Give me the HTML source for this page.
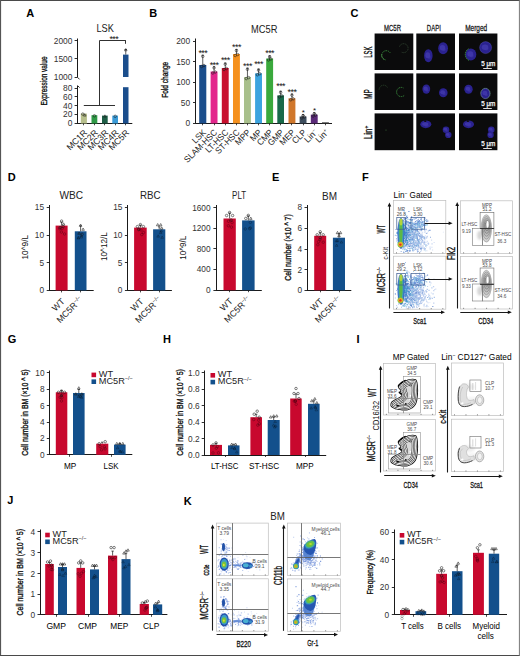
<!DOCTYPE html>
<html><head><meta charset="utf-8"><title>Figure</title>
<style>
html,body{margin:0;padding:0;background:#fff;}
body{width:520px;height:656px;overflow:hidden;}
svg{display:block;font-family:"Liberation Sans", sans-serif;}
</style></head><body>
<svg width="520" height="656" viewBox="0 0 520 656">
<rect x="0" y="0" width="520" height="656" fill="#fff"/>
<text x="26.20" y="17.30" font-size="11" text-anchor="start" font-weight="bold" fill="#000" >A</text>
<text x="96.50" y="32.20" font-size="10.4" text-anchor="start" fill="#222" textLength="17.40" lengthAdjust="spacingAndGlyphs" >LSK</text>
<line x1="77.50" y1="38.50" x2="77.50" y2="77.20" stroke="#1a1a1a" stroke-width="1.0" />
<line x1="77.40" y1="77.20" x2="79.60" y2="79.40" stroke="#1a1a1a" stroke-width="0.9" />
<line x1="77.40" y1="85.40" x2="79.60" y2="87.60" stroke="#1a1a1a" stroke-width="0.9" />
<line x1="77.50" y1="86.00" x2="77.50" y2="123.50" stroke="#1a1a1a" stroke-width="1.0" />
<line x1="74.60" y1="40.50" x2="77.40" y2="40.50" stroke="#1a1a1a" stroke-width="0.9" />
<text x="72.40" y="43.50" font-size="8.4" text-anchor="end" fill="#333" >2000</text>
<line x1="74.60" y1="58.50" x2="77.40" y2="58.50" stroke="#1a1a1a" stroke-width="0.9" />
<text x="72.40" y="61.90" font-size="8.4" text-anchor="end" fill="#333" >1500</text>
<line x1="74.60" y1="77.50" x2="77.40" y2="77.50" stroke="#1a1a1a" stroke-width="0.9" />
<text x="72.40" y="80.30" font-size="8.4" text-anchor="end" fill="#333" >1000</text>
<line x1="74.60" y1="88.50" x2="77.40" y2="88.50" stroke="#1a1a1a" stroke-width="0.9" />
<text x="72.40" y="91.00" font-size="8.4" text-anchor="end" fill="#333" >80</text>
<line x1="74.60" y1="96.50" x2="77.40" y2="96.50" stroke="#1a1a1a" stroke-width="0.9" />
<text x="72.40" y="99.80" font-size="8.4" text-anchor="end" fill="#333" >60</text>
<line x1="74.60" y1="105.50" x2="77.40" y2="105.50" stroke="#1a1a1a" stroke-width="0.9" />
<text x="72.40" y="108.50" font-size="8.4" text-anchor="end" fill="#333" >40</text>
<line x1="74.60" y1="114.50" x2="77.40" y2="114.50" stroke="#1a1a1a" stroke-width="0.9" />
<text x="72.40" y="117.30" font-size="8.4" text-anchor="end" fill="#333" >20</text>
<line x1="74.60" y1="123.50" x2="77.40" y2="123.50" stroke="#1a1a1a" stroke-width="0.9" />
<text x="72.40" y="126.00" font-size="8.4" text-anchor="end" fill="#333" >0</text>
<line x1="76.80" y1="123.50" x2="132.30" y2="123.50" stroke="#1a1a1a" stroke-width="1.0" />
<rect x="80.80" y="113.60" width="6.10" height="9.90" fill="#b7bf8c" />
<line x1="83.50" y1="123.50" x2="83.50" y2="125.30" stroke="#1a1a1a" stroke-width="0.8" />
<rect x="91.50" y="115.20" width="5.80" height="8.30" fill="#2f9946" />
<line x1="94.50" y1="123.50" x2="94.50" y2="125.30" stroke="#1a1a1a" stroke-width="0.8" />
<rect x="102.00" y="115.60" width="5.70" height="7.90" fill="#1e5e46" />
<line x1="104.50" y1="123.50" x2="104.50" y2="125.30" stroke="#1a1a1a" stroke-width="0.8" />
<rect x="112.30" y="115.60" width="5.70" height="7.90" fill="#3b9bd7" />
<line x1="115.50" y1="123.50" x2="115.50" y2="125.30" stroke="#1a1a1a" stroke-width="0.8" />
<circle cx="82.80" cy="114.10" r="1.25" fill="none" stroke="#1a1a1a" stroke-width="0.55"/>
<path d="M83.50 116.10 L84.80 113.80 L86.10 116.10 Z" fill="none" stroke="#1a1a1a" stroke-width="0.55"/>
<circle cx="94.40" cy="115.80" r="1.25" fill="none" stroke="#1a1a1a" stroke-width="0.55"/>
<path d="M103.60 117.10 L104.90 114.80 L106.20 117.10 Z" fill="none" stroke="#1a1a1a" stroke-width="0.55"/>
<circle cx="115.20" cy="116.30" r="1.25" fill="none" stroke="#1a1a1a" stroke-width="0.55"/>
<rect x="123.00" y="54.60" width="5.50" height="22.40" fill="#1b4e8c" />
<rect x="123.00" y="87.20" width="5.50" height="36.30" fill="#1b4e8c" />
<line x1="125.50" y1="123.50" x2="125.50" y2="125.30" stroke="#1a1a1a" stroke-width="0.8" />
<line x1="125.75" y1="54.60" x2="125.75" y2="49.50" stroke="#1a1a1a" stroke-width="0.7" />
<line x1="124.55" y1="49.50" x2="126.95" y2="49.50" stroke="#1a1a1a" stroke-width="0.7" />
<path d="M124.45 50.80 L125.75 48.50 L127.05 50.80 Z" fill="none" stroke="#1a1a1a" stroke-width="0.55"/>
<line x1="83.80" y1="105.50" x2="115.00" y2="105.50" stroke="#1a1a1a" stroke-width="0.9" />
<line x1="99.50" y1="105.00" x2="99.50" y2="40.50" stroke="#1a1a1a" stroke-width="0.9" />
<line x1="99.60" y1="40.50" x2="125.80" y2="40.50" stroke="#1a1a1a" stroke-width="0.9" />
<line x1="125.50" y1="40.50" x2="125.50" y2="43.80" stroke="#1a1a1a" stroke-width="0.9" />
<text x="113.80" y="41.80" font-size="9" text-anchor="middle" fill="#111" letter-spacing="-0.6">***</text>
<text x="0" y="0" font-size="8.8" text-anchor="end" fill="#222" transform="translate(87.80 133.20) rotate(-45)">MC1R</text>
<text x="0" y="0" font-size="8.8" text-anchor="end" fill="#222" transform="translate(98.40 133.20) rotate(-45)">MC2R</text>
<text x="0" y="0" font-size="8.8" text-anchor="end" fill="#222" transform="translate(108.90 133.20) rotate(-45)">MC3R</text>
<text x="0" y="0" font-size="8.8" text-anchor="end" fill="#222" transform="translate(119.20 133.20) rotate(-45)">MC4R</text>
<text x="0" y="0" font-size="8.8" text-anchor="end" fill="#222" transform="translate(129.80 133.20) rotate(-45)">MC5R</text>
<text x="0" y="0" font-size="9.6" text-anchor="middle" fill="#111" stroke="#111" stroke-width="0.35" textLength="49.00" lengthAdjust="spacingAndGlyphs" transform="translate(43.20 81.00) rotate(-90)" dy="0.35em">Expression value</text>
<text x="149.20" y="17.30" font-size="11" text-anchor="start" font-weight="bold" fill="#000" >B</text>
<text x="251.00" y="32.60" font-size="10.4" text-anchor="start" fill="#222" textLength="26.40" lengthAdjust="spacingAndGlyphs" >MC5R</text>
<line x1="195.50" y1="38.50" x2="195.50" y2="123.50" stroke="#1a1a1a" stroke-width="1.0" />
<line x1="193.00" y1="41.50" x2="195.80" y2="41.50" stroke="#1a1a1a" stroke-width="0.9" />
<text x="190.20" y="44.00" font-size="8.4" text-anchor="end" fill="#333" >200</text>
<line x1="193.00" y1="61.50" x2="195.80" y2="61.50" stroke="#1a1a1a" stroke-width="0.9" />
<text x="190.20" y="64.50" font-size="8.4" text-anchor="end" fill="#333" >150</text>
<line x1="193.00" y1="82.50" x2="195.80" y2="82.50" stroke="#1a1a1a" stroke-width="0.9" />
<text x="190.20" y="85.00" font-size="8.4" text-anchor="end" fill="#333" >100</text>
<line x1="193.00" y1="102.50" x2="195.80" y2="102.50" stroke="#1a1a1a" stroke-width="0.9" />
<text x="190.20" y="105.50" font-size="8.4" text-anchor="end" fill="#333" >50</text>
<line x1="193.00" y1="123.50" x2="195.80" y2="123.50" stroke="#1a1a1a" stroke-width="0.9" />
<text x="190.20" y="126.00" font-size="8.4" text-anchor="end" fill="#333" >0</text>
<line x1="195.30" y1="123.50" x2="332.00" y2="123.50" stroke="#1a1a1a" stroke-width="1.0" />
<rect x="199.20" y="65.00" width="7.10" height="58.40" fill="#1b4e8c" />
<line x1="202.50" y1="123.40" x2="202.50" y2="125.30" stroke="#1a1a1a" stroke-width="0.8" />
<line x1="202.75" y1="65.00" x2="202.75" y2="55.20" stroke="#1a1a1a" stroke-width="0.7" />
<line x1="201.65" y1="55.20" x2="203.85" y2="55.20" stroke="#1a1a1a" stroke-width="0.7" />
<circle cx="201.55" cy="66.50" r="1.25" fill="none" stroke="#1a1a1a" stroke-width="0.55"/>
<circle cx="203.95" cy="65.50" r="1.25" fill="none" stroke="#1a1a1a" stroke-width="0.55"/>
<circle cx="202.75" cy="56.40" r="1.25" fill="none" stroke="#1a1a1a" stroke-width="0.55"/>
<text x="202.75" y="56.20" font-size="9" text-anchor="middle" fill="#111" letter-spacing="-0.6">***</text>
<rect x="210.60" y="71.50" width="6.90" height="51.90" fill="#e3268c" />
<line x1="214.50" y1="123.40" x2="214.50" y2="125.30" stroke="#1a1a1a" stroke-width="0.8" />
<line x1="214.05" y1="71.50" x2="214.05" y2="66.70" stroke="#1a1a1a" stroke-width="0.7" />
<line x1="212.95" y1="66.70" x2="215.15" y2="66.70" stroke="#1a1a1a" stroke-width="0.7" />
<circle cx="212.85" cy="73.00" r="1.25" fill="none" stroke="#1a1a1a" stroke-width="0.55"/>
<circle cx="215.25" cy="72.00" r="1.25" fill="none" stroke="#1a1a1a" stroke-width="0.55"/>
<circle cx="214.05" cy="67.90" r="1.25" fill="none" stroke="#1a1a1a" stroke-width="0.55"/>
<text x="214.05" y="67.80" font-size="9" text-anchor="middle" fill="#111" letter-spacing="-0.6">***</text>
<rect x="221.80" y="68.00" width="6.90" height="55.40" fill="#c8102e" />
<line x1="225.50" y1="123.40" x2="225.50" y2="125.30" stroke="#1a1a1a" stroke-width="0.8" />
<line x1="225.25" y1="68.00" x2="225.25" y2="63.00" stroke="#1a1a1a" stroke-width="0.7" />
<line x1="224.15" y1="63.00" x2="226.35" y2="63.00" stroke="#1a1a1a" stroke-width="0.7" />
<circle cx="224.05" cy="69.50" r="1.25" fill="none" stroke="#1a1a1a" stroke-width="0.55"/>
<circle cx="226.45" cy="68.50" r="1.25" fill="none" stroke="#1a1a1a" stroke-width="0.55"/>
<circle cx="225.25" cy="64.20" r="1.25" fill="none" stroke="#1a1a1a" stroke-width="0.55"/>
<text x="225.25" y="62.80" font-size="9" text-anchor="middle" fill="#111" letter-spacing="-0.6">***</text>
<rect x="233.00" y="54.00" width="6.90" height="69.40" fill="#f5911e" />
<line x1="236.50" y1="123.40" x2="236.50" y2="125.30" stroke="#1a1a1a" stroke-width="0.8" />
<line x1="236.45" y1="54.00" x2="236.45" y2="49.40" stroke="#1a1a1a" stroke-width="0.7" />
<line x1="235.35" y1="49.40" x2="237.55" y2="49.40" stroke="#1a1a1a" stroke-width="0.7" />
<circle cx="235.25" cy="55.50" r="1.25" fill="none" stroke="#1a1a1a" stroke-width="0.55"/>
<circle cx="237.65" cy="54.50" r="1.25" fill="none" stroke="#1a1a1a" stroke-width="0.55"/>
<circle cx="236.45" cy="50.60" r="1.25" fill="none" stroke="#1a1a1a" stroke-width="0.55"/>
<text x="236.45" y="49.80" font-size="9" text-anchor="middle" fill="#111" letter-spacing="-0.6">***</text>
<rect x="244.00" y="77.10" width="6.90" height="46.30" fill="#a8bf8b" />
<line x1="247.50" y1="123.40" x2="247.50" y2="125.30" stroke="#1a1a1a" stroke-width="0.8" />
<line x1="247.45" y1="77.10" x2="247.45" y2="68.10" stroke="#1a1a1a" stroke-width="0.7" />
<line x1="246.35" y1="68.10" x2="248.55" y2="68.10" stroke="#1a1a1a" stroke-width="0.7" />
<circle cx="246.25" cy="78.60" r="1.25" fill="none" stroke="#1a1a1a" stroke-width="0.55"/>
<circle cx="248.65" cy="77.60" r="1.25" fill="none" stroke="#1a1a1a" stroke-width="0.55"/>
<circle cx="247.45" cy="69.30" r="1.25" fill="none" stroke="#1a1a1a" stroke-width="0.55"/>
<text x="247.45" y="68.60" font-size="9" text-anchor="middle" fill="#111" letter-spacing="-0.6">***</text>
<rect x="255.10" y="73.30" width="6.90" height="50.10" fill="#3ca4df" />
<line x1="258.50" y1="123.40" x2="258.50" y2="125.30" stroke="#1a1a1a" stroke-width="0.8" />
<line x1="258.55" y1="73.30" x2="258.55" y2="69.00" stroke="#1a1a1a" stroke-width="0.7" />
<line x1="257.45" y1="69.00" x2="259.65" y2="69.00" stroke="#1a1a1a" stroke-width="0.7" />
<circle cx="257.35" cy="74.80" r="1.25" fill="none" stroke="#1a1a1a" stroke-width="0.55"/>
<circle cx="259.75" cy="73.80" r="1.25" fill="none" stroke="#1a1a1a" stroke-width="0.55"/>
<circle cx="258.55" cy="70.20" r="1.25" fill="none" stroke="#1a1a1a" stroke-width="0.55"/>
<text x="258.55" y="66.60" font-size="9" text-anchor="middle" fill="#111" letter-spacing="-0.6">***</text>
<rect x="266.20" y="58.50" width="6.90" height="64.90" fill="#3aa93c" />
<line x1="269.50" y1="123.40" x2="269.50" y2="125.30" stroke="#1a1a1a" stroke-width="0.8" />
<line x1="269.65" y1="58.50" x2="269.65" y2="55.70" stroke="#1a1a1a" stroke-width="0.7" />
<line x1="268.55" y1="55.70" x2="270.75" y2="55.70" stroke="#1a1a1a" stroke-width="0.7" />
<circle cx="268.45" cy="60.00" r="1.25" fill="none" stroke="#1a1a1a" stroke-width="0.55"/>
<circle cx="270.85" cy="59.00" r="1.25" fill="none" stroke="#1a1a1a" stroke-width="0.55"/>
<circle cx="269.65" cy="56.90" r="1.25" fill="none" stroke="#1a1a1a" stroke-width="0.55"/>
<text x="269.65" y="56.20" font-size="9" text-anchor="middle" fill="#111" letter-spacing="-0.6">***</text>
<rect x="277.30" y="95.40" width="6.70" height="28.00" fill="#186a4a" />
<line x1="280.50" y1="123.40" x2="280.50" y2="125.30" stroke="#1a1a1a" stroke-width="0.8" />
<line x1="280.65" y1="95.40" x2="280.65" y2="91.20" stroke="#1a1a1a" stroke-width="0.7" />
<line x1="279.55" y1="91.20" x2="281.75" y2="91.20" stroke="#1a1a1a" stroke-width="0.7" />
<circle cx="279.45" cy="96.90" r="1.25" fill="none" stroke="#1a1a1a" stroke-width="0.55"/>
<circle cx="281.85" cy="95.90" r="1.25" fill="none" stroke="#1a1a1a" stroke-width="0.55"/>
<circle cx="280.65" cy="92.40" r="1.25" fill="none" stroke="#1a1a1a" stroke-width="0.55"/>
<text x="280.65" y="89.40" font-size="9" text-anchor="middle" fill="#111" letter-spacing="-0.6">***</text>
<rect x="288.50" y="98.30" width="6.90" height="25.10" fill="#d0772b" />
<line x1="291.50" y1="123.40" x2="291.50" y2="125.30" stroke="#1a1a1a" stroke-width="0.8" />
<line x1="291.95" y1="98.30" x2="291.95" y2="94.00" stroke="#1a1a1a" stroke-width="0.7" />
<line x1="290.85" y1="94.00" x2="293.05" y2="94.00" stroke="#1a1a1a" stroke-width="0.7" />
<circle cx="290.75" cy="99.80" r="1.25" fill="none" stroke="#1a1a1a" stroke-width="0.55"/>
<circle cx="293.15" cy="98.80" r="1.25" fill="none" stroke="#1a1a1a" stroke-width="0.55"/>
<circle cx="291.95" cy="95.20" r="1.25" fill="none" stroke="#1a1a1a" stroke-width="0.55"/>
<text x="291.95" y="94.60" font-size="9" text-anchor="middle" fill="#111" letter-spacing="-0.6">***</text>
<rect x="299.60" y="116.50" width="6.90" height="6.90" fill="#3e4e5e" />
<line x1="303.50" y1="123.40" x2="303.50" y2="125.30" stroke="#1a1a1a" stroke-width="0.8" />
<line x1="303.05" y1="116.50" x2="303.05" y2="114.50" stroke="#1a1a1a" stroke-width="0.7" />
<line x1="301.95" y1="114.50" x2="304.15" y2="114.50" stroke="#1a1a1a" stroke-width="0.7" />
<circle cx="301.85" cy="118.00" r="1.25" fill="none" stroke="#1a1a1a" stroke-width="0.55"/>
<circle cx="304.25" cy="117.00" r="1.25" fill="none" stroke="#1a1a1a" stroke-width="0.55"/>
<circle cx="303.05" cy="115.70" r="1.25" fill="none" stroke="#1a1a1a" stroke-width="0.55"/>
<text x="303.05" y="115.30" font-size="8" text-anchor="middle" fill="#111" letter-spacing="-0.6">*</text>
<rect x="310.80" y="114.60" width="6.90" height="8.80" fill="#5a2a78" />
<line x1="314.50" y1="123.40" x2="314.50" y2="125.30" stroke="#1a1a1a" stroke-width="0.8" />
<line x1="314.25" y1="114.60" x2="314.25" y2="112.60" stroke="#1a1a1a" stroke-width="0.7" />
<line x1="313.15" y1="112.60" x2="315.35" y2="112.60" stroke="#1a1a1a" stroke-width="0.7" />
<circle cx="313.05" cy="116.10" r="1.25" fill="none" stroke="#1a1a1a" stroke-width="0.55"/>
<circle cx="315.45" cy="115.10" r="1.25" fill="none" stroke="#1a1a1a" stroke-width="0.55"/>
<circle cx="314.25" cy="113.80" r="1.25" fill="none" stroke="#1a1a1a" stroke-width="0.55"/>
<text x="314.25" y="112.70" font-size="8" text-anchor="middle" fill="#111" letter-spacing="-0.6">*</text>
<rect x="322.00" y="122.30" width="6.90" height="1.10" fill="#444" />
<line x1="325.50" y1="123.40" x2="325.50" y2="125.30" stroke="#1a1a1a" stroke-width="0.8" />
<text x="0" y="0" font-size="8.8" text-anchor="end" fill="#222" textLength="15.64" lengthAdjust="spacingAndGlyphs" transform="translate(206.55 133.00) rotate(-45)">LSK</text>
<text x="0" y="0" font-size="8.8" text-anchor="end" fill="#222" textLength="42.75" lengthAdjust="spacingAndGlyphs" transform="translate(217.85 133.00) rotate(-45)">SLAM-HSC</text>
<text x="0" y="0" font-size="8.8" text-anchor="end" fill="#222" textLength="28.80" lengthAdjust="spacingAndGlyphs" transform="translate(229.05 133.00) rotate(-45)">LT-HSC</text>
<text x="0" y="0" font-size="8.8" text-anchor="end" fill="#222" textLength="30.33" lengthAdjust="spacingAndGlyphs" transform="translate(240.25 133.00) rotate(-45)">ST-HSC</text>
<text x="0" y="0" font-size="8.8" text-anchor="end" fill="#222" textLength="17.93" lengthAdjust="spacingAndGlyphs" transform="translate(251.25 133.00) rotate(-45)">MPP</text>
<text x="0" y="0" font-size="8.8" text-anchor="end" fill="#222" textLength="12.41" lengthAdjust="spacingAndGlyphs" transform="translate(262.35 133.00) rotate(-45)">MP</text>
<text x="0" y="0" font-size="8.8" text-anchor="end" fill="#222" textLength="18.38" lengthAdjust="spacingAndGlyphs" transform="translate(273.45 133.00) rotate(-45)">CMP</text>
<text x="0" y="0" font-size="8.8" text-anchor="end" fill="#222" textLength="18.84" lengthAdjust="spacingAndGlyphs" transform="translate(284.45 133.00) rotate(-45)">GMP</text>
<text x="0" y="0" font-size="8.8" text-anchor="end" fill="#222" textLength="17.93" lengthAdjust="spacingAndGlyphs" transform="translate(295.75 133.00) rotate(-45)">MEP</text>
<text x="0" y="0" font-size="8.8" text-anchor="end" fill="#222" textLength="16.09" lengthAdjust="spacingAndGlyphs" transform="translate(306.85 133.00) rotate(-45)">CLP</text>
<text x="0" y="0" font-size="8.8" text-anchor="end" fill="#222" transform="translate(318.05 133.00) rotate(-45)">Lin<tspan font-size="5" dy="-3.2">−</tspan></text>
<text x="0" y="0" font-size="8.8" text-anchor="end" fill="#222" transform="translate(329.25 133.00) rotate(-45)">Lin<tspan font-size="5" dy="-3.2">+</tspan></text>
<text x="0" y="0" font-size="9.4" text-anchor="middle" fill="#111" stroke="#111" stroke-width="0.35" textLength="36.00" lengthAdjust="spacingAndGlyphs" transform="translate(165.00 79.80) rotate(-90)" dy="0.35em">Fold change</text>
<text x="350.40" y="17.00" font-size="11" text-anchor="start" font-weight="bold" fill="#000" >C</text>
<text x="384.00" y="30.90" font-size="9.8" fill="#1a1a1a" stroke="#1a1a1a" stroke-width="0.3" textLength="17.00" lengthAdjust="spacingAndGlyphs">MC5R</text>
<text x="426.80" y="30.90" font-size="9.8" fill="#1a1a1a" stroke="#1a1a1a" stroke-width="0.3" textLength="14.00" lengthAdjust="spacingAndGlyphs">DAPI</text>
<text x="465.20" y="30.90" font-size="9.8" fill="#1a1a1a" stroke="#1a1a1a" stroke-width="0.3" textLength="22.00" lengthAdjust="spacingAndGlyphs">Merged</text>
<defs><filter id="bl05" x="-20%" y="-20%" width="140%" height="140%"><feGaussianBlur stdDeviation="0.35"/></filter><filter id="bl1" x="-50%" y="-50%" width="200%" height="200%"><feGaussianBlur stdDeviation="0.7"/></filter><filter id="bl2" x="-50%" y="-50%" width="200%" height="200%"><feGaussianBlur stdDeviation="1.2"/></filter><filter id="bl3" x="-50%" y="-50%" width="200%" height="200%"><feGaussianBlur stdDeviation="2.0"/></filter><filter id="bl4" x="-50%" y="-50%" width="200%" height="200%"><feGaussianBlur stdDeviation="3.0"/></filter></defs>
<rect x="374.60" y="33.50" width="38.70" height="36.50" fill="#0b0b0c" />
<rect x="374.60" y="73.40" width="38.70" height="36.60" fill="#0b0b0c" />
<rect x="374.60" y="113.40" width="38.70" height="36.80" fill="#0b0b0c" />
<rect x="416.30" y="33.50" width="38.70" height="36.50" fill="#0b0b0c" />
<rect x="416.30" y="73.40" width="38.70" height="36.60" fill="#0b0b0c" />
<rect x="416.30" y="113.40" width="38.70" height="36.80" fill="#0b0b0c" />
<rect x="459.00" y="33.50" width="38.40" height="36.50" fill="#0b0b0c" />
<rect x="459.00" y="73.40" width="38.40" height="36.60" fill="#0b0b0c" />
<rect x="459.00" y="113.40" width="38.40" height="36.80" fill="#0b0b0c" />
<path d="M385.50 59.83 A4.6 4.6 0 1 1 390.28 53.00" fill="none" stroke="#3f9a42" stroke-width="0.9" opacity="0.9" stroke-dasharray="1.4 0.7" filter="url(#bl05)"/>
<path d="M384.00 59.28 A4.6 4.6 0 0 1 381.98 53.73" fill="none" stroke="#6fd06a" stroke-width="0.7" opacity="0.8" stroke-dasharray="1.4 0.7" filter="url(#bl05)"/>
<path d="M399.37 46.66 A4.5 4.5 0 1 1 401.35 52.10" fill="none" stroke="#4a6a4a" stroke-width="0.6" opacity="0.8" stroke-dasharray="1.4 0.7" filter="url(#bl05)"/>
<ellipse cx="428.30" cy="55.70" rx="4.3" ry="6.5" fill="#2a2290" filter="url(#bl1)"/>
<ellipse cx="427.70" cy="55.30" rx="2.37" ry="2.93" fill="#4c42b8" opacity="0.6" filter="url(#bl1)"/>
<ellipse cx="429.10" cy="56.90" rx="1.50" ry="1.95" fill="#4038a8" opacity="0.6" filter="url(#bl05)"/>
<ellipse cx="443.10" cy="48.20" rx="4.9" ry="6.0" fill="#2a2290" filter="url(#bl1)"/>
<ellipse cx="442.50" cy="47.80" rx="2.70" ry="2.70" fill="#4c42b8" opacity="0.6" filter="url(#bl1)"/>
<ellipse cx="443.90" cy="49.40" rx="1.72" ry="1.80" fill="#4038a8" opacity="0.6" filter="url(#bl05)"/>
<ellipse cx="470.90" cy="54.50" rx="5.4" ry="6.1" fill="#2a2290" filter="url(#bl1)"/>
<ellipse cx="470.30" cy="54.10" rx="2.97" ry="2.75" fill="#4c42b8" opacity="0.6" filter="url(#bl1)"/>
<ellipse cx="471.70" cy="55.70" rx="1.89" ry="1.83" fill="#4038a8" opacity="0.6" filter="url(#bl05)"/>
<path d="M468.98 60.33 A5.6 6.2 0 0 1 468.98 48.67" fill="none" stroke="#3f9a42" stroke-width="0.9" opacity="1.0" stroke-dasharray="1.4 0.7" filter="url(#bl05)"/>
<ellipse cx="485.60" cy="47.60" rx="6.0" ry="6.0" fill="#2a2290" filter="url(#bl1)"/>
<ellipse cx="485.00" cy="47.20" rx="3.30" ry="2.70" fill="#4c42b8" opacity="0.6" filter="url(#bl1)"/>
<ellipse cx="486.40" cy="48.80" rx="2.10" ry="1.80" fill="#4038a8" opacity="0.6" filter="url(#bl05)"/>
<ellipse cx="485.6" cy="47.6" rx="6.0" ry="6.0" fill="none" stroke="#6a6ad8" stroke-width="0.5" opacity="0.6"/>
<path d="M379.10 89.70 A4.5 4.5 0 0 1 387.50 87.45" fill="none" stroke="#3d6a3e" stroke-width="0.7" opacity="0.7" stroke-dasharray="1.4 0.7" filter="url(#bl05)"/>
<path d="M404.16 95.52 A4.6 4.6 0 1 1 403.50 88.02" fill="none" stroke="#3f9a42" stroke-width="0.8" opacity="1.0" stroke-dasharray="1.4 0.7" filter="url(#bl05)"/>
<ellipse cx="426.30" cy="89.10" rx="3.9" ry="4.7" fill="#2a2290" filter="url(#bl1)"/>
<ellipse cx="425.70" cy="88.70" rx="2.15" ry="2.12" fill="#4c42b8" opacity="0.6" filter="url(#bl1)"/>
<ellipse cx="427.10" cy="90.30" rx="1.36" ry="1.41" fill="#4038a8" opacity="0.6" filter="url(#bl05)"/>
<ellipse cx="443.30" cy="92.70" rx="4.3" ry="4.5" fill="#2a2290" filter="url(#bl1)"/>
<ellipse cx="442.70" cy="92.30" rx="2.37" ry="2.02" fill="#4c42b8" opacity="0.6" filter="url(#bl1)"/>
<ellipse cx="444.10" cy="93.90" rx="1.50" ry="1.35" fill="#4038a8" opacity="0.6" filter="url(#bl05)"/>
<ellipse cx="468.50" cy="89.20" rx="4.2" ry="4.5" fill="#2a2290" filter="url(#bl1)"/>
<ellipse cx="467.90" cy="88.80" rx="2.31" ry="2.02" fill="#4c42b8" opacity="0.6" filter="url(#bl1)"/>
<ellipse cx="469.30" cy="90.40" rx="1.47" ry="1.35" fill="#4038a8" opacity="0.6" filter="url(#bl05)"/>
<ellipse cx="485.40" cy="93.50" rx="4.5" ry="5.0" fill="#2a2290" filter="url(#bl1)"/>
<ellipse cx="484.80" cy="93.10" rx="2.48" ry="2.25" fill="#4c42b8" opacity="0.6" filter="url(#bl1)"/>
<ellipse cx="486.20" cy="94.70" rx="1.57" ry="1.50" fill="#4038a8" opacity="0.6" filter="url(#bl05)"/>
<ellipse cx="485.4" cy="93.5" rx="4.6" ry="5.1" fill="none" stroke="#8fa0e0" stroke-width="0.6" opacity="0.8"/>
<path d="M480.60 93.50 A4.8 5.3 0 1 1 487.04 98.48" fill="none" stroke="#5ab05a" stroke-width="0.6" opacity="0.6" stroke-dasharray="1.4 0.7" filter="url(#bl05)"/>
<circle cx="386" cy="130" r="0.6" fill="#3a6a3a"/>
<ellipse cx="425.80" cy="124.30" rx="5.5" ry="3.9" fill="#2a2290" filter="url(#bl1)"/>
<ellipse cx="425.20" cy="123.90" rx="3.03" ry="1.75" fill="#4c42b8" opacity="0.6" filter="url(#bl1)"/>
<ellipse cx="426.60" cy="125.50" rx="1.92" ry="1.17" fill="#4038a8" opacity="0.6" filter="url(#bl05)"/>
<ellipse cx="425.20" cy="121.2" rx="1.2" ry="0.8" fill="#0b0b0c" filter="url(#bl05)"/>
<ellipse cx="446.00" cy="129.70" rx="3.3" ry="3.2" fill="#2a2290" filter="url(#bl1)"/>
<ellipse cx="445.40" cy="129.30" rx="1.81" ry="1.44" fill="#4c42b8" opacity="0.6" filter="url(#bl1)"/>
<ellipse cx="446.80" cy="130.90" rx="1.15" ry="0.96" fill="#4038a8" opacity="0.6" filter="url(#bl05)"/>
<ellipse cx="448.30" cy="134.90" rx="3.2" ry="3.1" fill="#2a2290" filter="url(#bl1)"/>
<ellipse cx="447.70" cy="134.50" rx="1.76" ry="1.40" fill="#4c42b8" opacity="0.6" filter="url(#bl1)"/>
<ellipse cx="449.10" cy="136.10" rx="1.12" ry="0.93" fill="#4038a8" opacity="0.6" filter="url(#bl05)"/>
<ellipse cx="468.50" cy="124.30" rx="5.5" ry="3.9" fill="#2a2290" filter="url(#bl1)"/>
<ellipse cx="467.90" cy="123.90" rx="3.03" ry="1.75" fill="#4c42b8" opacity="0.6" filter="url(#bl1)"/>
<ellipse cx="469.30" cy="125.50" rx="1.92" ry="1.17" fill="#4038a8" opacity="0.6" filter="url(#bl05)"/>
<ellipse cx="467.90" cy="121.2" rx="1.2" ry="0.8" fill="#0b0b0c" filter="url(#bl05)"/>
<ellipse cx="491.26" cy="129.70" rx="3.3" ry="3.2" fill="#2a2290" filter="url(#bl1)"/>
<ellipse cx="490.66" cy="129.30" rx="1.81" ry="1.44" fill="#4c42b8" opacity="0.6" filter="url(#bl1)"/>
<ellipse cx="492.06" cy="130.90" rx="1.15" ry="0.96" fill="#4038a8" opacity="0.6" filter="url(#bl05)"/>
<ellipse cx="490.57" cy="134.90" rx="3.2" ry="3.1" fill="#2a2290" filter="url(#bl1)"/>
<ellipse cx="489.97" cy="134.50" rx="1.76" ry="1.40" fill="#4c42b8" opacity="0.6" filter="url(#bl1)"/>
<ellipse cx="491.37" cy="136.10" rx="1.12" ry="0.93" fill="#4038a8" opacity="0.6" filter="url(#bl05)"/>
<text x="481.2" y="65.80" font-size="7.4" fill="#fff" stroke="#fff" stroke-width="0.25" textLength="14.2" lengthAdjust="spacingAndGlyphs">5 μm</text>
<line x1="483.20" y1="68.50" x2="491.80" y2="68.50" stroke="#ddd" stroke-width="1.0" />
<text x="481.2" y="105.80" font-size="7.4" fill="#fff" stroke="#fff" stroke-width="0.25" textLength="14.2" lengthAdjust="spacingAndGlyphs">5 μm</text>
<line x1="483.20" y1="108.50" x2="491.80" y2="108.50" stroke="#ddd" stroke-width="1.0" />
<text x="481.2" y="146.00" font-size="7.4" fill="#fff" stroke="#fff" stroke-width="0.25" textLength="14.2" lengthAdjust="spacingAndGlyphs">5 μm</text>
<line x1="483.20" y1="148.50" x2="491.80" y2="148.50" stroke="#ddd" stroke-width="1.0" />
<text x="0" y="0" font-size="10.0" text-anchor="middle" fill="#111" stroke="#111" stroke-width="0.35" textLength="11.20" lengthAdjust="spacingAndGlyphs" transform="translate(368.70 52.20) rotate(-90)" dy="0.35em">LSK</text>
<text x="0" y="0" font-size="10.0" text-anchor="middle" fill="#111" stroke="#111" stroke-width="0.35" textLength="9.40" lengthAdjust="spacingAndGlyphs" transform="translate(368.90 94.00) rotate(-90)" dy="0.35em">MP</text>
<text x="0" y="0" font-size="10" text-anchor="middle" fill="#111" stroke="#111" stroke-width="0.35" textLength="13.5" lengthAdjust="spacingAndGlyphs" transform="translate(368.7 132.4) rotate(-90)" dy="0.35em">Lin<tspan font-size="6" dy="-3.8">+</tspan></text>
<text x="7.80" y="181.00" font-size="11" text-anchor="start" font-weight="bold" fill="#000" >D</text>
<text x="59.50" y="199.40" font-size="10.4" text-anchor="start" fill="#222" textLength="23.60" lengthAdjust="spacingAndGlyphs" >WBC</text>
<line x1="49.50" y1="205.00" x2="49.50" y2="290.40" stroke="#1a1a1a" stroke-width="1.0" />
<line x1="46.70" y1="207.50" x2="49.50" y2="207.50" stroke="#1a1a1a" stroke-width="0.9" />
<text x="44.00" y="210.39" font-size="8.3" text-anchor="end" fill="#333" >15</text>
<line x1="46.70" y1="235.50" x2="49.50" y2="235.50" stroke="#1a1a1a" stroke-width="0.9" />
<text x="44.00" y="237.99" font-size="8.3" text-anchor="end" fill="#333" >10</text>
<line x1="46.70" y1="262.50" x2="49.50" y2="262.50" stroke="#1a1a1a" stroke-width="0.9" />
<text x="44.00" y="265.69" font-size="8.3" text-anchor="end" fill="#333" >5</text>
<line x1="46.70" y1="290.50" x2="49.50" y2="290.50" stroke="#1a1a1a" stroke-width="0.9" />
<text x="44.00" y="293.39" font-size="8.3" text-anchor="end" fill="#333" >0</text>
<line x1="49.00" y1="290.50" x2="93.70" y2="290.50" stroke="#1a1a1a" stroke-width="1.0" />
<rect x="55.60" y="225.60" width="12.00" height="64.80" fill="#c8082e" />
<rect x="74.80" y="231.30" width="11.70" height="59.10" fill="#13508c" />
<circle cx="62.12" cy="228.56" r="1.25" fill="none" stroke="rgba(0,0,0,0.45)" stroke-width="0.55"/>
<circle cx="64.58" cy="234.03" r="1.25" fill="none" stroke="rgba(0,0,0,0.45)" stroke-width="0.55"/>
<circle cx="61.39" cy="232.08" r="1.25" fill="none" stroke="rgba(0,0,0,0.45)" stroke-width="0.55"/>
<circle cx="59.77" cy="228.76" r="1.25" fill="none" stroke="rgba(0,0,0,0.45)" stroke-width="0.55"/>
<line x1="61.60" y1="225.60" x2="61.60" y2="222.10" stroke="#1a1a1a" stroke-width="0.7" />
<line x1="60.40" y1="222.10" x2="62.80" y2="222.10" stroke="#1a1a1a" stroke-width="0.7" />
<circle cx="60.10" cy="227.60" r="1.25" fill="none" stroke="#1a1a1a" stroke-width="0.55"/>
<circle cx="63.10" cy="226.60" r="1.25" fill="none" stroke="#1a1a1a" stroke-width="0.55"/>
<circle cx="61.60" cy="221.10" r="1.25" fill="none" stroke="#1a1a1a" stroke-width="0.55"/>
<path d="M62.30 225.10 L63.60 222.80 L64.90 225.10 Z" fill="none" stroke="#1a1a1a" stroke-width="0.55"/>
<path d="M77.05 238.42 L78.35 236.12 L79.65 238.42 Z" fill="none" stroke="rgba(0,0,0,0.45)" stroke-width="0.55"/>
<path d="M77.19 239.14 L78.49 236.84 L79.79 239.14 Z" fill="none" stroke="rgba(0,0,0,0.45)" stroke-width="0.55"/>
<path d="M79.99 236.68 L81.29 234.38 L82.59 236.68 Z" fill="none" stroke="rgba(0,0,0,0.45)" stroke-width="0.55"/>
<path d="M80.05 238.05 L81.35 235.75 L82.65 238.05 Z" fill="none" stroke="rgba(0,0,0,0.45)" stroke-width="0.55"/>
<line x1="80.60" y1="231.30" x2="80.60" y2="225.80" stroke="#1a1a1a" stroke-width="0.7" />
<line x1="79.40" y1="225.80" x2="81.80" y2="225.80" stroke="#1a1a1a" stroke-width="0.7" />
<path d="M77.80 234.30 L79.10 232.00 L80.40 234.30 Z" fill="none" stroke="#1a1a1a" stroke-width="0.55"/>
<path d="M81.80 230.30 L83.10 228.00 L84.40 230.30 Z" fill="none" stroke="#1a1a1a" stroke-width="0.55"/>
<path d="M79.30 226.30 L80.60 224.00 L81.90 226.30 Z" fill="none" stroke="#1a1a1a" stroke-width="0.55"/>
<circle cx="82.10" cy="234.30" r="1.25" fill="none" stroke="#1a1a1a" stroke-width="0.55"/>
<text x="0" y="0" font-size="9.6" text-anchor="middle" fill="#111" textLength="24.60" lengthAdjust="spacingAndGlyphs" transform="translate(24.60 247.20) rotate(-90)" dy="0.35em">10^9/L</text>
<text x="140.00" y="199.40" font-size="10.4" text-anchor="start" fill="#222" textLength="20.60" lengthAdjust="spacingAndGlyphs" >RBC</text>
<line x1="127.50" y1="205.00" x2="127.50" y2="290.40" stroke="#1a1a1a" stroke-width="1.0" />
<line x1="124.90" y1="207.50" x2="127.70" y2="207.50" stroke="#1a1a1a" stroke-width="0.9" />
<text x="122.40" y="210.29" font-size="8.3" text-anchor="end" fill="#333" >15</text>
<line x1="124.90" y1="235.50" x2="127.70" y2="235.50" stroke="#1a1a1a" stroke-width="0.9" />
<text x="122.40" y="238.39" font-size="8.3" text-anchor="end" fill="#333" >10</text>
<line x1="124.90" y1="262.50" x2="127.70" y2="262.50" stroke="#1a1a1a" stroke-width="0.9" />
<text x="122.40" y="265.69" font-size="8.3" text-anchor="end" fill="#333" >5</text>
<line x1="124.90" y1="290.50" x2="127.70" y2="290.50" stroke="#1a1a1a" stroke-width="0.9" />
<text x="122.40" y="293.39" font-size="8.3" text-anchor="end" fill="#333" >0</text>
<line x1="127.20" y1="290.50" x2="171.90" y2="290.50" stroke="#1a1a1a" stroke-width="1.0" />
<rect x="134.10" y="227.60" width="12.60" height="62.80" fill="#c8082e" />
<rect x="153.10" y="229.30" width="12.20" height="61.10" fill="#13508c" />
<circle cx="143.47" cy="232.52" r="1.25" fill="none" stroke="rgba(0,0,0,0.45)" stroke-width="0.55"/>
<circle cx="141.80" cy="234.61" r="1.25" fill="none" stroke="rgba(0,0,0,0.45)" stroke-width="0.55"/>
<circle cx="138.58" cy="229.69" r="1.25" fill="none" stroke="rgba(0,0,0,0.45)" stroke-width="0.55"/>
<circle cx="141.06" cy="230.01" r="1.25" fill="none" stroke="rgba(0,0,0,0.45)" stroke-width="0.55"/>
<line x1="140.40" y1="227.60" x2="140.40" y2="225.10" stroke="#1a1a1a" stroke-width="0.7" />
<line x1="139.20" y1="225.10" x2="141.60" y2="225.10" stroke="#1a1a1a" stroke-width="0.7" />
<circle cx="137.40" cy="226.60" r="1.25" fill="none" stroke="#1a1a1a" stroke-width="0.55"/>
<circle cx="143.40" cy="226.60" r="1.25" fill="none" stroke="#1a1a1a" stroke-width="0.55"/>
<circle cx="140.40" cy="224.60" r="1.25" fill="none" stroke="#1a1a1a" stroke-width="0.55"/>
<circle cx="138.90" cy="229.10" r="1.25" fill="none" stroke="#1a1a1a" stroke-width="0.55"/>
<path d="M160.84 238.34 L162.14 236.04 L163.44 238.34 Z" fill="none" stroke="rgba(0,0,0,0.45)" stroke-width="0.55"/>
<path d="M159.38 233.51 L160.68 231.21 L161.98 233.51 Z" fill="none" stroke="rgba(0,0,0,0.45)" stroke-width="0.55"/>
<path d="M156.82 237.15 L158.12 234.85 L159.42 237.15 Z" fill="none" stroke="rgba(0,0,0,0.45)" stroke-width="0.55"/>
<path d="M159.86 231.93 L161.16 229.63 L162.46 231.93 Z" fill="none" stroke="rgba(0,0,0,0.45)" stroke-width="0.55"/>
<line x1="159.20" y1="229.30" x2="159.20" y2="226.80" stroke="#1a1a1a" stroke-width="0.7" />
<line x1="158.00" y1="226.80" x2="160.40" y2="226.80" stroke="#1a1a1a" stroke-width="0.7" />
<path d="M156.40 225.80 L157.70 223.50 L159.00 225.80 Z" fill="none" stroke="#1a1a1a" stroke-width="0.55"/>
<path d="M159.40 225.80 L160.70 223.50 L162.00 225.80 Z" fill="none" stroke="#1a1a1a" stroke-width="0.55"/>
<path d="M160.40 229.10 L161.70 226.80 L163.00 229.10 Z" fill="none" stroke="#1a1a1a" stroke-width="0.55"/>
<text x="0" y="0" font-size="9.6" text-anchor="middle" fill="#111" textLength="29.00" lengthAdjust="spacingAndGlyphs" transform="translate(103.80 246.60) rotate(-90)" dy="0.35em">10^12/L</text>
<text x="232.10" y="199.40" font-size="10.4" text-anchor="start" fill="#222" textLength="14.00" lengthAdjust="spacingAndGlyphs" >PLT</text>
<line x1="216.50" y1="205.00" x2="216.50" y2="290.20" stroke="#1a1a1a" stroke-width="1.0" />
<line x1="213.40" y1="207.50" x2="216.20" y2="207.50" stroke="#1a1a1a" stroke-width="0.9" />
<text x="210.60" y="210.89" font-size="8.3" text-anchor="end" fill="#333" >1600</text>
<line x1="213.40" y1="228.50" x2="216.20" y2="228.50" stroke="#1a1a1a" stroke-width="0.9" />
<text x="210.60" y="230.99" font-size="8.3" text-anchor="end" fill="#333" >1200</text>
<line x1="213.40" y1="248.50" x2="216.20" y2="248.50" stroke="#1a1a1a" stroke-width="0.9" />
<text x="210.60" y="251.79" font-size="8.3" text-anchor="end" fill="#333" >800</text>
<line x1="213.40" y1="269.50" x2="216.20" y2="269.50" stroke="#1a1a1a" stroke-width="0.9" />
<text x="210.60" y="272.39" font-size="8.3" text-anchor="end" fill="#333" >400</text>
<line x1="213.40" y1="290.50" x2="216.20" y2="290.50" stroke="#1a1a1a" stroke-width="0.9" />
<text x="210.60" y="292.99" font-size="8.3" text-anchor="end" fill="#333" >0</text>
<line x1="215.70" y1="290.50" x2="261.80" y2="290.50" stroke="#1a1a1a" stroke-width="1.0" />
<rect x="223.50" y="218.50" width="12.30" height="71.70" fill="#c8082e" />
<rect x="242.10" y="220.40" width="12.50" height="69.80" fill="#13508c" />
<circle cx="232.02" cy="222.62" r="1.25" fill="none" stroke="rgba(0,0,0,0.45)" stroke-width="0.55"/>
<circle cx="231.46" cy="227.14" r="1.25" fill="none" stroke="rgba(0,0,0,0.45)" stroke-width="0.55"/>
<circle cx="228.40" cy="225.76" r="1.25" fill="none" stroke="rgba(0,0,0,0.45)" stroke-width="0.55"/>
<circle cx="228.54" cy="221.23" r="1.25" fill="none" stroke="rgba(0,0,0,0.45)" stroke-width="0.55"/>
<line x1="229.60" y1="218.50" x2="229.60" y2="213.00" stroke="#1a1a1a" stroke-width="0.7" />
<line x1="228.40" y1="213.00" x2="230.80" y2="213.00" stroke="#1a1a1a" stroke-width="0.7" />
<circle cx="226.60" cy="215.50" r="1.25" fill="none" stroke="#1a1a1a" stroke-width="0.55"/>
<circle cx="232.60" cy="215.50" r="1.25" fill="none" stroke="#1a1a1a" stroke-width="0.55"/>
<circle cx="229.60" cy="212.50" r="1.25" fill="none" stroke="#1a1a1a" stroke-width="0.55"/>
<circle cx="231.10" cy="220.00" r="1.25" fill="none" stroke="#1a1a1a" stroke-width="0.55"/>
<circle cx="249.65" cy="228.66" r="1.25" fill="none" stroke="rgba(0,0,0,0.45)" stroke-width="0.55"/>
<circle cx="245.21" cy="228.97" r="1.25" fill="none" stroke="rgba(0,0,0,0.45)" stroke-width="0.55"/>
<circle cx="250.35" cy="222.33" r="1.25" fill="none" stroke="rgba(0,0,0,0.45)" stroke-width="0.55"/>
<circle cx="250.26" cy="227.93" r="1.25" fill="none" stroke="rgba(0,0,0,0.45)" stroke-width="0.55"/>
<line x1="248.30" y1="220.40" x2="248.30" y2="215.90" stroke="#1a1a1a" stroke-width="0.7" />
<line x1="247.10" y1="215.90" x2="249.50" y2="215.90" stroke="#1a1a1a" stroke-width="0.7" />
<circle cx="245.80" cy="218.40" r="1.25" fill="none" stroke="#1a1a1a" stroke-width="0.55"/>
<path d="M249.50 219.40 L250.80 217.10 L252.10 219.40 Z" fill="none" stroke="#1a1a1a" stroke-width="0.55"/>
<circle cx="248.30" cy="215.40" r="1.25" fill="none" stroke="#1a1a1a" stroke-width="0.55"/>
<text x="0" y="0" font-size="9.6" text-anchor="middle" fill="#111" textLength="24.00" lengthAdjust="spacingAndGlyphs" transform="translate(183.00 247.80) rotate(-90)" dy="0.35em">10^9/L</text>
<line x1="61.50" y1="290.40" x2="61.50" y2="292.40" stroke="#1a1a1a" stroke-width="0.8" />
<line x1="80.50" y1="290.40" x2="80.50" y2="292.40" stroke="#1a1a1a" stroke-width="0.8" />
<text x="0" y="0" font-size="8.8" text-anchor="end" fill="#222" transform="translate(65.20 302.00) rotate(-45)">WT</text>
<text x="0" y="0" font-size="8.8" text-anchor="end" fill="#222" transform="translate(83.40 300.20) rotate(-45)">MC5R<tspan font-size="5.5" dy="-3.2">−/−</tspan></text>
<line x1="140.50" y1="290.40" x2="140.50" y2="292.40" stroke="#1a1a1a" stroke-width="0.8" />
<line x1="159.50" y1="290.40" x2="159.50" y2="292.40" stroke="#1a1a1a" stroke-width="0.8" />
<text x="0" y="0" font-size="8.8" text-anchor="end" fill="#222" transform="translate(144.00 302.00) rotate(-45)">WT</text>
<text x="0" y="0" font-size="8.8" text-anchor="end" fill="#222" transform="translate(162.00 300.20) rotate(-45)">MC5R<tspan font-size="5.5" dy="-3.2">−/−</tspan></text>
<line x1="229.50" y1="290.20" x2="229.50" y2="292.20" stroke="#1a1a1a" stroke-width="0.8" />
<line x1="248.50" y1="290.20" x2="248.50" y2="292.20" stroke="#1a1a1a" stroke-width="0.8" />
<text x="0" y="0" font-size="8.8" text-anchor="end" fill="#222" transform="translate(233.20 301.80) rotate(-45)">WT</text>
<text x="0" y="0" font-size="8.8" text-anchor="end" fill="#222" transform="translate(251.10 300.00) rotate(-45)">MC5R<tspan font-size="5.5" dy="-3.2">−/−</tspan></text>
<text x="271.90" y="181.30" font-size="11" text-anchor="start" font-weight="bold" fill="#000" >E</text>
<text x="322.10" y="199.60" font-size="10.4" text-anchor="start" fill="#222" textLength="15.00" lengthAdjust="spacingAndGlyphs" >BM</text>
<line x1="307.50" y1="205.00" x2="307.50" y2="290.30" stroke="#1a1a1a" stroke-width="1.0" />
<line x1="304.50" y1="207.50" x2="307.30" y2="207.50" stroke="#1a1a1a" stroke-width="0.9" />
<text x="302.00" y="210.29" font-size="8.3" text-anchor="end" fill="#333" >8</text>
<line x1="304.50" y1="228.50" x2="307.30" y2="228.50" stroke="#1a1a1a" stroke-width="0.9" />
<text x="302.00" y="231.19" font-size="8.3" text-anchor="end" fill="#333" >6</text>
<line x1="304.50" y1="249.50" x2="307.30" y2="249.50" stroke="#1a1a1a" stroke-width="0.9" />
<text x="302.00" y="251.99" font-size="8.3" text-anchor="end" fill="#333" >4</text>
<line x1="304.50" y1="269.50" x2="307.30" y2="269.50" stroke="#1a1a1a" stroke-width="0.9" />
<text x="302.00" y="272.59" font-size="8.3" text-anchor="end" fill="#333" >2</text>
<line x1="304.50" y1="290.50" x2="307.30" y2="290.50" stroke="#1a1a1a" stroke-width="0.9" />
<text x="302.00" y="293.29" font-size="8.3" text-anchor="end" fill="#333" >0</text>
<line x1="306.80" y1="290.50" x2="351.30" y2="290.50" stroke="#1a1a1a" stroke-width="1.0" />
<rect x="314.20" y="235.80" width="12.00" height="54.50" fill="#c8082e" />
<rect x="332.90" y="237.70" width="12.10" height="52.60" fill="#13508c" />
<circle cx="318.58" cy="241.66" r="1.25" fill="none" stroke="rgba(0,0,0,0.45)" stroke-width="0.55"/>
<circle cx="323.22" cy="242.23" r="1.25" fill="none" stroke="rgba(0,0,0,0.45)" stroke-width="0.55"/>
<circle cx="320.09" cy="239.62" r="1.25" fill="none" stroke="rgba(0,0,0,0.45)" stroke-width="0.55"/>
<circle cx="317.88" cy="244.79" r="1.25" fill="none" stroke="rgba(0,0,0,0.45)" stroke-width="0.55"/>
<line x1="320.20" y1="235.80" x2="320.20" y2="232.80" stroke="#1a1a1a" stroke-width="0.7" />
<line x1="319.00" y1="232.80" x2="321.40" y2="232.80" stroke="#1a1a1a" stroke-width="0.7" />
<circle cx="317.20" cy="234.80" r="1.25" fill="none" stroke="#1a1a1a" stroke-width="0.55"/>
<circle cx="320.20" cy="231.80" r="1.25" fill="none" stroke="#1a1a1a" stroke-width="0.55"/>
<circle cx="323.20" cy="234.80" r="1.25" fill="none" stroke="#1a1a1a" stroke-width="0.55"/>
<circle cx="320.20" cy="237.80" r="1.25" fill="none" stroke="#1a1a1a" stroke-width="0.55"/>
<path d="M335.34 246.32 L336.64 244.02 L337.94 246.32 Z" fill="none" stroke="rgba(0,0,0,0.45)" stroke-width="0.55"/>
<path d="M340.13 243.09 L341.43 240.79 L342.73 243.09 Z" fill="none" stroke="rgba(0,0,0,0.45)" stroke-width="0.55"/>
<path d="M336.27 241.67 L337.57 239.37 L338.87 241.67 Z" fill="none" stroke="rgba(0,0,0,0.45)" stroke-width="0.55"/>
<path d="M335.02 241.81 L336.32 239.51 L337.62 241.81 Z" fill="none" stroke="rgba(0,0,0,0.45)" stroke-width="0.55"/>
<line x1="339.00" y1="237.70" x2="339.00" y2="233.70" stroke="#1a1a1a" stroke-width="0.7" />
<line x1="337.80" y1="233.70" x2="340.20" y2="233.70" stroke="#1a1a1a" stroke-width="0.7" />
<path d="M336.20 233.70 L337.50 231.40 L338.80 233.70 Z" fill="none" stroke="#1a1a1a" stroke-width="0.55"/>
<path d="M339.20 233.70 L340.50 231.40 L341.80 233.70 Z" fill="none" stroke="#1a1a1a" stroke-width="0.55"/>
<path d="M337.70 236.70 L339.00 234.40 L340.30 236.70 Z" fill="none" stroke="#1a1a1a" stroke-width="0.55"/>
<text x="0" y="0" font-size="9.0" text-anchor="middle" fill="#111" stroke="#111" stroke-width="0.35" textLength="66.50" lengthAdjust="spacingAndGlyphs" transform="translate(287.40 247.50) rotate(-90)" dy="0.35em">Cell number (×10 ^ 7)</text>
<line x1="320.50" y1="290.30" x2="320.50" y2="292.30" stroke="#1a1a1a" stroke-width="0.8" />
<line x1="339.50" y1="290.30" x2="339.50" y2="292.30" stroke="#1a1a1a" stroke-width="0.8" />
<text x="0" y="0" font-size="8.8" text-anchor="end" fill="#222" transform="translate(323.80 301.90) rotate(-45)">WT</text>
<text x="0" y="0" font-size="8.8" text-anchor="end" fill="#222" transform="translate(341.80 300.10) rotate(-45)">MC5R<tspan font-size="5.5" dy="-3.2">−/−</tspan></text>
<text x="361.90" y="181.00" font-size="11" text-anchor="start" font-weight="bold" fill="#000" >F</text>
<text x="393.60" y="198.20" font-size="9.4" text-anchor="start" textLength="38.20" lengthAdjust="spacingAndGlyphs" >Lin<tspan font-size="5.5" dy="-3.2">−</tspan><tspan dy="3.2"> Gated</tspan></text>
<rect x="393.50" y="200.40" width="52.30" height="53.00" fill="#fff" stroke="#bdbdbd" stroke-width="0.7"/>
<path fill="#5b84d0" opacity="0.7" d="M413.7 244.4h1.2v1.2h-1.2zM421.1 237.3h0.8v0.8h-0.8zM405.5 244.3h0.9v0.9h-0.9zM408.8 243.5h0.8v0.8h-0.8zM420.4 236.2h1.3v1.3h-1.3zM412.4 238.1h0.8v0.8h-0.8zM403.3 224.5h0.7v0.7h-0.7zM407.0 240.9h1.3v1.3h-1.3zM411.8 236.2h1.1v1.1h-1.1zM401.3 236.3h1.3v1.3h-1.3zM401.4 225.5h1.3v1.3h-1.3zM405.9 230.1h1.1v1.1h-1.1zM410.5 236.4h1.0v1.0h-1.0zM414.7 234.5h0.9v0.9h-0.9zM409.7 218.9h0.9v0.9h-0.9zM412.9 228.4h0.8v0.8h-0.8zM396.8 233.0h1.0v1.0h-1.0zM409.7 245.3h1.0v1.0h-1.0zM417.9 245.1h1.3v1.3h-1.3zM417.9 245.6h1.0v1.0h-1.0zM411.1 239.2h1.0v1.0h-1.0zM404.3 227.6h1.0v1.0h-1.0zM411.0 229.6h0.8v0.8h-0.8zM405.0 239.5h1.1v1.1h-1.1zM411.6 230.8h1.3v1.3h-1.3zM413.5 241.8h0.8v0.8h-0.8zM423.0 224.9h1.2v1.2h-1.2zM400.2 233.7h0.7v0.7h-0.7zM423.7 218.5h1.3v1.3h-1.3zM407.2 248.4h0.8v0.8h-0.8zM410.3 227.7h1.0v1.0h-1.0zM418.1 241.1h1.2v1.2h-1.2zM409.8 247.7h1.0v1.0h-1.0zM416.6 233.5h0.9v0.9h-0.9zM411.9 232.2h1.3v1.3h-1.3zM407.2 233.3h1.0v1.0h-1.0zM412.6 227.6h1.1v1.1h-1.1zM420.6 228.3h1.0v1.0h-1.0zM405.3 241.9h1.1v1.1h-1.1zM414.2 228.9h1.0v1.0h-1.0zM415.5 234.6h1.1v1.1h-1.1zM412.3 242.7h1.0v1.0h-1.0zM414.0 232.3h1.2v1.2h-1.2zM407.3 246.2h1.0v1.0h-1.0zM404.5 245.6h1.0v1.0h-1.0zM412.7 228.5h1.0v1.0h-1.0zM409.5 237.4h1.0v1.0h-1.0zM405.3 224.3h0.7v0.7h-0.7zM407.6 236.2h1.0v1.0h-1.0zM405.3 236.7h0.8v0.8h-0.8zM410.6 236.5h1.2v1.2h-1.2zM405.6 235.5h1.1v1.1h-1.1zM416.8 239.0h1.3v1.3h-1.3zM421.4 235.5h1.2v1.2h-1.2zM413.2 235.8h1.2v1.2h-1.2zM407.2 241.5h0.8v0.8h-0.8zM405.5 219.4h0.8v0.8h-0.8zM412.5 236.6h1.3v1.3h-1.3zM417.5 216.8h0.7v0.7h-0.7zM402.1 229.3h0.8v0.8h-0.8zM408.9 250.1h1.3v1.3h-1.3zM402.0 235.6h1.3v1.3h-1.3zM409.4 231.2h1.1v1.1h-1.1zM412.2 224.5h1.2v1.2h-1.2zM416.9 236.5h0.9v0.9h-0.9zM402.1 243.8h0.9v0.9h-0.9zM420.4 248.2h1.2v1.2h-1.2zM413.0 227.5h0.8v0.8h-0.8zM426.3 233.0h1.0v1.0h-1.0zM414.8 231.7h1.1v1.1h-1.1zM402.0 231.1h1.0v1.0h-1.0zM408.2 231.7h1.2v1.2h-1.2zM410.2 250.1h0.7v0.7h-0.7zM417.0 230.7h1.0v1.0h-1.0zM411.0 243.0h1.2v1.2h-1.2zM417.3 250.9h1.0v1.0h-1.0zM399.4 237.2h1.2v1.2h-1.2zM416.8 239.8h0.7v0.7h-0.7zM413.0 246.8h1.1v1.1h-1.1zM413.2 230.4h1.1v1.1h-1.1zM406.0 228.5h1.0v1.0h-1.0zM412.9 241.0h0.8v0.8h-0.8zM401.8 231.3h1.2v1.2h-1.2zM415.1 230.5h0.8v0.8h-0.8zM409.4 232.2h1.2v1.2h-1.2zM409.5 223.3h1.2v1.2h-1.2zM410.7 226.4h1.3v1.3h-1.3zM401.9 219.9h0.8v0.8h-0.8zM418.9 235.6h1.2v1.2h-1.2zM404.1 243.6h0.9v0.9h-0.9zM395.4 229.0h1.1v1.1h-1.1zM400.9 231.0h1.1v1.1h-1.1zM410.0 234.7h1.1v1.1h-1.1zM396.1 238.3h0.9v0.9h-0.9zM411.3 234.2h0.8v0.8h-0.8z"/>
<path fill="#6f95da" opacity="0.7" d="M404.6 243.1h0.7v0.7h-0.7zM416.1 245.0h1.0v1.0h-1.0zM416.9 227.0h0.8v0.8h-0.8zM400.1 233.3h0.7v0.7h-0.7zM401.8 241.2h1.2v1.2h-1.2zM399.7 245.6h1.1v1.1h-1.1zM402.0 227.3h0.8v0.8h-0.8zM413.8 245.7h0.9v0.9h-0.9zM411.9 236.3h1.0v1.0h-1.0zM413.4 242.4h0.9v0.9h-0.9zM417.6 239.3h1.1v1.1h-1.1zM400.7 235.8h1.1v1.1h-1.1zM416.7 236.6h1.1v1.1h-1.1zM417.8 231.2h1.2v1.2h-1.2zM409.8 233.7h1.2v1.2h-1.2zM408.3 229.3h0.8v0.8h-0.8zM403.0 238.0h0.8v0.8h-0.8zM419.8 236.8h1.0v1.0h-1.0zM411.9 239.6h1.1v1.1h-1.1zM408.0 225.9h0.8v0.8h-0.8zM407.4 235.1h1.3v1.3h-1.3zM406.6 237.8h0.7v0.7h-0.7zM410.6 242.9h1.2v1.2h-1.2zM416.3 235.3h0.9v0.9h-0.9zM404.9 225.8h0.8v0.8h-0.8zM408.7 224.7h0.8v0.8h-0.8zM415.5 232.4h0.9v0.9h-0.9zM412.2 250.1h1.2v1.2h-1.2zM400.8 238.4h1.2v1.2h-1.2zM402.5 226.6h1.0v1.0h-1.0zM414.0 244.4h1.3v1.3h-1.3zM415.2 228.1h1.1v1.1h-1.1zM402.8 233.6h0.9v0.9h-0.9zM397.7 237.3h1.1v1.1h-1.1zM411.9 222.4h1.0v1.0h-1.0zM409.9 226.9h1.2v1.2h-1.2zM404.4 241.6h0.7v0.7h-0.7zM408.0 237.6h1.0v1.0h-1.0zM417.9 233.3h0.9v0.9h-0.9zM418.4 225.9h0.7v0.7h-0.7zM410.9 247.2h0.8v0.8h-0.8zM425.8 233.0h0.7v0.7h-0.7zM403.9 231.2h1.1v1.1h-1.1zM411.7 233.9h1.2v1.2h-1.2zM414.4 229.6h1.2v1.2h-1.2zM413.5 226.5h1.3v1.3h-1.3zM409.5 239.1h1.2v1.2h-1.2zM406.4 223.6h0.7v0.7h-0.7zM424.2 237.2h1.1v1.1h-1.1zM411.9 237.6h0.8v0.8h-0.8zM405.5 235.0h1.0v1.0h-1.0zM402.0 221.9h1.2v1.2h-1.2zM412.8 241.3h1.2v1.2h-1.2zM415.5 244.9h1.2v1.2h-1.2zM425.4 228.8h1.3v1.3h-1.3zM417.4 231.0h1.2v1.2h-1.2zM407.2 236.9h0.8v0.8h-0.8zM408.9 235.5h1.0v1.0h-1.0zM418.9 232.7h1.2v1.2h-1.2zM406.5 244.1h1.3v1.3h-1.3zM404.8 240.2h1.3v1.3h-1.3zM419.9 251.0h0.8v0.8h-0.8zM402.0 233.2h0.8v0.8h-0.8zM413.7 226.0h1.2v1.2h-1.2zM421.1 247.6h1.3v1.3h-1.3zM406.1 250.6h1.2v1.2h-1.2zM411.5 224.4h0.7v0.7h-0.7zM419.5 246.6h0.9v0.9h-0.9zM400.7 242.7h1.0v1.0h-1.0zM408.0 238.3h0.9v0.9h-0.9zM408.9 224.8h0.7v0.7h-0.7zM417.0 238.9h1.0v1.0h-1.0zM410.5 242.7h0.7v0.7h-0.7zM413.6 238.8h1.0v1.0h-1.0zM421.3 234.4h1.3v1.3h-1.3zM406.0 234.4h1.2v1.2h-1.2zM406.0 229.3h0.8v0.8h-0.8zM409.7 231.5h0.8v0.8h-0.8zM404.4 234.5h1.0v1.0h-1.0zM422.2 239.7h1.1v1.1h-1.1zM413.3 233.7h1.2v1.2h-1.2zM417.5 243.0h1.3v1.3h-1.3zM412.3 231.2h0.9v0.9h-0.9zM407.4 236.6h0.8v0.8h-0.8zM417.1 223.5h1.2v1.2h-1.2zM408.5 236.0h1.1v1.1h-1.1zM402.9 246.7h1.2v1.2h-1.2zM407.6 238.4h0.8v0.8h-0.8zM404.9 235.8h1.3v1.3h-1.3zM413.3 234.0h0.9v0.9h-0.9zM411.5 219.9h0.9v0.9h-0.9zM413.8 236.2h0.8v0.8h-0.8zM400.3 228.1h1.2v1.2h-1.2zM403.8 231.7h0.8v0.8h-0.8zM403.0 232.9h1.1v1.1h-1.1zM417.1 240.2h0.9v0.9h-0.9zM419.0 232.6h1.2v1.2h-1.2zM414.2 244.5h0.9v0.9h-0.9zM401.5 230.0h1.0v1.0h-1.0zM407.8 225.9h1.1v1.1h-1.1zM410.9 226.4h1.0v1.0h-1.0zM408.5 244.1h0.8v0.8h-0.8z"/>
<path fill="#89a9e2" opacity="0.7" d="M411.4 227.3h1.0v1.0h-1.0zM400.8 232.3h1.1v1.1h-1.1zM404.8 235.3h1.0v1.0h-1.0zM417.8 243.1h1.1v1.1h-1.1zM415.5 230.9h0.8v0.8h-0.8zM408.6 232.0h1.0v1.0h-1.0zM400.1 241.7h0.9v0.9h-0.9zM409.9 244.5h1.0v1.0h-1.0zM415.5 243.4h0.7v0.7h-0.7zM405.7 245.3h1.1v1.1h-1.1zM407.8 240.8h0.9v0.9h-0.9zM415.1 236.6h0.9v0.9h-0.9zM417.2 248.7h1.2v1.2h-1.2zM412.3 244.1h1.1v1.1h-1.1zM411.9 222.2h1.1v1.1h-1.1zM411.9 228.4h1.0v1.0h-1.0zM400.7 239.5h0.7v0.7h-0.7zM414.5 217.7h0.8v0.8h-0.8zM408.2 228.7h1.1v1.1h-1.1zM423.0 236.3h0.9v0.9h-0.9zM404.0 243.5h1.1v1.1h-1.1zM412.7 218.4h1.1v1.1h-1.1zM406.6 235.7h1.2v1.2h-1.2zM409.6 250.3h0.9v0.9h-0.9zM405.6 225.4h0.9v0.9h-0.9zM415.6 237.6h0.8v0.8h-0.8zM412.0 231.5h1.1v1.1h-1.1zM410.2 233.5h1.0v1.0h-1.0zM406.6 228.4h1.1v1.1h-1.1zM402.3 229.6h1.2v1.2h-1.2zM410.4 236.2h0.9v0.9h-0.9zM396.7 239.4h1.2v1.2h-1.2zM405.0 244.5h1.2v1.2h-1.2zM409.6 227.6h1.2v1.2h-1.2zM410.2 222.5h0.8v0.8h-0.8zM409.9 234.7h1.2v1.2h-1.2zM409.7 240.6h1.0v1.0h-1.0zM403.4 240.0h0.8v0.8h-0.8zM416.2 238.2h0.9v0.9h-0.9zM415.1 233.8h0.8v0.8h-0.8zM405.7 249.6h0.9v0.9h-0.9zM409.9 233.7h1.1v1.1h-1.1zM399.2 238.1h1.3v1.3h-1.3zM415.3 247.3h0.7v0.7h-0.7zM409.9 238.9h1.0v1.0h-1.0zM399.9 238.4h0.7v0.7h-0.7zM414.4 224.2h0.9v0.9h-0.9zM412.1 228.3h1.0v1.0h-1.0zM426.0 244.5h1.1v1.1h-1.1zM408.0 229.7h0.9v0.9h-0.9zM413.7 249.7h0.8v0.8h-0.8zM416.6 242.4h1.0v1.0h-1.0zM406.3 240.0h0.8v0.8h-0.8zM399.7 229.0h1.0v1.0h-1.0zM418.9 234.9h1.1v1.1h-1.1zM411.3 219.5h1.0v1.0h-1.0zM409.1 234.1h0.8v0.8h-0.8zM411.5 219.1h1.2v1.2h-1.2zM406.0 242.0h0.9v0.9h-0.9zM404.7 243.5h1.0v1.0h-1.0zM423.5 237.7h1.2v1.2h-1.2zM396.4 240.4h1.3v1.3h-1.3zM411.9 231.4h1.3v1.3h-1.3zM400.2 243.4h1.0v1.0h-1.0zM411.6 230.5h1.1v1.1h-1.1zM406.9 221.6h1.0v1.0h-1.0zM412.2 242.3h0.8v0.8h-0.8zM413.0 235.3h0.9v0.9h-0.9zM413.6 233.3h1.3v1.3h-1.3zM403.5 227.3h1.2v1.2h-1.2zM409.4 226.5h0.8v0.8h-0.8zM413.5 238.3h1.0v1.0h-1.0zM412.0 232.0h0.8v0.8h-0.8zM407.4 240.0h0.9v0.9h-0.9zM412.0 225.6h1.0v1.0h-1.0zM408.5 235.4h0.8v0.8h-0.8zM410.7 240.6h0.9v0.9h-0.9zM397.7 233.3h0.8v0.8h-0.8zM406.1 246.2h0.7v0.7h-0.7zM416.8 240.9h0.8v0.8h-0.8zM410.1 225.0h1.2v1.2h-1.2zM408.2 222.2h1.2v1.2h-1.2zM406.7 232.1h1.1v1.1h-1.1zM408.3 233.7h0.9v0.9h-0.9zM412.4 235.5h1.2v1.2h-1.2zM417.2 232.8h1.1v1.1h-1.1zM411.1 227.8h0.7v0.7h-0.7zM402.5 232.7h0.7v0.7h-0.7zM415.6 217.5h0.9v0.9h-0.9zM405.4 233.5h1.0v1.0h-1.0zM424.3 231.7h0.9v0.9h-0.9zM400.6 240.9h1.0v1.0h-1.0zM419.9 244.3h0.8v0.8h-0.8zM405.6 241.7h0.7v0.7h-0.7zM403.9 243.9h1.2v1.2h-1.2zM415.9 234.0h0.9v0.9h-0.9zM420.1 226.7h1.1v1.1h-1.1zM410.2 244.8h1.3v1.3h-1.3zM414.3 218.2h1.3v1.3h-1.3zM415.7 241.4h1.0v1.0h-1.0zM410.8 238.9h1.1v1.1h-1.1zM415.6 245.0h1.1v1.1h-1.1zM409.6 227.0h0.7v0.7h-0.7zM409.8 240.7h1.0v1.0h-1.0zM401.0 234.1h1.2v1.2h-1.2z"/>
<path fill="#4c78c8" opacity="0.7" d="M415.6 245.9h1.1v1.1h-1.1zM402.6 238.3h0.9v0.9h-0.9zM418.0 239.8h1.0v1.0h-1.0zM415.6 230.1h0.9v0.9h-0.9zM413.3 236.0h1.1v1.1h-1.1zM417.7 251.2h0.8v0.8h-0.8zM399.2 226.5h1.0v1.0h-1.0zM421.2 241.5h1.2v1.2h-1.2zM405.0 230.4h1.0v1.0h-1.0zM412.2 221.4h0.7v0.7h-0.7zM416.9 226.8h1.1v1.1h-1.1zM403.2 238.8h0.9v0.9h-0.9zM409.4 243.1h1.3v1.3h-1.3zM404.8 231.5h1.0v1.0h-1.0zM408.1 238.5h1.2v1.2h-1.2zM408.5 234.9h0.8v0.8h-0.8zM409.7 234.1h0.9v0.9h-0.9zM396.6 231.8h1.3v1.3h-1.3zM411.7 244.9h0.9v0.9h-0.9zM415.6 245.4h1.1v1.1h-1.1zM415.4 249.1h0.8v0.8h-0.8zM409.6 222.5h1.3v1.3h-1.3zM407.0 249.9h1.0v1.0h-1.0zM412.0 248.3h1.2v1.2h-1.2zM410.6 227.6h0.9v0.9h-0.9zM408.6 229.1h1.3v1.3h-1.3zM412.1 245.6h0.8v0.8h-0.8zM403.4 246.3h0.7v0.7h-0.7zM416.8 237.7h1.2v1.2h-1.2zM409.4 239.0h1.1v1.1h-1.1zM412.2 234.0h1.1v1.1h-1.1zM404.7 232.8h0.8v0.8h-0.8zM421.7 236.5h1.2v1.2h-1.2zM420.0 226.2h1.3v1.3h-1.3zM413.4 235.5h1.0v1.0h-1.0zM413.2 235.3h1.3v1.3h-1.3zM409.2 227.0h0.7v0.7h-0.7zM412.8 233.6h1.1v1.1h-1.1zM405.0 232.0h1.1v1.1h-1.1zM401.9 222.4h1.0v1.0h-1.0zM407.3 250.1h1.1v1.1h-1.1zM419.1 242.6h0.9v0.9h-0.9zM421.6 232.8h0.8v0.8h-0.8zM403.5 209.9h1.2v1.2h-1.2zM414.1 234.9h1.3v1.3h-1.3zM406.1 228.6h0.9v0.9h-0.9zM405.4 236.5h1.2v1.2h-1.2zM409.1 230.4h0.8v0.8h-0.8zM424.2 237.5h0.7v0.7h-0.7zM413.5 223.4h1.1v1.1h-1.1zM414.2 233.9h1.0v1.0h-1.0zM412.8 232.2h0.9v0.9h-0.9zM401.4 233.4h1.0v1.0h-1.0zM419.4 236.0h1.0v1.0h-1.0zM416.0 228.5h0.7v0.7h-0.7zM410.2 236.9h0.8v0.8h-0.8zM412.3 230.8h0.9v0.9h-0.9zM409.2 226.3h1.1v1.1h-1.1zM413.4 242.0h0.8v0.8h-0.8zM411.9 219.6h1.0v1.0h-1.0zM407.9 231.7h1.2v1.2h-1.2zM408.9 231.1h0.8v0.8h-0.8zM413.1 235.7h1.2v1.2h-1.2zM409.1 236.6h1.0v1.0h-1.0zM401.2 228.0h1.0v1.0h-1.0zM420.1 247.8h1.1v1.1h-1.1zM430.1 236.8h0.9v0.9h-0.9zM420.4 248.3h1.1v1.1h-1.1zM400.3 240.8h1.0v1.0h-1.0zM402.6 228.1h1.2v1.2h-1.2zM416.2 234.4h1.2v1.2h-1.2zM424.2 229.6h0.9v0.9h-0.9zM408.9 227.3h1.1v1.1h-1.1zM424.4 248.3h1.3v1.3h-1.3zM417.9 241.2h0.7v0.7h-0.7zM401.8 237.4h1.2v1.2h-1.2zM406.4 220.4h0.7v0.7h-0.7zM416.6 244.2h1.2v1.2h-1.2zM404.8 214.0h0.8v0.8h-0.8zM422.8 241.8h0.7v0.7h-0.7zM408.4 245.2h1.2v1.2h-1.2zM400.7 251.1h0.9v0.9h-0.9zM403.5 219.7h0.8v0.8h-0.8zM409.4 234.1h0.8v0.8h-0.8zM415.4 245.1h1.0v1.0h-1.0zM407.7 234.2h0.9v0.9h-0.9zM417.9 225.5h0.8v0.8h-0.8zM414.0 232.9h1.2v1.2h-1.2zM411.0 216.3h1.2v1.2h-1.2zM421.0 228.8h1.2v1.2h-1.2zM401.5 232.7h1.2v1.2h-1.2zM406.7 233.2h1.1v1.1h-1.1zM415.9 233.7h1.0v1.0h-1.0zM409.8 241.7h1.1v1.1h-1.1zM408.6 228.8h0.8v0.8h-0.8zM406.6 240.8h0.8v0.8h-0.8zM411.5 238.3h0.9v0.9h-0.9zM407.1 227.9h1.0v1.0h-1.0zM405.6 239.1h1.1v1.1h-1.1zM409.6 251.3h0.7v0.7h-0.7zM411.2 237.6h1.1v1.1h-1.1zM413.4 243.6h0.8v0.8h-0.8zM408.2 227.6h1.2v1.2h-1.2zM412.1 224.8h1.1v1.1h-1.1zM400.8 226.1h0.9v0.9h-0.9zM402.5 231.9h0.8v0.8h-0.8zM417.9 234.6h1.1v1.1h-1.1zM416.1 236.2h1.3v1.3h-1.3zM406.6 243.3h0.9v0.9h-0.9zM424.1 241.7h1.1v1.1h-1.1zM412.4 238.4h0.7v0.7h-0.7zM400.8 234.9h1.1v1.1h-1.1zM414.1 233.3h0.8v0.8h-0.8zM406.0 227.2h0.9v0.9h-0.9zM409.0 240.6h1.2v1.2h-1.2zM412.8 236.4h1.0v1.0h-1.0zM420.8 238.6h1.1v1.1h-1.1zM404.8 232.8h1.1v1.1h-1.1zM410.5 232.0h1.2v1.2h-1.2zM419.2 233.2h0.9v0.9h-0.9zM404.9 222.1h0.8v0.8h-0.8zM423.6 243.3h0.9v0.9h-0.9zM412.3 238.0h1.1v1.1h-1.1z"/>
<path fill="#a4bce8" opacity="0.7" d="M421.4 215.2h1.0v1.0h-1.0zM413.0 235.5h1.1v1.1h-1.1zM412.1 246.2h1.0v1.0h-1.0zM402.9 219.1h0.8v0.8h-0.8zM410.0 242.5h0.8v0.8h-0.8zM413.1 242.5h1.1v1.1h-1.1zM405.4 251.4h0.9v0.9h-0.9zM413.0 226.6h1.0v1.0h-1.0zM404.3 229.7h1.1v1.1h-1.1zM406.8 246.9h1.0v1.0h-1.0zM414.4 236.5h0.9v0.9h-0.9zM419.2 226.6h1.1v1.1h-1.1zM419.8 230.4h0.7v0.7h-0.7zM414.1 231.4h1.0v1.0h-1.0zM422.5 227.9h0.7v0.7h-0.7zM411.4 238.0h1.2v1.2h-1.2zM406.6 241.1h0.8v0.8h-0.8zM402.1 242.1h1.1v1.1h-1.1zM405.4 238.7h0.8v0.8h-0.8zM408.5 230.3h1.2v1.2h-1.2zM416.5 235.9h1.1v1.1h-1.1zM409.8 222.3h0.8v0.8h-0.8zM411.6 237.0h1.2v1.2h-1.2zM408.3 227.6h0.8v0.8h-0.8zM409.7 234.0h1.1v1.1h-1.1zM408.4 226.5h1.0v1.0h-1.0zM419.3 238.8h0.8v0.8h-0.8zM398.6 230.2h1.2v1.2h-1.2zM412.3 226.4h0.9v0.9h-0.9zM408.5 241.1h0.9v0.9h-0.9zM415.3 227.0h0.7v0.7h-0.7zM411.0 236.5h1.2v1.2h-1.2zM402.6 221.0h0.8v0.8h-0.8zM405.2 245.4h0.8v0.8h-0.8zM415.3 240.6h1.1v1.1h-1.1zM412.4 234.1h1.2v1.2h-1.2zM403.4 238.1h0.9v0.9h-0.9zM405.0 228.3h1.3v1.3h-1.3zM410.2 232.8h1.1v1.1h-1.1zM406.9 247.4h0.8v0.8h-0.8zM417.2 229.1h1.2v1.2h-1.2zM412.1 246.0h0.9v0.9h-0.9zM415.9 245.4h1.0v1.0h-1.0zM401.4 240.1h0.8v0.8h-0.8zM403.6 244.0h1.2v1.2h-1.2zM405.5 218.3h0.7v0.7h-0.7zM413.6 230.0h1.1v1.1h-1.1zM409.8 232.6h0.7v0.7h-0.7zM405.0 233.1h1.0v1.0h-1.0zM413.5 233.6h0.8v0.8h-0.8zM411.8 230.6h0.9v0.9h-0.9zM414.2 242.9h1.3v1.3h-1.3zM420.6 238.0h1.0v1.0h-1.0zM400.3 242.0h0.8v0.8h-0.8zM405.1 234.5h1.1v1.1h-1.1zM405.8 236.5h0.7v0.7h-0.7zM412.2 229.2h1.2v1.2h-1.2zM408.2 243.0h1.0v1.0h-1.0zM405.5 228.4h0.9v0.9h-0.9zM411.5 237.9h0.8v0.8h-0.8zM411.5 233.0h0.8v0.8h-0.8zM412.5 230.3h0.8v0.8h-0.8zM426.7 232.2h0.9v0.9h-0.9zM399.7 221.6h1.0v1.0h-1.0zM410.3 229.3h0.8v0.8h-0.8zM421.3 229.3h1.3v1.3h-1.3zM404.2 239.5h0.8v0.8h-0.8zM419.4 244.5h1.0v1.0h-1.0zM407.6 224.7h1.2v1.2h-1.2zM414.4 242.9h1.2v1.2h-1.2zM404.7 234.2h1.0v1.0h-1.0zM416.1 227.5h1.3v1.3h-1.3zM407.9 230.4h1.2v1.2h-1.2zM408.8 237.0h0.9v0.9h-0.9zM414.1 218.9h0.9v0.9h-0.9zM412.9 233.3h0.7v0.7h-0.7zM417.1 239.5h0.8v0.8h-0.8zM409.7 245.6h1.1v1.1h-1.1zM413.2 225.9h0.9v0.9h-0.9zM420.6 230.4h1.1v1.1h-1.1zM404.5 237.2h1.0v1.0h-1.0zM399.8 244.4h1.2v1.2h-1.2zM411.2 233.2h1.3v1.3h-1.3zM417.5 246.1h1.3v1.3h-1.3zM416.2 233.8h1.1v1.1h-1.1zM395.9 235.1h1.2v1.2h-1.2zM414.1 226.5h1.1v1.1h-1.1zM398.6 242.2h0.7v0.7h-0.7zM403.5 246.9h1.2v1.2h-1.2zM414.3 233.2h1.2v1.2h-1.2zM409.6 230.9h1.1v1.1h-1.1zM407.0 242.0h0.7v0.7h-0.7zM399.7 246.6h1.2v1.2h-1.2zM413.4 242.9h1.2v1.2h-1.2zM408.1 228.1h1.2v1.2h-1.2zM405.3 239.5h0.8v0.8h-0.8zM418.2 232.8h1.1v1.1h-1.1zM419.6 236.9h0.8v0.8h-0.8zM416.8 234.9h1.0v1.0h-1.0zM413.0 234.0h1.2v1.2h-1.2zM397.5 234.1h1.2v1.2h-1.2zM407.7 226.2h1.0v1.0h-1.0zM416.6 249.6h1.1v1.1h-1.1zM412.6 225.4h0.8v0.8h-0.8zM401.8 230.7h0.8v0.8h-0.8z"/>
<path fill="#7fc0e0" opacity="0.7" d="M419.3 229.6h1.0v1.0h-1.0zM414.3 237.8h1.1v1.1h-1.1zM410.8 221.8h1.0v1.0h-1.0zM403.5 244.0h1.1v1.1h-1.1zM416.9 233.3h1.3v1.3h-1.3zM415.5 237.7h1.2v1.2h-1.2zM410.3 226.3h0.9v0.9h-0.9zM407.6 244.6h0.9v0.9h-0.9zM410.9 224.5h1.0v1.0h-1.0zM414.8 229.3h1.0v1.0h-1.0zM394.8 234.8h1.1v1.1h-1.1zM410.7 247.9h1.2v1.2h-1.2zM404.2 221.6h1.1v1.1h-1.1zM412.8 240.0h1.2v1.2h-1.2zM414.4 235.1h1.0v1.0h-1.0zM416.7 229.8h0.8v0.8h-0.8zM404.6 240.5h1.1v1.1h-1.1zM415.0 234.5h0.9v0.9h-0.9zM416.7 239.2h1.2v1.2h-1.2zM403.1 233.3h1.1v1.1h-1.1zM409.9 234.6h1.2v1.2h-1.2zM416.4 237.3h1.0v1.0h-1.0zM411.1 246.2h0.9v0.9h-0.9zM424.2 224.9h1.2v1.2h-1.2zM403.3 235.4h0.9v0.9h-0.9zM412.5 233.4h0.9v0.9h-0.9zM414.6 241.7h1.0v1.0h-1.0zM408.2 232.4h0.8v0.8h-0.8zM399.9 228.6h1.0v1.0h-1.0zM413.0 227.9h1.3v1.3h-1.3zM425.2 245.3h1.2v1.2h-1.2zM408.9 246.0h1.2v1.2h-1.2zM408.0 238.7h0.9v0.9h-0.9zM416.5 245.0h1.2v1.2h-1.2zM410.3 232.2h0.7v0.7h-0.7zM411.5 225.8h0.7v0.7h-0.7zM412.5 231.9h0.9v0.9h-0.9zM412.0 235.9h0.9v0.9h-0.9zM413.7 233.4h1.3v1.3h-1.3zM400.5 221.8h0.9v0.9h-0.9zM406.4 215.0h1.0v1.0h-1.0zM407.7 230.2h1.1v1.1h-1.1zM414.6 244.9h1.1v1.1h-1.1zM409.2 234.1h0.7v0.7h-0.7zM401.9 242.9h0.9v0.9h-0.9zM409.2 238.8h0.9v0.9h-0.9zM413.4 237.1h1.0v1.0h-1.0zM418.2 241.2h1.3v1.3h-1.3zM412.1 250.0h0.7v0.7h-0.7zM402.3 232.0h0.9v0.9h-0.9zM410.4 237.7h1.1v1.1h-1.1zM409.7 228.1h0.8v0.8h-0.8zM413.5 239.2h1.2v1.2h-1.2zM413.2 242.1h0.9v0.9h-0.9zM413.6 245.8h1.0v1.0h-1.0zM420.5 242.8h1.0v1.0h-1.0zM406.8 231.0h0.8v0.8h-0.8zM410.7 234.7h1.1v1.1h-1.1zM411.8 237.0h0.7v0.7h-0.7zM423.6 236.3h0.8v0.8h-0.8zM423.2 237.3h0.9v0.9h-0.9zM412.2 248.6h1.2v1.2h-1.2zM402.3 237.1h1.1v1.1h-1.1zM420.9 219.5h1.1v1.1h-1.1zM413.0 229.8h1.0v1.0h-1.0zM410.1 227.5h0.8v0.8h-0.8zM409.6 240.3h0.9v0.9h-0.9zM403.2 235.2h1.2v1.2h-1.2zM417.4 243.8h1.3v1.3h-1.3zM404.3 246.1h1.1v1.1h-1.1zM418.9 238.9h0.7v0.7h-0.7zM412.0 227.9h1.1v1.1h-1.1zM420.9 237.9h0.8v0.8h-0.8zM410.1 222.2h1.1v1.1h-1.1zM409.7 246.0h0.8v0.8h-0.8zM403.0 231.3h0.9v0.9h-0.9zM407.2 234.1h1.3v1.3h-1.3zM398.6 239.4h1.0v1.0h-1.0zM404.5 247.4h0.9v0.9h-0.9zM411.7 240.3h0.7v0.7h-0.7zM425.0 250.5h0.8v0.8h-0.8zM406.7 223.1h0.8v0.8h-0.8zM411.6 221.8h1.2v1.2h-1.2zM403.8 246.2h0.9v0.9h-0.9zM408.5 234.7h1.0v1.0h-1.0zM413.2 243.9h1.2v1.2h-1.2zM410.6 227.8h1.2v1.2h-1.2zM410.4 230.6h0.8v0.8h-0.8zM416.3 231.3h1.3v1.3h-1.3zM418.5 241.0h1.3v1.3h-1.3zM410.3 241.8h1.3v1.3h-1.3zM396.9 249.2h0.9v0.9h-0.9zM409.4 229.7h1.2v1.2h-1.2zM415.3 235.8h1.3v1.3h-1.3zM402.7 227.3h1.2v1.2h-1.2zM409.3 249.2h1.1v1.1h-1.1zM415.1 242.4h0.8v0.8h-0.8zM401.0 233.6h1.1v1.1h-1.1zM417.3 245.1h1.2v1.2h-1.2zM397.0 242.0h1.2v1.2h-1.2zM408.6 230.4h0.7v0.7h-0.7zM408.3 230.8h0.8v0.8h-0.8zM412.3 246.1h1.0v1.0h-1.0z"/>
<path fill="#a4bce8" opacity="0.7" d="M418.8 238.2h0.9v0.9h-0.9zM424.9 235.4h0.9v0.9h-0.9zM418.9 242.0h1.0v1.0h-1.0zM415.3 241.5h1.0v1.0h-1.0zM411.5 242.7h1.3v1.3h-1.3zM410.9 240.0h0.8v0.8h-0.8zM426.3 236.2h1.0v1.0h-1.0zM405.8 238.2h1.1v1.1h-1.1zM416.2 238.3h0.8v0.8h-0.8zM425.4 229.5h1.0v1.0h-1.0zM409.1 235.5h0.8v0.8h-0.8zM424.4 239.3h0.8v0.8h-0.8zM410.1 239.0h0.7v0.7h-0.7zM417.5 242.9h1.0v1.0h-1.0zM418.0 244.4h0.9v0.9h-0.9zM425.8 242.1h0.7v0.7h-0.7zM413.9 232.4h1.1v1.1h-1.1zM420.6 245.6h1.2v1.2h-1.2zM410.3 245.6h0.8v0.8h-0.8zM431.5 246.8h0.9v0.9h-0.9zM417.8 240.0h0.8v0.8h-0.8zM429.6 248.2h1.2v1.2h-1.2zM421.1 244.2h0.9v0.9h-0.9zM413.1 240.1h0.8v0.8h-0.8zM420.7 248.5h1.3v1.3h-1.3zM422.3 245.4h1.2v1.2h-1.2zM406.6 236.6h0.9v0.9h-0.9zM416.9 251.5h1.2v1.2h-1.2zM414.5 237.0h0.9v0.9h-0.9zM405.7 242.9h1.3v1.3h-1.3zM413.6 238.5h0.9v0.9h-0.9zM402.4 239.7h0.9v0.9h-0.9zM410.9 246.1h0.9v0.9h-0.9zM419.4 239.0h0.8v0.8h-0.8zM424.2 241.7h1.0v1.0h-1.0zM417.0 235.6h0.9v0.9h-0.9zM426.8 235.7h1.0v1.0h-1.0zM413.6 243.3h1.1v1.1h-1.1zM418.2 242.4h1.3v1.3h-1.3zM416.1 242.1h1.0v1.0h-1.0zM403.6 238.6h1.0v1.0h-1.0zM420.7 249.1h0.7v0.7h-0.7zM419.7 238.0h0.9v0.9h-0.9zM406.7 229.9h1.3v1.3h-1.3zM420.5 242.6h1.2v1.2h-1.2zM421.9 238.4h0.8v0.8h-0.8zM417.1 243.1h0.8v0.8h-0.8zM410.2 240.9h1.0v1.0h-1.0zM413.9 243.0h1.2v1.2h-1.2zM415.5 244.2h0.9v0.9h-0.9zM421.3 242.3h0.8v0.8h-0.8zM418.4 246.6h1.0v1.0h-1.0zM418.1 231.6h1.2v1.2h-1.2zM401.1 241.8h1.2v1.2h-1.2zM422.8 236.3h1.0v1.0h-1.0zM403.2 251.1h0.9v0.9h-0.9zM415.8 240.2h0.8v0.8h-0.8zM414.3 240.1h1.2v1.2h-1.2zM412.8 250.6h0.9v0.9h-0.9zM417.0 229.4h1.3v1.3h-1.3zM419.2 247.6h0.9v0.9h-0.9zM415.5 236.7h1.3v1.3h-1.3zM417.5 233.1h0.9v0.9h-0.9zM404.8 248.9h0.9v0.9h-0.9zM424.4 238.0h1.0v1.0h-1.0zM412.2 235.4h1.2v1.2h-1.2zM422.1 239.7h1.0v1.0h-1.0zM417.8 247.8h1.0v1.0h-1.0zM428.0 243.6h1.1v1.1h-1.1zM427.6 242.4h1.2v1.2h-1.2zM419.2 246.8h1.0v1.0h-1.0zM431.5 243.3h1.1v1.1h-1.1zM413.3 235.7h1.3v1.3h-1.3zM426.0 238.4h0.7v0.7h-0.7zM420.6 237.9h1.2v1.2h-1.2zM422.8 242.1h0.9v0.9h-0.9zM412.8 233.5h1.3v1.3h-1.3z"/>
<path fill="#c0d0f0" opacity="0.7" d="M421.7 239.6h0.7v0.7h-0.7zM419.4 243.0h1.1v1.1h-1.1zM415.1 244.8h0.8v0.8h-0.8zM413.3 242.4h0.9v0.9h-0.9zM422.2 246.5h0.9v0.9h-0.9zM417.8 243.2h0.8v0.8h-0.8zM422.6 241.2h1.0v1.0h-1.0zM428.2 243.0h1.0v1.0h-1.0zM417.3 241.6h0.8v0.8h-0.8zM418.9 247.2h0.8v0.8h-0.8zM414.6 236.8h1.2v1.2h-1.2zM406.8 250.8h0.7v0.7h-0.7zM422.0 241.8h1.0v1.0h-1.0zM422.8 241.7h1.0v1.0h-1.0zM423.3 238.3h0.7v0.7h-0.7zM424.6 239.0h0.7v0.7h-0.7zM418.1 233.4h1.0v1.0h-1.0zM431.0 240.0h0.8v0.8h-0.8zM423.9 236.8h1.0v1.0h-1.0zM413.0 231.2h1.1v1.1h-1.1zM433.6 242.0h1.1v1.1h-1.1zM409.0 238.7h0.8v0.8h-0.8zM417.4 234.4h1.1v1.1h-1.1zM414.2 235.2h1.2v1.2h-1.2zM413.8 238.0h1.0v1.0h-1.0zM419.7 242.5h0.9v0.9h-0.9zM426.6 240.8h1.3v1.3h-1.3zM429.4 246.4h1.3v1.3h-1.3zM415.9 241.8h1.1v1.1h-1.1zM442.9 231.8h0.8v0.8h-0.8zM420.5 236.0h1.2v1.2h-1.2zM416.2 247.8h0.9v0.9h-0.9zM422.6 244.9h0.8v0.8h-0.8zM418.2 235.2h1.3v1.3h-1.3zM410.6 241.1h1.2v1.2h-1.2zM427.1 236.1h0.9v0.9h-0.9zM418.6 231.0h0.8v0.8h-0.8zM406.2 243.9h1.0v1.0h-1.0zM423.9 241.1h1.2v1.2h-1.2zM420.8 241.9h1.0v1.0h-1.0zM420.4 240.3h1.1v1.1h-1.1zM424.2 239.2h1.2v1.2h-1.2zM417.7 242.5h1.1v1.1h-1.1zM418.7 246.2h0.8v0.8h-0.8zM408.1 242.0h1.0v1.0h-1.0zM423.6 243.1h1.0v1.0h-1.0zM412.2 236.6h0.9v0.9h-0.9zM410.3 236.2h0.9v0.9h-0.9zM432.0 249.4h1.1v1.1h-1.1zM417.2 245.3h0.7v0.7h-0.7zM414.9 243.5h0.9v0.9h-0.9zM426.3 237.0h1.2v1.2h-1.2zM431.0 239.6h1.1v1.1h-1.1zM426.3 250.2h1.1v1.1h-1.1zM422.1 231.7h1.1v1.1h-1.1zM420.0 246.5h0.7v0.7h-0.7zM423.8 244.0h1.1v1.1h-1.1zM422.9 237.4h0.8v0.8h-0.8zM415.4 234.9h0.8v0.8h-0.8zM427.1 244.8h0.9v0.9h-0.9zM420.1 237.8h1.2v1.2h-1.2zM424.6 231.3h1.2v1.2h-1.2zM423.9 236.2h1.2v1.2h-1.2zM415.0 240.0h0.9v0.9h-0.9zM413.3 245.5h1.1v1.1h-1.1zM425.9 246.6h0.9v0.9h-0.9zM422.5 246.6h1.3v1.3h-1.3zM419.6 236.9h1.1v1.1h-1.1zM423.9 241.3h0.7v0.7h-0.7z"/>
<path fill="#8fb0e4" opacity="0.7" d="M414.0 247.2h1.3v1.3h-1.3zM417.2 234.6h1.2v1.2h-1.2zM419.4 242.8h1.0v1.0h-1.0zM420.7 226.5h1.0v1.0h-1.0zM413.3 249.3h1.3v1.3h-1.3zM412.4 240.0h0.9v0.9h-0.9zM405.3 247.9h0.8v0.8h-0.8zM411.5 245.6h0.9v0.9h-0.9zM410.1 237.9h1.2v1.2h-1.2zM409.5 240.5h1.1v1.1h-1.1zM417.7 234.2h1.1v1.1h-1.1zM414.1 227.1h0.8v0.8h-0.8zM413.8 236.6h0.8v0.8h-0.8zM415.1 242.0h1.2v1.2h-1.2zM419.0 239.1h0.9v0.9h-0.9zM426.2 237.4h0.8v0.8h-0.8zM420.8 250.2h1.0v1.0h-1.0zM423.7 249.2h1.2v1.2h-1.2zM420.1 244.5h0.8v0.8h-0.8zM409.8 240.6h0.8v0.8h-0.8zM399.6 238.8h0.8v0.8h-0.8zM418.2 239.3h1.3v1.3h-1.3zM427.4 242.9h0.7v0.7h-0.7zM424.1 237.3h1.1v1.1h-1.1zM412.1 238.9h1.1v1.1h-1.1zM420.3 236.1h1.0v1.0h-1.0zM416.0 243.3h0.9v0.9h-0.9zM414.3 245.0h1.2v1.2h-1.2zM421.7 239.8h1.0v1.0h-1.0zM413.7 249.3h0.8v0.8h-0.8zM413.9 245.8h0.8v0.8h-0.8zM423.3 248.0h1.1v1.1h-1.1zM417.8 246.4h1.0v1.0h-1.0zM419.3 235.7h1.2v1.2h-1.2zM413.6 236.9h1.0v1.0h-1.0zM406.0 243.9h0.7v0.7h-0.7zM417.2 249.6h1.2v1.2h-1.2zM424.0 246.9h0.8v0.8h-0.8zM410.2 235.0h1.1v1.1h-1.1zM416.4 243.1h0.7v0.7h-0.7zM418.3 242.1h1.0v1.0h-1.0zM417.9 239.3h1.1v1.1h-1.1zM422.0 241.3h0.7v0.7h-0.7zM418.4 243.3h1.1v1.1h-1.1zM420.1 240.1h0.7v0.7h-0.7zM413.0 243.8h1.0v1.0h-1.0zM420.0 234.9h1.1v1.1h-1.1zM416.3 244.6h0.8v0.8h-0.8zM415.6 226.8h1.1v1.1h-1.1zM418.3 234.7h1.1v1.1h-1.1zM408.7 239.9h0.8v0.8h-0.8zM413.8 239.6h1.0v1.0h-1.0zM415.1 248.3h1.1v1.1h-1.1zM412.2 246.8h0.9v0.9h-0.9zM424.6 243.8h1.1v1.1h-1.1zM413.4 241.7h0.7v0.7h-0.7zM418.9 239.7h1.0v1.0h-1.0zM415.2 247.2h0.7v0.7h-0.7zM417.3 242.0h1.2v1.2h-1.2zM419.8 234.1h1.1v1.1h-1.1zM417.0 237.0h1.1v1.1h-1.1zM421.1 247.5h1.1v1.1h-1.1zM405.5 241.4h0.7v0.7h-0.7zM420.4 237.5h1.0v1.0h-1.0zM408.3 238.9h1.1v1.1h-1.1zM413.4 240.5h1.2v1.2h-1.2zM419.3 240.0h0.7v0.7h-0.7zM425.3 245.6h0.8v0.8h-0.8zM417.9 240.6h0.8v0.8h-0.8zM405.7 231.8h1.2v1.2h-1.2zM427.8 230.3h1.2v1.2h-1.2zM421.5 234.2h0.7v0.7h-0.7z"/>
<path fill="#5b84d0" opacity="0.8" d="M426.2 221.1h1.2v1.2h-1.2zM415.3 221.2h1.0v1.0h-1.0zM417.5 221.4h1.2v1.2h-1.2zM419.5 226.3h1.0v1.0h-1.0zM416.1 229.6h0.8v0.8h-0.8zM419.1 227.0h1.1v1.1h-1.1zM410.5 229.5h0.9v0.9h-0.9zM414.8 223.5h0.9v0.9h-0.9zM422.0 221.1h0.8v0.8h-0.8zM417.6 219.3h1.0v1.0h-1.0zM417.8 220.7h1.0v1.0h-1.0zM406.0 223.9h1.2v1.2h-1.2zM414.9 226.7h1.3v1.3h-1.3zM416.8 224.4h0.7v0.7h-0.7zM410.7 224.9h0.9v0.9h-0.9zM420.3 218.7h1.2v1.2h-1.2zM422.6 224.2h1.1v1.1h-1.1zM417.6 222.9h0.8v0.8h-0.8zM418.6 224.5h0.8v0.8h-0.8zM418.7 225.9h1.0v1.0h-1.0zM419.5 225.0h0.9v0.9h-0.9zM419.6 224.7h0.8v0.8h-0.8zM420.4 218.9h0.7v0.7h-0.7zM421.4 223.9h1.1v1.1h-1.1zM418.3 218.7h0.8v0.8h-0.8zM429.2 229.8h1.3v1.3h-1.3z"/>
<path fill="#6f95da" opacity="0.8" d="M419.3 225.1h1.0v1.0h-1.0zM409.3 222.5h1.0v1.0h-1.0zM418.8 221.1h0.9v0.9h-0.9zM422.2 222.3h1.3v1.3h-1.3zM424.7 224.6h1.1v1.1h-1.1zM420.6 229.4h1.3v1.3h-1.3zM422.0 225.4h1.0v1.0h-1.0zM417.0 226.1h0.7v0.7h-0.7zM417.8 224.3h1.1v1.1h-1.1zM426.0 219.3h1.3v1.3h-1.3zM423.8 224.9h1.0v1.0h-1.0zM422.0 221.8h1.2v1.2h-1.2zM417.3 222.9h1.2v1.2h-1.2zM419.9 221.4h1.1v1.1h-1.1zM414.9 220.9h1.2v1.2h-1.2zM414.8 228.4h0.8v0.8h-0.8zM421.0 220.4h0.8v0.8h-0.8zM412.6 223.5h1.1v1.1h-1.1zM415.5 217.9h1.2v1.2h-1.2zM415.2 224.3h1.0v1.0h-1.0zM421.9 228.4h0.9v0.9h-0.9zM423.4 222.7h0.9v0.9h-0.9zM414.4 223.6h1.3v1.3h-1.3zM423.5 223.3h1.3v1.3h-1.3zM419.7 222.4h0.8v0.8h-0.8zM418.6 222.1h1.0v1.0h-1.0zM424.7 217.6h1.0v1.0h-1.0zM420.7 228.2h0.8v0.8h-0.8zM417.8 222.6h0.8v0.8h-0.8z"/>
<path fill="#89a9e2" opacity="0.8" d="M420.9 224.1h0.9v0.9h-0.9zM415.9 222.7h0.8v0.8h-0.8zM416.5 227.2h0.8v0.8h-0.8zM417.4 220.8h1.0v1.0h-1.0zM418.2 220.7h1.0v1.0h-1.0zM417.0 222.4h1.0v1.0h-1.0zM416.6 226.0h0.9v0.9h-0.9zM413.7 226.4h1.3v1.3h-1.3zM413.5 222.8h1.2v1.2h-1.2zM416.7 223.3h1.2v1.2h-1.2zM419.5 226.6h1.1v1.1h-1.1zM420.5 223.0h1.2v1.2h-1.2zM417.6 222.7h0.7v0.7h-0.7zM414.0 222.5h0.8v0.8h-0.8zM413.6 222.0h0.8v0.8h-0.8zM412.5 224.0h1.2v1.2h-1.2zM408.2 224.8h0.7v0.7h-0.7zM416.1 222.9h1.2v1.2h-1.2zM422.2 224.1h1.0v1.0h-1.0zM416.5 219.9h1.2v1.2h-1.2zM418.9 223.0h1.1v1.1h-1.1z"/>
<path fill="#4c78c8" opacity="0.8" d="M416.7 223.9h1.1v1.1h-1.1zM415.4 230.5h1.0v1.0h-1.0zM416.5 224.1h1.1v1.1h-1.1zM420.8 218.2h1.0v1.0h-1.0zM417.5 221.6h1.3v1.3h-1.3zM410.5 222.7h0.9v0.9h-0.9zM418.9 223.3h1.2v1.2h-1.2zM417.0 224.2h1.0v1.0h-1.0zM421.2 221.8h1.1v1.1h-1.1zM424.1 226.6h0.8v0.8h-0.8zM418.5 227.0h1.1v1.1h-1.1zM420.8 224.4h1.2v1.2h-1.2zM427.3 220.5h1.1v1.1h-1.1zM416.5 224.5h0.7v0.7h-0.7zM418.2 221.8h1.1v1.1h-1.1zM416.9 229.6h1.1v1.1h-1.1zM411.7 219.2h1.0v1.0h-1.0zM417.0 222.5h1.1v1.1h-1.1zM412.2 226.3h1.1v1.1h-1.1zM418.7 220.8h1.2v1.2h-1.2zM415.3 222.8h1.3v1.3h-1.3zM414.0 224.0h1.2v1.2h-1.2zM418.9 219.9h1.2v1.2h-1.2zM412.0 223.0h0.7v0.7h-0.7zM423.6 224.1h1.0v1.0h-1.0z"/>
<path fill="#a4bce8" opacity="0.8" d="M416.6 224.6h1.2v1.2h-1.2zM413.1 227.1h0.9v0.9h-0.9zM418.4 224.3h0.9v0.9h-0.9zM416.4 223.9h0.9v0.9h-0.9zM421.9 226.1h0.9v0.9h-0.9zM414.7 224.9h1.1v1.1h-1.1zM411.1 226.1h1.0v1.0h-1.0zM418.1 225.8h1.2v1.2h-1.2zM417.9 222.7h1.2v1.2h-1.2zM411.3 222.1h1.2v1.2h-1.2zM424.2 223.7h0.8v0.8h-0.8zM419.8 221.0h1.3v1.3h-1.3zM418.1 222.7h0.7v0.7h-0.7zM426.8 220.8h0.8v0.8h-0.8zM420.9 226.4h1.3v1.3h-1.3zM419.2 222.2h1.1v1.1h-1.1zM418.6 219.9h0.8v0.8h-0.8zM419.5 220.9h1.1v1.1h-1.1zM422.3 226.1h0.9v0.9h-0.9zM422.4 220.5h1.3v1.3h-1.3zM418.9 227.0h0.9v0.9h-0.9zM416.1 220.1h0.9v0.9h-0.9z"/>
<path fill="#7fc0e0" opacity="0.8" d="M411.2 220.2h0.8v0.8h-0.8zM415.8 225.0h0.8v0.8h-0.8zM419.5 226.5h1.2v1.2h-1.2zM417.4 225.1h1.2v1.2h-1.2zM421.8 225.6h1.1v1.1h-1.1zM417.8 224.2h1.2v1.2h-1.2zM423.2 221.0h1.2v1.2h-1.2zM418.1 223.0h1.3v1.3h-1.3zM416.9 221.3h0.8v0.8h-0.8zM425.1 219.8h1.2v1.2h-1.2zM417.1 224.9h1.2v1.2h-1.2zM416.6 223.5h0.8v0.8h-0.8zM420.2 221.8h0.9v0.9h-0.9zM413.8 224.0h0.8v0.8h-0.8zM421.9 223.6h0.7v0.7h-0.7zM411.9 228.7h1.1v1.1h-1.1zM421.3 222.8h1.1v1.1h-1.1zM414.1 227.4h0.8v0.8h-0.8zM409.7 221.6h0.8v0.8h-0.8zM417.9 222.6h1.3v1.3h-1.3zM418.9 224.4h1.2v1.2h-1.2zM416.8 227.1h1.3v1.3h-1.3zM426.5 224.1h1.3v1.3h-1.3zM420.7 225.7h0.7v0.7h-0.7zM412.6 226.0h0.9v0.9h-0.9zM425.3 224.6h1.2v1.2h-1.2zM422.2 227.8h1.1v1.1h-1.1zM410.3 219.3h1.3v1.3h-1.3zM412.7 223.3h1.3v1.3h-1.3zM412.1 228.5h1.2v1.2h-1.2zM423.5 221.0h1.1v1.1h-1.1zM414.8 226.5h1.1v1.1h-1.1zM421.2 224.7h0.9v0.9h-0.9zM417.4 221.9h1.0v1.0h-1.0zM421.3 224.1h1.2v1.2h-1.2zM414.8 224.6h1.2v1.2h-1.2zM411.3 223.5h1.0v1.0h-1.0z"/>
<path fill="#3a6cc0" opacity="0.8" d="M403.9 218.5h0.8v0.8h-0.8zM406.3 244.6h0.8v0.8h-0.8zM405.7 227.3h1.3v1.3h-1.3zM400.3 239.2h1.3v1.3h-1.3zM406.0 234.9h1.1v1.1h-1.1zM406.3 229.1h0.9v0.9h-0.9zM407.7 224.4h1.0v1.0h-1.0zM406.1 227.9h0.9v0.9h-0.9zM406.8 216.8h1.3v1.3h-1.3zM404.1 234.1h1.2v1.2h-1.2zM408.1 244.5h0.8v0.8h-0.8zM407.7 221.0h0.9v0.9h-0.9zM404.5 229.1h0.7v0.7h-0.7zM405.8 237.9h1.2v1.2h-1.2zM408.0 230.0h1.3v1.3h-1.3zM403.1 242.3h0.9v0.9h-0.9zM403.3 240.2h1.0v1.0h-1.0zM407.2 242.0h1.2v1.2h-1.2zM404.4 218.2h0.9v0.9h-0.9zM406.0 220.7h1.3v1.3h-1.3zM406.0 216.3h1.0v1.0h-1.0zM404.3 219.3h0.8v0.8h-0.8zM402.9 220.2h1.3v1.3h-1.3zM407.4 222.1h1.2v1.2h-1.2zM401.8 225.8h1.2v1.2h-1.2zM406.4 217.3h1.1v1.1h-1.1zM409.3 221.9h1.3v1.3h-1.3zM405.1 232.4h1.2v1.2h-1.2zM410.9 217.0h1.1v1.1h-1.1zM402.2 229.4h1.1v1.1h-1.1zM403.5 224.4h1.3v1.3h-1.3zM403.1 245.6h1.0v1.0h-1.0zM403.3 230.9h1.0v1.0h-1.0zM405.7 232.0h1.3v1.3h-1.3zM408.8 246.0h0.9v0.9h-0.9zM408.3 225.0h0.7v0.7h-0.7zM401.2 243.0h1.0v1.0h-1.0zM405.0 235.2h0.9v0.9h-0.9zM406.7 234.2h1.0v1.0h-1.0zM402.9 236.9h0.8v0.8h-0.8zM408.2 229.7h0.9v0.9h-0.9zM404.9 234.5h1.1v1.1h-1.1zM404.6 221.2h0.8v0.8h-0.8zM402.8 223.3h0.8v0.8h-0.8zM408.3 235.2h0.7v0.7h-0.7zM408.5 248.0h1.0v1.0h-1.0zM405.6 239.6h1.2v1.2h-1.2zM406.0 222.1h0.8v0.8h-0.8zM402.7 223.5h0.9v0.9h-0.9zM403.7 242.8h1.1v1.1h-1.1zM404.5 231.8h1.1v1.1h-1.1zM402.1 228.4h1.0v1.0h-1.0zM403.3 231.1h0.8v0.8h-0.8zM408.7 222.8h1.0v1.0h-1.0zM406.5 227.5h1.2v1.2h-1.2zM403.6 247.9h0.8v0.8h-0.8zM408.2 229.0h0.7v0.7h-0.7zM409.4 219.3h1.0v1.0h-1.0zM403.7 234.1h1.0v1.0h-1.0zM402.2 243.8h0.9v0.9h-0.9zM402.5 223.7h1.0v1.0h-1.0zM406.0 240.7h0.8v0.8h-0.8z"/>
<path fill="#4a7cc8" opacity="0.8" d="M406.5 234.3h1.0v1.0h-1.0zM405.3 218.0h0.8v0.8h-0.8zM408.3 210.9h1.2v1.2h-1.2zM403.6 233.6h0.8v0.8h-0.8zM406.1 243.7h1.2v1.2h-1.2zM405.3 230.2h0.8v0.8h-0.8zM402.8 224.3h0.9v0.9h-0.9zM402.7 238.5h1.2v1.2h-1.2zM405.6 220.4h1.2v1.2h-1.2zM412.3 239.0h1.1v1.1h-1.1zM401.8 230.9h0.9v0.9h-0.9zM404.1 225.6h1.1v1.1h-1.1zM404.7 241.2h1.2v1.2h-1.2zM405.2 232.6h1.2v1.2h-1.2zM399.7 230.2h0.8v0.8h-0.8zM403.4 233.8h0.9v0.9h-0.9zM404.5 227.5h1.1v1.1h-1.1zM403.4 232.4h1.0v1.0h-1.0zM400.3 221.2h0.8v0.8h-0.8zM402.4 229.9h0.9v0.9h-0.9zM400.4 225.1h0.9v0.9h-0.9zM404.2 235.4h0.9v0.9h-0.9zM406.5 234.4h0.7v0.7h-0.7zM403.4 227.8h0.9v0.9h-0.9zM405.3 251.1h0.8v0.8h-0.8zM405.5 238.1h1.0v1.0h-1.0zM411.8 228.2h1.0v1.0h-1.0zM400.9 230.3h0.7v0.7h-0.7zM401.6 231.4h1.1v1.1h-1.1zM408.4 233.4h1.3v1.3h-1.3zM403.3 251.9h1.1v1.1h-1.1zM405.9 236.0h0.7v0.7h-0.7zM402.8 242.2h0.9v0.9h-0.9zM400.3 219.5h1.3v1.3h-1.3zM402.4 237.0h0.8v0.8h-0.8zM404.7 222.6h1.0v1.0h-1.0zM406.0 233.4h0.8v0.8h-0.8zM406.5 237.2h1.3v1.3h-1.3zM410.1 219.3h0.9v0.9h-0.9zM406.6 250.4h1.2v1.2h-1.2zM405.3 237.2h0.9v0.9h-0.9zM407.2 232.2h1.2v1.2h-1.2zM406.1 236.3h0.7v0.7h-0.7zM405.7 225.6h0.8v0.8h-0.8zM406.4 239.6h1.3v1.3h-1.3zM403.6 234.0h1.1v1.1h-1.1zM404.8 240.5h0.9v0.9h-0.9zM405.3 223.1h0.7v0.7h-0.7zM404.1 240.4h1.2v1.2h-1.2zM407.4 224.4h0.9v0.9h-0.9zM402.9 242.0h1.3v1.3h-1.3zM406.2 231.4h1.3v1.3h-1.3zM404.1 231.6h0.9v0.9h-0.9zM406.0 222.7h1.0v1.0h-1.0zM406.9 236.7h0.9v0.9h-0.9zM404.3 233.1h1.2v1.2h-1.2zM401.6 240.2h0.8v0.8h-0.8zM405.2 226.5h0.9v0.9h-0.9zM403.8 224.6h1.0v1.0h-1.0zM403.5 218.2h0.8v0.8h-0.8zM406.1 229.3h1.3v1.3h-1.3zM403.5 235.5h1.1v1.1h-1.1zM405.8 236.2h1.1v1.1h-1.1zM405.6 237.0h0.9v0.9h-0.9zM402.2 226.7h0.8v0.8h-0.8zM406.3 237.1h1.2v1.2h-1.2zM407.3 230.3h0.7v0.7h-0.7zM400.1 234.0h0.9v0.9h-0.9zM405.2 218.0h1.3v1.3h-1.3zM405.9 239.8h1.1v1.1h-1.1zM400.2 233.8h1.1v1.1h-1.1zM406.4 231.9h0.7v0.7h-0.7zM404.9 242.1h0.8v0.8h-0.8zM403.0 230.9h1.2v1.2h-1.2zM404.6 245.3h1.0v1.0h-1.0z"/>
<path fill="#3fa0d0" opacity="0.8" d="M403.8 224.8h1.3v1.3h-1.3zM406.0 232.6h1.1v1.1h-1.1zM409.5 222.1h0.9v0.9h-0.9zM403.2 231.0h0.8v0.8h-0.8zM396.4 232.5h1.2v1.2h-1.2zM402.2 248.4h1.2v1.2h-1.2zM410.5 239.4h1.0v1.0h-1.0zM406.3 236.5h0.8v0.8h-0.8zM405.3 222.7h1.0v1.0h-1.0zM402.6 235.3h1.3v1.3h-1.3zM404.0 249.2h0.8v0.8h-0.8zM405.8 236.2h1.3v1.3h-1.3zM403.4 234.6h0.9v0.9h-0.9zM405.2 240.2h1.1v1.1h-1.1zM403.8 237.7h1.2v1.2h-1.2zM402.9 226.0h0.7v0.7h-0.7zM404.0 237.5h1.1v1.1h-1.1zM403.2 228.7h1.3v1.3h-1.3zM407.5 218.7h1.0v1.0h-1.0zM403.8 249.4h0.9v0.9h-0.9zM409.1 229.5h0.8v0.8h-0.8zM402.1 226.3h0.9v0.9h-0.9zM406.5 243.2h1.2v1.2h-1.2zM402.9 231.7h1.0v1.0h-1.0zM406.0 230.3h0.7v0.7h-0.7zM404.0 230.5h0.8v0.8h-0.8zM404.2 230.1h1.0v1.0h-1.0zM405.7 249.2h1.0v1.0h-1.0zM401.0 227.9h0.8v0.8h-0.8zM411.0 230.4h1.2v1.2h-1.2zM409.4 234.8h1.2v1.2h-1.2zM406.3 230.8h1.2v1.2h-1.2zM405.3 227.4h1.1v1.1h-1.1zM400.8 232.2h1.1v1.1h-1.1zM403.7 211.6h0.9v0.9h-0.9zM406.9 239.9h1.3v1.3h-1.3zM404.4 222.9h1.1v1.1h-1.1zM406.6 242.3h1.0v1.0h-1.0zM405.2 239.1h1.1v1.1h-1.1zM409.3 225.3h0.9v0.9h-0.9zM407.6 236.6h1.0v1.0h-1.0zM405.0 226.5h1.3v1.3h-1.3zM406.4 229.9h1.1v1.1h-1.1zM402.3 227.8h0.9v0.9h-0.9zM406.4 234.4h0.7v0.7h-0.7zM406.4 240.4h0.7v0.7h-0.7zM405.0 234.6h0.9v0.9h-0.9zM405.6 217.9h0.9v0.9h-0.9zM407.0 243.1h0.8v0.8h-0.8zM409.0 229.1h1.0v1.0h-1.0zM406.1 230.5h0.8v0.8h-0.8zM408.8 238.9h1.3v1.3h-1.3zM405.4 235.4h0.9v0.9h-0.9zM403.8 225.2h0.9v0.9h-0.9zM402.8 210.0h0.9v0.9h-0.9zM404.3 231.5h1.3v1.3h-1.3zM403.7 228.3h1.0v1.0h-1.0zM401.5 233.8h1.2v1.2h-1.2zM400.3 233.2h1.1v1.1h-1.1zM406.2 233.9h0.8v0.8h-0.8zM402.6 224.5h0.9v0.9h-0.9zM400.6 231.3h0.9v0.9h-0.9z"/>
<ellipse cx="401.00" cy="233.40" rx="3.6" ry="15.5" fill="#3568bf" opacity="0.95" filter="url(#bl1)"/>
<ellipse cx="401.00" cy="232.40" rx="2.6" ry="14.0" fill="#3aa0c8" opacity="0.9" filter="url(#bl1)"/>
<ellipse cx="400.90" cy="231.90" rx="1.7" ry="12.5" fill="#5cb847" opacity="1.0" filter="url(#bl1)"/>
<ellipse cx="401.00" cy="221.90" rx="1.6" ry="3.5" fill="#b4d43a" opacity="1.0" filter="url(#bl1)"/>
<ellipse cx="400.50" cy="244.40" rx="3.0" ry="3.0" fill="#7cc040" opacity="1.0" filter="url(#bl1)"/>
<ellipse cx="400.50" cy="244.40" rx="2.3" ry="2.3" fill="#f0b02a" opacity="1.0" filter="url(#bl1)"/>
<ellipse cx="400.40" cy="244.60" rx="1.2" ry="1.2" fill="#e0321e" opacity="1.0" filter="url(#bl1)"/>
<rect x="396.80" y="217.60" width="8.70" height="11.60" fill="none" stroke="#3a5a90" stroke-width="0.7"/>
<rect x="411.00" y="217.60" width="13.70" height="11.60" fill="none" stroke="#3a5a90" stroke-width="0.7"/>
<text x="401.30" y="210.80" font-size="4.8" text-anchor="middle" fill="#4a4a4a" >MP</text>
<text x="401.30" y="215.60" font-size="4.8" text-anchor="middle" fill="#4a4a4a" >26.8</text>
<text x="417.80" y="210.80" font-size="4.8" text-anchor="middle" fill="#4a4a4a" >LSK</text>
<text x="417.80" y="215.60" font-size="4.8" text-anchor="middle" fill="#4a4a4a" >3.30</text>
<line x1="424.70" y1="223.50" x2="449.60" y2="223.50" stroke="#1a1a1a" stroke-width="1.0" />
<path d="M448.60 221.40 L452.60 223.20 L448.60 225.00 Z" fill="#111"/>
<line x1="396.50" y1="252.20" x2="396.50" y2="253.40" stroke="#333" stroke-width="0.5" />
<line x1="408.07" y1="252.20" x2="408.07" y2="253.40" stroke="#333" stroke-width="0.5" />
<line x1="419.65" y1="252.20" x2="419.65" y2="253.40" stroke="#333" stroke-width="0.5" />
<line x1="431.23" y1="252.20" x2="431.23" y2="253.40" stroke="#333" stroke-width="0.5" />
<line x1="442.80" y1="252.20" x2="442.80" y2="253.40" stroke="#333" stroke-width="0.5" />
<rect x="393.50" y="256.20" width="52.30" height="53.00" fill="#fff" stroke="#bdbdbd" stroke-width="0.7"/>
<path fill="#5b84d0" opacity="0.7" d="M411.2 288.1h0.9v0.9h-0.9zM411.3 293.5h1.0v1.0h-1.0zM408.0 292.7h1.0v1.0h-1.0zM418.2 285.1h1.0v1.0h-1.0zM408.8 288.1h0.8v0.8h-0.8zM417.4 275.3h1.0v1.0h-1.0zM402.2 284.1h0.8v0.8h-0.8zM403.2 289.2h0.7v0.7h-0.7zM410.5 297.0h0.9v0.9h-0.9zM417.7 293.6h0.7v0.7h-0.7zM406.7 279.6h1.1v1.1h-1.1zM412.9 298.8h1.2v1.2h-1.2zM423.1 300.4h0.9v0.9h-0.9zM416.2 291.2h1.2v1.2h-1.2zM419.9 287.3h1.2v1.2h-1.2zM410.7 295.2h0.9v0.9h-0.9zM411.8 302.2h1.2v1.2h-1.2zM405.4 292.6h1.0v1.0h-1.0zM406.4 293.2h1.1v1.1h-1.1zM419.9 301.4h1.2v1.2h-1.2zM407.3 286.2h0.9v0.9h-0.9zM399.1 294.8h1.3v1.3h-1.3zM396.0 290.2h0.9v0.9h-0.9zM404.0 299.5h0.9v0.9h-0.9zM411.8 289.2h0.8v0.8h-0.8zM409.6 284.2h0.9v0.9h-0.9zM397.2 288.6h1.0v1.0h-1.0zM413.0 303.9h0.7v0.7h-0.7zM412.1 287.7h0.9v0.9h-0.9zM409.6 295.1h0.8v0.8h-0.8zM406.7 295.0h1.2v1.2h-1.2zM408.2 296.8h0.9v0.9h-0.9zM410.8 300.3h1.0v1.0h-1.0zM410.6 278.4h1.2v1.2h-1.2zM394.8 293.2h1.2v1.2h-1.2zM415.0 285.2h1.0v1.0h-1.0zM396.7 306.8h0.9v0.9h-0.9zM408.5 290.8h0.8v0.8h-0.8zM405.7 306.0h0.9v0.9h-0.9zM408.2 285.8h1.3v1.3h-1.3zM410.0 280.6h0.9v0.9h-0.9zM398.2 303.6h0.9v0.9h-0.9zM414.3 290.2h1.0v1.0h-1.0zM419.4 294.0h1.2v1.2h-1.2zM411.6 300.6h1.0v1.0h-1.0zM406.2 284.4h1.3v1.3h-1.3zM412.9 287.6h1.2v1.2h-1.2zM414.9 293.7h0.9v0.9h-0.9zM421.1 279.7h0.7v0.7h-0.7zM400.5 294.2h0.7v0.7h-0.7zM411.6 292.1h1.1v1.1h-1.1zM399.7 289.2h1.0v1.0h-1.0zM415.5 302.0h0.7v0.7h-0.7zM415.9 292.1h1.1v1.1h-1.1zM414.1 283.9h0.7v0.7h-0.7zM401.9 280.7h1.0v1.0h-1.0zM419.5 275.5h1.1v1.1h-1.1zM397.7 297.2h1.0v1.0h-1.0zM400.8 295.5h0.8v0.8h-0.8zM414.5 290.9h0.8v0.8h-0.8zM404.3 300.1h1.2v1.2h-1.2zM417.9 298.2h1.2v1.2h-1.2zM398.2 286.7h0.9v0.9h-0.9zM405.1 283.6h1.0v1.0h-1.0zM410.4 280.0h1.0v1.0h-1.0zM415.4 290.1h1.1v1.1h-1.1zM411.2 280.2h1.2v1.2h-1.2zM411.1 282.3h0.7v0.7h-0.7zM407.7 280.8h1.1v1.1h-1.1zM415.6 273.7h0.8v0.8h-0.8zM406.9 297.8h0.9v0.9h-0.9zM399.4 277.4h0.8v0.8h-0.8zM407.0 283.4h1.1v1.1h-1.1zM413.4 306.5h0.7v0.7h-0.7zM405.7 287.5h1.1v1.1h-1.1zM419.3 288.9h0.9v0.9h-0.9zM410.5 299.4h1.0v1.0h-1.0zM410.2 275.9h1.0v1.0h-1.0zM406.2 279.6h1.2v1.2h-1.2zM405.8 292.6h1.1v1.1h-1.1zM399.2 283.0h1.2v1.2h-1.2zM402.9 290.8h0.7v0.7h-0.7zM405.3 285.7h1.0v1.0h-1.0zM413.9 293.3h1.3v1.3h-1.3zM412.6 285.4h1.1v1.1h-1.1zM416.6 301.9h1.0v1.0h-1.0zM409.3 288.1h0.7v0.7h-0.7zM404.9 284.6h0.8v0.8h-0.8zM401.9 289.2h0.9v0.9h-0.9zM414.1 290.5h1.0v1.0h-1.0zM410.4 296.8h0.9v0.9h-0.9zM407.2 275.3h1.2v1.2h-1.2zM402.1 288.3h1.0v1.0h-1.0zM412.8 285.0h1.0v1.0h-1.0zM412.2 292.6h1.1v1.1h-1.1zM400.0 288.8h1.0v1.0h-1.0zM409.8 289.4h1.1v1.1h-1.1zM407.7 296.1h0.8v0.8h-0.8zM411.3 296.9h1.1v1.1h-1.1zM412.8 289.2h1.1v1.1h-1.1zM409.9 281.9h0.8v0.8h-0.8zM409.2 296.3h1.0v1.0h-1.0zM410.1 304.6h1.2v1.2h-1.2zM407.8 296.9h0.8v0.8h-0.8zM412.2 284.5h1.1v1.1h-1.1zM415.7 302.5h1.3v1.3h-1.3zM409.8 299.9h0.9v0.9h-0.9zM420.6 284.4h0.9v0.9h-0.9zM418.5 282.8h1.3v1.3h-1.3zM413.8 306.5h1.1v1.1h-1.1zM415.0 293.0h1.0v1.0h-1.0zM406.3 287.4h1.2v1.2h-1.2zM406.0 283.8h0.8v0.8h-0.8zM407.1 304.1h1.1v1.1h-1.1z"/>
<path fill="#6f95da" opacity="0.7" d="M416.9 284.0h0.9v0.9h-0.9zM404.5 294.6h1.3v1.3h-1.3zM403.9 290.6h0.8v0.8h-0.8zM399.2 288.0h1.1v1.1h-1.1zM416.4 289.7h0.8v0.8h-0.8zM410.0 294.8h1.0v1.0h-1.0zM403.3 298.8h0.8v0.8h-0.8zM407.2 285.4h0.9v0.9h-0.9zM413.8 295.5h0.9v0.9h-0.9zM405.8 293.3h0.8v0.8h-0.8zM403.5 299.6h0.8v0.8h-0.8zM409.5 307.3h1.2v1.2h-1.2zM406.4 288.4h0.9v0.9h-0.9zM416.3 293.1h1.0v1.0h-1.0zM418.7 284.3h1.0v1.0h-1.0zM406.4 295.4h1.1v1.1h-1.1zM410.7 294.1h1.3v1.3h-1.3zM408.7 293.6h1.0v1.0h-1.0zM400.0 276.0h1.3v1.3h-1.3zM412.8 294.4h1.2v1.2h-1.2zM414.2 288.3h0.8v0.8h-0.8zM403.3 291.9h1.0v1.0h-1.0zM413.6 293.9h0.8v0.8h-0.8zM407.1 290.8h1.2v1.2h-1.2zM409.6 275.2h1.3v1.3h-1.3zM411.6 301.6h0.9v0.9h-0.9zM416.5 287.8h1.0v1.0h-1.0zM405.1 283.9h1.2v1.2h-1.2zM410.3 301.9h1.0v1.0h-1.0zM419.8 295.8h1.1v1.1h-1.1zM423.0 295.5h1.1v1.1h-1.1zM417.9 288.4h0.7v0.7h-0.7zM405.6 281.2h1.3v1.3h-1.3zM412.3 290.2h0.9v0.9h-0.9zM406.1 301.4h1.2v1.2h-1.2zM410.7 304.1h1.1v1.1h-1.1zM415.8 298.7h0.9v0.9h-0.9zM412.4 283.8h0.8v0.8h-0.8zM417.7 293.1h1.0v1.0h-1.0zM408.4 293.8h1.1v1.1h-1.1zM413.7 282.0h1.2v1.2h-1.2zM409.6 293.8h1.0v1.0h-1.0zM417.6 299.8h1.0v1.0h-1.0zM408.2 302.2h0.7v0.7h-0.7zM407.8 289.0h0.9v0.9h-0.9zM409.6 275.3h1.2v1.2h-1.2zM401.5 289.1h1.1v1.1h-1.1zM416.4 292.0h0.8v0.8h-0.8zM417.5 285.2h0.9v0.9h-0.9zM416.2 291.8h0.7v0.7h-0.7zM401.3 294.1h0.9v0.9h-0.9zM412.4 294.0h0.7v0.7h-0.7zM409.4 286.1h0.8v0.8h-0.8zM428.0 296.3h0.7v0.7h-0.7zM416.7 288.1h0.8v0.8h-0.8zM406.9 282.9h0.9v0.9h-0.9zM402.7 285.7h1.0v1.0h-1.0zM407.6 294.4h1.2v1.2h-1.2zM413.0 303.8h0.7v0.7h-0.7zM398.9 289.7h1.2v1.2h-1.2zM398.3 288.1h1.0v1.0h-1.0zM417.9 292.6h0.9v0.9h-0.9zM412.0 306.9h1.3v1.3h-1.3zM413.7 301.8h1.1v1.1h-1.1zM412.1 296.0h1.1v1.1h-1.1zM409.3 288.8h1.2v1.2h-1.2zM408.5 285.0h0.9v0.9h-0.9zM425.9 281.0h0.8v0.8h-0.8zM411.8 298.2h0.8v0.8h-0.8zM401.0 284.1h0.8v0.8h-0.8zM412.7 291.2h1.1v1.1h-1.1zM402.7 304.9h1.0v1.0h-1.0zM412.4 293.6h0.9v0.9h-0.9zM414.4 285.0h1.2v1.2h-1.2zM409.8 301.5h1.1v1.1h-1.1zM414.1 293.4h1.0v1.0h-1.0zM415.0 292.3h0.8v0.8h-0.8zM410.9 287.2h1.3v1.3h-1.3zM422.2 279.4h0.9v0.9h-0.9zM414.0 283.6h0.8v0.8h-0.8zM399.1 298.3h1.1v1.1h-1.1zM403.3 296.4h0.8v0.8h-0.8zM406.4 287.1h1.1v1.1h-1.1zM406.8 301.3h1.1v1.1h-1.1zM418.6 293.9h0.8v0.8h-0.8zM405.8 307.6h0.9v0.9h-0.9zM403.4 304.2h0.7v0.7h-0.7zM415.5 296.9h0.8v0.8h-0.8zM403.9 295.0h0.8v0.8h-0.8zM413.9 294.7h0.9v0.9h-0.9zM420.2 297.5h1.1v1.1h-1.1zM402.1 292.8h1.2v1.2h-1.2zM410.6 275.6h1.1v1.1h-1.1z"/>
<path fill="#89a9e2" opacity="0.7" d="M411.8 294.9h1.1v1.1h-1.1zM414.4 300.1h0.9v0.9h-0.9zM410.3 295.2h0.8v0.8h-0.8zM420.0 294.9h1.0v1.0h-1.0zM409.8 293.0h0.8v0.8h-0.8zM411.3 301.0h0.8v0.8h-0.8zM407.3 286.0h1.2v1.2h-1.2zM413.4 289.7h1.2v1.2h-1.2zM418.3 300.8h0.8v0.8h-0.8zM402.1 288.7h0.8v0.8h-0.8zM406.6 287.7h1.0v1.0h-1.0zM421.1 300.0h1.3v1.3h-1.3zM408.8 302.0h0.9v0.9h-0.9zM414.8 297.7h0.8v0.8h-0.8zM403.7 292.2h1.2v1.2h-1.2zM418.9 284.9h0.9v0.9h-0.9zM411.0 277.6h0.8v0.8h-0.8zM399.6 296.3h1.0v1.0h-1.0zM413.1 293.5h1.0v1.0h-1.0zM416.2 289.4h1.2v1.2h-1.2zM410.2 294.3h1.1v1.1h-1.1zM411.1 299.7h0.8v0.8h-0.8zM423.5 304.3h1.1v1.1h-1.1zM414.3 278.5h1.1v1.1h-1.1zM416.0 285.1h1.2v1.2h-1.2zM406.2 298.6h1.1v1.1h-1.1zM417.8 300.2h0.9v0.9h-0.9zM414.7 300.3h1.3v1.3h-1.3zM416.0 292.5h0.7v0.7h-0.7zM412.6 299.3h1.0v1.0h-1.0zM412.4 294.7h1.2v1.2h-1.2zM413.2 295.2h0.9v0.9h-0.9zM419.9 277.4h0.7v0.7h-0.7zM397.0 288.7h0.9v0.9h-0.9zM418.1 290.0h0.7v0.7h-0.7zM408.9 289.3h0.7v0.7h-0.7zM412.1 303.6h0.7v0.7h-0.7zM410.0 280.6h1.2v1.2h-1.2zM417.8 293.1h0.9v0.9h-0.9zM410.6 288.0h0.7v0.7h-0.7zM417.5 281.5h1.0v1.0h-1.0zM410.2 274.2h1.2v1.2h-1.2zM420.8 288.8h1.0v1.0h-1.0zM401.8 296.0h1.0v1.0h-1.0zM406.1 285.8h1.3v1.3h-1.3zM417.1 283.9h1.3v1.3h-1.3zM416.6 294.6h0.9v0.9h-0.9zM401.9 302.7h0.9v0.9h-0.9zM406.2 271.9h1.1v1.1h-1.1zM412.3 293.1h0.7v0.7h-0.7zM410.3 285.1h1.3v1.3h-1.3zM410.1 287.0h0.9v0.9h-0.9zM409.3 285.0h1.3v1.3h-1.3zM406.0 290.9h1.2v1.2h-1.2zM411.5 300.7h0.8v0.8h-0.8zM417.5 297.0h1.1v1.1h-1.1zM411.8 290.3h1.1v1.1h-1.1zM416.9 288.6h1.2v1.2h-1.2zM405.4 299.1h1.1v1.1h-1.1zM410.1 303.0h1.1v1.1h-1.1zM406.5 291.8h0.8v0.8h-0.8zM411.2 299.2h1.2v1.2h-1.2zM417.2 283.7h1.3v1.3h-1.3zM412.3 286.7h0.9v0.9h-0.9zM422.0 291.6h1.1v1.1h-1.1zM413.6 305.7h0.9v0.9h-0.9zM408.4 302.8h1.0v1.0h-1.0zM400.7 289.8h1.0v1.0h-1.0zM406.2 292.7h1.1v1.1h-1.1zM399.0 301.6h1.2v1.2h-1.2zM412.8 282.0h1.0v1.0h-1.0zM403.8 304.3h1.0v1.0h-1.0zM406.0 299.6h1.2v1.2h-1.2zM412.5 287.6h1.1v1.1h-1.1zM406.0 297.7h1.3v1.3h-1.3zM407.8 297.9h1.3v1.3h-1.3zM418.6 296.8h0.9v0.9h-0.9zM415.0 285.1h1.0v1.0h-1.0zM422.6 284.0h1.0v1.0h-1.0zM418.4 282.8h0.8v0.8h-0.8zM413.5 295.8h1.3v1.3h-1.3zM410.8 288.3h1.2v1.2h-1.2zM409.1 272.4h0.8v0.8h-0.8zM408.7 289.3h0.7v0.7h-0.7zM417.0 289.3h0.7v0.7h-0.7zM409.6 294.9h0.9v0.9h-0.9zM396.3 305.1h0.8v0.8h-0.8zM409.6 282.3h1.2v1.2h-1.2zM411.3 288.1h0.9v0.9h-0.9zM403.2 295.5h0.8v0.8h-0.8zM406.2 285.1h1.3v1.3h-1.3zM422.4 279.5h1.0v1.0h-1.0zM413.5 294.2h0.8v0.8h-0.8zM404.1 300.1h1.2v1.2h-1.2z"/>
<path fill="#4c78c8" opacity="0.7" d="M414.0 290.1h0.7v0.7h-0.7zM407.8 297.6h0.8v0.8h-0.8zM406.2 294.2h0.9v0.9h-0.9zM414.8 292.3h1.0v1.0h-1.0zM413.8 288.9h0.9v0.9h-0.9zM410.0 282.5h1.1v1.1h-1.1zM407.0 283.6h1.2v1.2h-1.2zM412.1 294.3h0.9v0.9h-0.9zM418.5 291.8h1.3v1.3h-1.3zM408.6 293.3h1.1v1.1h-1.1zM433.6 278.7h0.8v0.8h-0.8zM412.8 284.8h1.2v1.2h-1.2zM410.7 283.6h1.3v1.3h-1.3zM416.0 292.2h1.2v1.2h-1.2zM412.7 291.1h1.1v1.1h-1.1zM401.3 293.6h1.0v1.0h-1.0zM415.7 295.1h1.0v1.0h-1.0zM405.1 285.7h0.9v0.9h-0.9zM403.3 285.1h0.9v0.9h-0.9zM409.8 298.4h0.7v0.7h-0.7zM407.7 295.7h0.9v0.9h-0.9zM418.2 286.2h1.2v1.2h-1.2zM422.6 290.0h1.1v1.1h-1.1zM418.2 305.4h1.1v1.1h-1.1zM412.4 300.0h0.7v0.7h-0.7zM415.9 296.4h1.1v1.1h-1.1zM415.0 286.9h0.8v0.8h-0.8zM408.0 283.2h0.8v0.8h-0.8zM418.9 297.7h0.9v0.9h-0.9zM412.5 287.4h1.2v1.2h-1.2zM416.7 277.9h1.2v1.2h-1.2zM407.7 290.5h0.9v0.9h-0.9zM412.0 286.1h1.1v1.1h-1.1zM421.6 297.3h0.9v0.9h-0.9zM409.6 304.1h0.8v0.8h-0.8zM400.8 281.5h1.0v1.0h-1.0zM414.0 299.7h1.0v1.0h-1.0zM400.4 282.8h1.0v1.0h-1.0zM414.4 298.3h0.8v0.8h-0.8zM421.8 292.6h1.2v1.2h-1.2zM403.9 290.3h1.3v1.3h-1.3zM415.5 289.3h1.0v1.0h-1.0zM418.1 292.3h1.3v1.3h-1.3zM406.9 288.4h0.9v0.9h-0.9zM414.8 282.4h1.2v1.2h-1.2zM410.0 289.7h0.9v0.9h-0.9zM417.1 282.0h1.2v1.2h-1.2zM416.2 306.6h0.9v0.9h-0.9zM409.1 291.2h0.9v0.9h-0.9zM398.2 293.9h0.8v0.8h-0.8zM411.6 299.4h1.2v1.2h-1.2zM408.2 290.8h1.1v1.1h-1.1zM406.0 295.6h1.1v1.1h-1.1zM413.8 282.0h0.9v0.9h-0.9zM409.0 286.0h0.7v0.7h-0.7zM417.4 284.6h1.2v1.2h-1.2zM419.4 294.5h0.8v0.8h-0.8zM413.3 283.1h1.1v1.1h-1.1zM408.7 289.1h0.9v0.9h-0.9zM410.3 297.6h1.1v1.1h-1.1zM407.8 284.4h0.9v0.9h-0.9zM406.8 300.4h1.0v1.0h-1.0zM419.0 272.8h0.8v0.8h-0.8zM416.6 279.5h1.0v1.0h-1.0zM413.3 298.6h1.2v1.2h-1.2zM412.1 287.1h0.9v0.9h-0.9zM405.6 295.1h1.3v1.3h-1.3zM411.9 294.5h1.2v1.2h-1.2zM410.3 297.4h1.0v1.0h-1.0zM404.3 282.5h1.0v1.0h-1.0zM405.4 291.9h0.9v0.9h-0.9zM408.8 286.8h1.0v1.0h-1.0zM415.5 278.7h1.0v1.0h-1.0zM401.8 284.4h1.3v1.3h-1.3zM432.2 305.9h1.2v1.2h-1.2zM410.4 283.4h1.1v1.1h-1.1zM417.5 301.2h0.9v0.9h-0.9zM413.1 282.9h0.9v0.9h-0.9zM414.6 300.1h0.8v0.8h-0.8zM416.3 292.1h1.1v1.1h-1.1zM402.6 297.2h0.9v0.9h-0.9zM411.4 277.0h1.1v1.1h-1.1zM416.2 293.5h1.0v1.0h-1.0zM411.3 305.8h1.1v1.1h-1.1zM405.3 294.0h0.9v0.9h-0.9zM416.1 297.5h0.8v0.8h-0.8zM404.3 278.3h0.7v0.7h-0.7zM403.9 289.7h0.9v0.9h-0.9zM415.2 296.1h1.2v1.2h-1.2zM410.8 291.4h0.9v0.9h-0.9zM405.5 293.7h1.3v1.3h-1.3zM405.2 293.6h0.9v0.9h-0.9zM403.7 278.4h1.2v1.2h-1.2zM405.0 262.2h0.9v0.9h-0.9zM410.3 284.6h1.1v1.1h-1.1zM411.7 297.9h1.2v1.2h-1.2zM404.4 289.8h1.0v1.0h-1.0zM408.5 293.1h0.7v0.7h-0.7zM406.9 286.7h0.7v0.7h-0.7zM404.5 275.6h1.1v1.1h-1.1zM413.5 277.6h0.9v0.9h-0.9zM417.8 290.5h0.7v0.7h-0.7zM408.1 299.7h0.8v0.8h-0.8z"/>
<path fill="#a4bce8" opacity="0.7" d="M409.8 282.8h1.2v1.2h-1.2zM398.7 302.1h0.8v0.8h-0.8zM404.5 298.7h0.9v0.9h-0.9zM403.1 287.5h1.2v1.2h-1.2zM406.9 271.8h0.8v0.8h-0.8zM407.8 293.5h1.2v1.2h-1.2zM411.4 289.3h0.9v0.9h-0.9zM415.8 304.1h1.2v1.2h-1.2zM412.5 297.2h0.8v0.8h-0.8zM402.9 291.4h0.8v0.8h-0.8zM415.3 299.6h1.2v1.2h-1.2zM412.5 292.9h0.8v0.8h-0.8zM408.7 297.7h1.2v1.2h-1.2zM420.3 286.6h1.2v1.2h-1.2zM403.3 302.8h0.9v0.9h-0.9zM416.1 297.2h1.2v1.2h-1.2zM414.0 290.3h1.0v1.0h-1.0zM406.7 299.1h0.8v0.8h-0.8zM416.1 300.7h0.8v0.8h-0.8zM403.3 283.3h1.1v1.1h-1.1zM410.8 293.7h1.0v1.0h-1.0zM410.4 289.6h1.1v1.1h-1.1zM414.2 292.5h0.7v0.7h-0.7zM405.9 296.1h1.0v1.0h-1.0zM408.9 297.4h0.8v0.8h-0.8zM408.2 271.5h1.1v1.1h-1.1zM401.9 290.5h0.8v0.8h-0.8zM405.1 300.4h0.9v0.9h-0.9zM416.7 296.2h1.1v1.1h-1.1zM406.2 293.0h0.7v0.7h-0.7zM411.4 290.2h1.0v1.0h-1.0zM409.9 293.5h1.2v1.2h-1.2zM413.4 301.5h1.1v1.1h-1.1zM398.9 292.7h0.7v0.7h-0.7zM412.7 287.0h1.0v1.0h-1.0zM406.3 291.3h1.2v1.2h-1.2zM410.4 291.5h0.8v0.8h-0.8zM419.6 276.5h1.2v1.2h-1.2zM417.5 283.7h1.0v1.0h-1.0zM406.2 301.0h0.8v0.8h-0.8zM415.6 296.7h0.9v0.9h-0.9zM403.7 294.2h0.7v0.7h-0.7zM404.9 279.0h0.9v0.9h-0.9zM414.6 285.2h1.0v1.0h-1.0zM417.6 289.4h0.7v0.7h-0.7zM414.8 289.3h0.9v0.9h-0.9zM425.5 291.3h1.0v1.0h-1.0zM422.5 285.3h1.1v1.1h-1.1zM415.8 278.0h1.2v1.2h-1.2zM405.5 289.8h0.8v0.8h-0.8zM417.3 284.3h0.8v0.8h-0.8zM411.2 293.5h0.7v0.7h-0.7zM400.9 291.3h0.8v0.8h-0.8zM400.5 302.8h0.8v0.8h-0.8zM415.4 294.8h0.8v0.8h-0.8zM401.1 298.0h0.9v0.9h-0.9zM421.8 288.8h0.9v0.9h-0.9zM404.2 298.1h0.7v0.7h-0.7zM409.1 302.4h0.8v0.8h-0.8zM416.8 292.1h1.0v1.0h-1.0zM412.5 304.0h1.1v1.1h-1.1zM421.4 281.0h0.7v0.7h-0.7zM416.2 291.3h0.8v0.8h-0.8zM412.2 282.2h0.7v0.7h-0.7zM395.0 293.8h1.1v1.1h-1.1zM404.7 283.2h1.2v1.2h-1.2zM421.5 287.7h0.9v0.9h-0.9zM425.9 295.2h0.8v0.8h-0.8zM413.6 288.8h0.7v0.7h-0.7zM412.0 300.6h1.3v1.3h-1.3zM417.2 293.1h0.8v0.8h-0.8zM401.4 281.0h1.1v1.1h-1.1zM415.9 278.3h1.1v1.1h-1.1zM409.9 298.5h1.1v1.1h-1.1zM404.0 295.1h1.0v1.0h-1.0zM405.5 293.2h1.2v1.2h-1.2zM419.1 298.8h1.0v1.0h-1.0zM412.4 286.4h1.0v1.0h-1.0zM404.8 293.6h0.8v0.8h-0.8zM412.2 283.1h1.1v1.1h-1.1zM407.7 298.4h1.1v1.1h-1.1zM414.7 285.3h0.9v0.9h-0.9zM408.5 291.2h1.1v1.1h-1.1zM399.1 284.6h1.0v1.0h-1.0zM415.7 284.3h1.3v1.3h-1.3zM400.0 287.4h1.0v1.0h-1.0zM406.8 297.9h1.1v1.1h-1.1zM398.9 293.4h1.1v1.1h-1.1zM404.8 294.9h1.1v1.1h-1.1zM415.0 295.0h1.2v1.2h-1.2zM416.2 292.9h1.0v1.0h-1.0zM404.4 285.5h1.3v1.3h-1.3zM416.7 288.7h1.2v1.2h-1.2zM407.1 287.2h1.2v1.2h-1.2zM409.6 286.4h1.2v1.2h-1.2zM401.8 290.6h0.7v0.7h-0.7zM408.6 291.6h1.1v1.1h-1.1zM405.3 284.5h0.9v0.9h-0.9zM408.3 289.5h0.8v0.8h-0.8zM417.8 285.7h1.1v1.1h-1.1zM414.1 280.8h1.1v1.1h-1.1zM418.0 302.6h0.7v0.7h-0.7zM422.9 287.1h1.3v1.3h-1.3zM405.0 292.2h1.3v1.3h-1.3zM409.4 294.2h0.8v0.8h-0.8zM412.4 289.3h1.1v1.1h-1.1zM402.7 289.2h1.0v1.0h-1.0zM407.6 290.9h1.0v1.0h-1.0z"/>
<path fill="#7fc0e0" opacity="0.7" d="M406.8 301.0h1.3v1.3h-1.3zM411.8 294.7h1.0v1.0h-1.0zM413.0 271.0h1.0v1.0h-1.0zM406.2 304.1h1.3v1.3h-1.3zM405.3 290.6h0.9v0.9h-0.9zM402.6 291.3h1.1v1.1h-1.1zM410.2 282.2h1.1v1.1h-1.1zM406.6 285.7h0.8v0.8h-0.8zM418.1 286.8h0.8v0.8h-0.8zM413.1 305.5h1.0v1.0h-1.0zM402.8 282.1h0.9v0.9h-0.9zM417.9 285.8h1.0v1.0h-1.0zM404.2 289.3h1.0v1.0h-1.0zM412.0 300.1h1.1v1.1h-1.1zM406.5 304.1h0.8v0.8h-0.8zM415.5 302.3h1.1v1.1h-1.1zM410.3 299.9h1.0v1.0h-1.0zM411.7 284.3h1.2v1.2h-1.2zM406.4 286.0h1.0v1.0h-1.0zM399.3 296.3h0.7v0.7h-0.7zM409.8 304.6h1.2v1.2h-1.2zM409.0 295.1h0.7v0.7h-0.7zM410.9 295.3h1.1v1.1h-1.1zM412.5 290.8h0.7v0.7h-0.7zM412.3 283.3h1.1v1.1h-1.1zM410.7 282.9h1.1v1.1h-1.1zM406.6 290.1h1.0v1.0h-1.0zM407.8 302.7h1.1v1.1h-1.1zM407.9 301.1h0.7v0.7h-0.7zM412.2 282.0h1.1v1.1h-1.1zM409.6 286.2h1.1v1.1h-1.1zM401.5 289.0h1.1v1.1h-1.1zM411.7 290.5h0.7v0.7h-0.7zM417.3 298.8h0.8v0.8h-0.8zM399.1 278.7h1.2v1.2h-1.2zM413.8 282.2h0.7v0.7h-0.7zM406.8 286.8h1.0v1.0h-1.0zM402.3 305.3h1.1v1.1h-1.1zM413.5 277.9h1.2v1.2h-1.2zM394.8 297.5h1.0v1.0h-1.0zM411.9 291.6h0.9v0.9h-0.9zM399.9 289.5h0.9v0.9h-0.9zM404.3 297.9h0.7v0.7h-0.7zM402.0 287.7h1.0v1.0h-1.0zM424.6 285.1h1.3v1.3h-1.3zM412.8 283.3h1.0v1.0h-1.0zM415.5 299.2h1.2v1.2h-1.2zM414.8 294.8h0.9v0.9h-0.9zM418.4 280.3h1.2v1.2h-1.2zM410.9 285.4h1.0v1.0h-1.0zM414.3 298.4h0.9v0.9h-0.9zM421.6 282.6h1.0v1.0h-1.0zM408.5 291.2h1.3v1.3h-1.3zM405.0 286.2h0.9v0.9h-0.9zM408.5 295.9h1.0v1.0h-1.0zM401.6 303.5h1.0v1.0h-1.0zM409.8 293.3h0.8v0.8h-0.8zM415.1 283.8h1.1v1.1h-1.1zM398.6 298.3h1.1v1.1h-1.1zM415.8 300.1h0.8v0.8h-0.8zM415.3 289.2h0.9v0.9h-0.9zM411.6 295.3h0.9v0.9h-0.9zM403.3 297.1h1.1v1.1h-1.1zM403.3 294.4h0.9v0.9h-0.9zM406.5 295.5h1.2v1.2h-1.2zM421.9 299.6h1.0v1.0h-1.0zM406.7 289.5h0.9v0.9h-0.9zM404.6 293.9h1.1v1.1h-1.1zM415.1 288.8h0.9v0.9h-0.9zM409.7 277.8h0.7v0.7h-0.7zM406.5 280.3h1.1v1.1h-1.1zM412.9 303.9h1.2v1.2h-1.2zM411.4 285.6h1.1v1.1h-1.1zM422.2 283.1h1.1v1.1h-1.1zM411.1 286.9h0.7v0.7h-0.7zM412.2 280.6h1.1v1.1h-1.1zM415.1 279.2h1.2v1.2h-1.2zM401.7 284.1h0.8v0.8h-0.8zM411.5 294.1h1.2v1.2h-1.2zM405.5 277.2h1.1v1.1h-1.1zM416.8 304.2h0.8v0.8h-0.8zM428.8 297.2h1.1v1.1h-1.1zM406.6 281.8h1.0v1.0h-1.0zM406.7 286.9h1.0v1.0h-1.0zM407.6 287.1h0.9v0.9h-0.9zM403.8 286.0h1.0v1.0h-1.0zM408.1 287.0h1.2v1.2h-1.2zM411.4 294.5h1.2v1.2h-1.2zM411.7 286.3h0.8v0.8h-0.8zM429.8 284.6h0.8v0.8h-0.8zM398.9 293.4h1.1v1.1h-1.1zM411.8 295.1h1.2v1.2h-1.2zM406.9 295.8h0.9v0.9h-0.9zM415.8 280.7h1.2v1.2h-1.2zM418.2 304.1h0.8v0.8h-0.8zM413.0 287.6h1.2v1.2h-1.2zM408.3 296.0h1.1v1.1h-1.1zM413.0 297.0h0.9v0.9h-0.9zM404.1 291.9h0.8v0.8h-0.8zM416.3 299.8h0.8v0.8h-0.8zM410.5 299.2h1.2v1.2h-1.2zM409.7 296.6h1.0v1.0h-1.0zM421.0 285.5h1.1v1.1h-1.1zM412.1 301.6h1.2v1.2h-1.2zM419.9 284.4h0.7v0.7h-0.7zM414.4 289.6h0.9v0.9h-0.9zM416.0 286.4h0.8v0.8h-0.8zM411.9 296.9h0.8v0.8h-0.8zM408.8 281.0h0.8v0.8h-0.8zM411.3 290.0h1.3v1.3h-1.3zM412.1 294.6h1.1v1.1h-1.1zM407.7 306.3h0.9v0.9h-0.9zM428.0 299.0h0.8v0.8h-0.8zM399.4 287.4h1.2v1.2h-1.2zM402.4 292.0h1.0v1.0h-1.0zM420.5 286.7h1.1v1.1h-1.1zM416.7 287.7h1.2v1.2h-1.2zM395.7 283.1h1.3v1.3h-1.3zM405.1 284.9h1.3v1.3h-1.3zM421.7 282.1h1.2v1.2h-1.2z"/>
<path fill="#a4bce8" opacity="0.7" d="M433.2 290.1h1.2v1.2h-1.2zM421.1 298.8h1.0v1.0h-1.0zM411.6 293.0h1.1v1.1h-1.1zM419.2 298.8h0.8v0.8h-0.8zM424.1 292.5h0.8v0.8h-0.8zM423.6 299.4h1.0v1.0h-1.0zM424.8 298.2h0.7v0.7h-0.7zM410.7 282.5h1.2v1.2h-1.2zM430.3 297.2h1.0v1.0h-1.0zM411.7 289.4h1.0v1.0h-1.0zM418.8 288.2h0.9v0.9h-0.9zM416.2 295.1h0.9v0.9h-0.9zM425.9 299.5h1.0v1.0h-1.0zM417.1 301.1h0.7v0.7h-0.7zM418.0 290.6h1.2v1.2h-1.2zM421.5 301.5h1.0v1.0h-1.0zM415.5 291.2h1.2v1.2h-1.2zM414.6 296.2h1.0v1.0h-1.0zM415.9 305.5h0.7v0.7h-0.7zM420.8 303.0h1.1v1.1h-1.1zM418.6 297.2h1.1v1.1h-1.1zM432.9 286.0h1.3v1.3h-1.3zM413.3 295.4h0.9v0.9h-0.9zM429.1 298.5h1.0v1.0h-1.0zM425.9 291.6h1.2v1.2h-1.2zM425.8 290.0h0.8v0.8h-0.8zM418.1 286.2h1.0v1.0h-1.0zM417.7 294.1h1.2v1.2h-1.2zM422.1 290.7h1.1v1.1h-1.1zM416.1 297.0h0.7v0.7h-0.7zM422.1 296.9h0.9v0.9h-0.9zM420.4 298.6h1.0v1.0h-1.0zM412.4 292.4h1.0v1.0h-1.0zM409.4 295.2h1.1v1.1h-1.1zM414.6 282.9h1.2v1.2h-1.2zM397.9 296.1h1.2v1.2h-1.2zM414.0 297.0h1.0v1.0h-1.0zM413.4 302.3h1.3v1.3h-1.3zM416.8 297.2h0.7v0.7h-0.7zM425.6 306.1h0.9v0.9h-0.9zM406.1 298.3h0.9v0.9h-0.9zM422.9 284.7h1.2v1.2h-1.2zM427.0 296.9h1.1v1.1h-1.1zM428.3 293.5h0.9v0.9h-0.9zM418.1 294.0h0.8v0.8h-0.8zM412.6 295.6h1.3v1.3h-1.3zM428.5 294.8h1.3v1.3h-1.3zM419.9 297.5h0.8v0.8h-0.8zM421.9 292.9h0.8v0.8h-0.8zM420.1 300.6h1.0v1.0h-1.0zM419.9 292.2h1.0v1.0h-1.0zM430.5 282.4h1.0v1.0h-1.0zM421.5 298.7h0.9v0.9h-0.9zM423.6 305.6h0.8v0.8h-0.8zM421.7 298.0h0.8v0.8h-0.8zM423.1 285.1h0.7v0.7h-0.7zM424.7 296.3h1.1v1.1h-1.1zM419.4 284.8h0.8v0.8h-0.8zM418.5 293.3h0.8v0.8h-0.8zM409.9 295.1h1.0v1.0h-1.0zM408.2 295.9h1.2v1.2h-1.2zM427.1 285.9h1.0v1.0h-1.0zM413.3 305.1h0.8v0.8h-0.8zM410.7 300.5h1.1v1.1h-1.1zM404.9 290.5h0.8v0.8h-0.8zM413.9 290.8h0.7v0.7h-0.7zM419.5 293.0h1.1v1.1h-1.1zM412.7 281.5h1.0v1.0h-1.0zM424.1 303.6h0.7v0.7h-0.7zM421.0 290.7h1.0v1.0h-1.0zM428.3 294.2h0.9v0.9h-0.9zM418.1 298.6h1.1v1.1h-1.1zM423.7 299.2h0.8v0.8h-0.8zM420.0 289.0h0.9v0.9h-0.9zM411.8 300.1h1.1v1.1h-1.1zM414.4 287.3h1.1v1.1h-1.1zM407.4 285.4h0.9v0.9h-0.9zM433.1 302.5h1.3v1.3h-1.3zM417.6 295.1h0.9v0.9h-0.9zM410.0 297.7h0.7v0.7h-0.7zM416.0 295.7h1.1v1.1h-1.1z"/>
<path fill="#c0d0f0" opacity="0.7" d="M424.0 296.7h0.9v0.9h-0.9zM416.6 296.2h1.1v1.1h-1.1zM406.5 291.7h0.8v0.8h-0.8zM414.7 300.8h0.9v0.9h-0.9zM427.6 302.2h1.1v1.1h-1.1zM397.7 292.3h1.1v1.1h-1.1zM425.0 299.0h0.8v0.8h-0.8zM417.9 302.0h1.2v1.2h-1.2zM413.7 292.6h1.0v1.0h-1.0zM417.2 292.8h1.0v1.0h-1.0zM420.4 294.8h1.2v1.2h-1.2zM417.0 296.9h1.0v1.0h-1.0zM416.4 300.9h0.9v0.9h-0.9zM409.2 297.2h0.9v0.9h-0.9zM416.6 295.0h1.2v1.2h-1.2zM421.5 302.1h1.1v1.1h-1.1zM423.3 294.3h1.2v1.2h-1.2zM418.2 293.6h0.7v0.7h-0.7zM429.5 302.2h0.8v0.8h-0.8zM419.7 303.1h1.1v1.1h-1.1zM411.9 293.2h0.8v0.8h-0.8zM423.7 297.2h1.2v1.2h-1.2zM435.2 288.6h1.1v1.1h-1.1zM416.2 297.5h0.7v0.7h-0.7zM411.2 292.0h0.8v0.8h-0.8zM419.2 291.5h1.1v1.1h-1.1zM409.2 296.5h1.2v1.2h-1.2zM401.7 298.1h0.7v0.7h-0.7zM400.2 290.9h0.7v0.7h-0.7zM417.0 293.2h1.1v1.1h-1.1zM408.7 301.5h1.1v1.1h-1.1zM416.2 287.4h1.2v1.2h-1.2zM420.0 289.4h1.2v1.2h-1.2zM414.1 293.7h1.3v1.3h-1.3zM411.8 296.5h1.2v1.2h-1.2zM420.4 287.5h1.2v1.2h-1.2zM408.3 294.2h0.7v0.7h-0.7zM420.4 294.2h1.1v1.1h-1.1zM428.6 296.6h1.0v1.0h-1.0zM430.8 292.5h1.1v1.1h-1.1zM424.1 291.1h0.8v0.8h-0.8zM416.9 295.0h0.7v0.7h-0.7zM404.1 294.5h0.8v0.8h-0.8zM426.3 306.1h1.1v1.1h-1.1zM423.8 292.6h1.0v1.0h-1.0zM423.1 293.2h1.2v1.2h-1.2zM413.5 303.8h0.8v0.8h-0.8zM416.1 300.3h0.9v0.9h-0.9zM423.7 306.4h0.8v0.8h-0.8zM418.1 288.4h1.2v1.2h-1.2zM426.7 302.3h0.8v0.8h-0.8zM414.4 295.0h1.1v1.1h-1.1zM410.5 303.2h0.8v0.8h-0.8zM423.0 291.1h1.2v1.2h-1.2zM405.6 302.1h1.1v1.1h-1.1z"/>
<path fill="#8fb0e4" opacity="0.7" d="M407.0 288.1h0.8v0.8h-0.8zM416.5 297.7h1.2v1.2h-1.2zM415.1 298.7h0.8v0.8h-0.8zM410.3 303.3h0.9v0.9h-0.9zM420.6 289.7h1.1v1.1h-1.1zM402.9 290.8h0.9v0.9h-0.9zM418.7 303.1h1.3v1.3h-1.3zM422.6 295.0h0.8v0.8h-0.8zM426.4 291.1h0.9v0.9h-0.9zM432.5 293.3h1.1v1.1h-1.1zM416.0 301.6h1.2v1.2h-1.2zM431.3 287.2h1.2v1.2h-1.2zM413.1 298.3h1.1v1.1h-1.1zM419.1 297.6h1.2v1.2h-1.2zM417.2 306.9h0.8v0.8h-0.8zM417.2 298.3h1.2v1.2h-1.2zM416.4 295.2h0.8v0.8h-0.8zM407.1 292.2h1.2v1.2h-1.2zM429.8 295.7h0.8v0.8h-0.8zM422.7 291.6h0.9v0.9h-0.9zM411.5 296.5h0.8v0.8h-0.8zM422.0 289.7h1.3v1.3h-1.3zM425.7 295.5h0.7v0.7h-0.7zM408.1 306.8h1.1v1.1h-1.1zM424.6 293.7h1.1v1.1h-1.1zM419.1 293.6h0.7v0.7h-0.7zM412.0 303.9h0.8v0.8h-0.8zM404.4 291.2h0.8v0.8h-0.8zM418.7 293.2h1.3v1.3h-1.3zM434.3 289.3h0.8v0.8h-0.8zM420.5 297.3h1.2v1.2h-1.2zM416.7 303.3h1.3v1.3h-1.3zM433.7 296.7h1.3v1.3h-1.3zM412.4 293.0h0.7v0.7h-0.7zM419.9 291.3h1.1v1.1h-1.1zM423.4 298.6h1.1v1.1h-1.1zM420.9 292.5h1.1v1.1h-1.1zM423.6 300.1h0.7v0.7h-0.7zM419.9 287.3h0.8v0.8h-0.8zM409.5 300.8h0.9v0.9h-0.9zM431.7 297.8h1.2v1.2h-1.2zM426.3 304.8h1.1v1.1h-1.1zM405.4 286.1h1.3v1.3h-1.3zM409.6 295.0h1.3v1.3h-1.3zM421.4 289.6h1.1v1.1h-1.1zM408.5 306.3h1.2v1.2h-1.2zM428.5 289.8h1.1v1.1h-1.1zM413.3 302.0h1.1v1.1h-1.1zM424.4 297.9h0.9v0.9h-0.9zM426.4 301.1h0.9v0.9h-0.9zM426.6 288.8h1.3v1.3h-1.3zM420.5 303.0h0.9v0.9h-0.9zM417.9 291.7h1.0v1.0h-1.0zM424.6 296.6h1.2v1.2h-1.2zM413.3 297.7h1.2v1.2h-1.2zM415.6 287.8h0.9v0.9h-0.9zM407.2 295.4h1.0v1.0h-1.0zM413.3 294.4h1.1v1.1h-1.1zM429.5 298.1h1.3v1.3h-1.3zM415.0 296.4h1.2v1.2h-1.2zM422.6 289.3h1.1v1.1h-1.1zM415.0 297.4h0.8v0.8h-0.8zM419.2 299.3h0.8v0.8h-0.8zM427.7 306.3h0.7v0.7h-0.7zM411.5 292.5h0.8v0.8h-0.8zM423.2 299.2h1.2v1.2h-1.2zM427.0 296.9h1.0v1.0h-1.0zM419.4 291.0h0.8v0.8h-0.8zM421.6 299.2h1.0v1.0h-1.0zM422.3 294.0h1.1v1.1h-1.1zM409.7 299.2h1.0v1.0h-1.0zM425.2 290.2h1.1v1.1h-1.1zM407.6 290.4h0.7v0.7h-0.7zM417.0 290.8h1.2v1.2h-1.2zM424.0 293.5h0.9v0.9h-0.9zM406.6 296.8h1.2v1.2h-1.2zM416.9 304.5h1.1v1.1h-1.1z"/>
<path fill="#5b84d0" opacity="0.8" d="M418.6 277.8h1.3v1.3h-1.3zM410.0 281.5h1.3v1.3h-1.3zM419.6 278.4h0.9v0.9h-0.9zM421.8 276.9h1.0v1.0h-1.0zM420.4 274.5h1.3v1.3h-1.3zM422.5 283.2h0.8v0.8h-0.8zM418.8 281.1h1.2v1.2h-1.2zM420.9 282.4h1.2v1.2h-1.2zM416.5 274.9h0.9v0.9h-0.9zM415.7 285.9h1.1v1.1h-1.1zM418.0 278.3h0.9v0.9h-0.9zM420.5 276.8h1.0v1.0h-1.0zM421.6 279.4h1.0v1.0h-1.0zM427.0 274.6h1.1v1.1h-1.1zM422.8 277.1h0.7v0.7h-0.7zM420.2 279.9h1.0v1.0h-1.0zM414.1 280.8h0.8v0.8h-0.8zM422.6 278.6h0.9v0.9h-0.9zM417.4 280.1h1.1v1.1h-1.1zM422.9 280.3h0.7v0.7h-0.7zM418.4 281.6h1.2v1.2h-1.2zM413.7 276.6h0.9v0.9h-0.9z"/>
<path fill="#6f95da" opacity="0.8" d="M415.7 275.0h0.8v0.8h-0.8zM419.6 283.2h0.8v0.8h-0.8zM419.1 280.2h1.1v1.1h-1.1zM419.2 278.0h0.9v0.9h-0.9zM416.0 279.9h1.2v1.2h-1.2zM421.8 275.8h0.9v0.9h-0.9zM416.6 278.4h0.7v0.7h-0.7zM422.3 278.6h1.3v1.3h-1.3zM414.5 282.5h0.9v0.9h-0.9zM414.8 281.8h1.0v1.0h-1.0zM419.2 275.7h1.3v1.3h-1.3zM419.0 274.3h1.0v1.0h-1.0zM420.5 282.3h1.2v1.2h-1.2zM417.7 279.8h1.2v1.2h-1.2zM419.6 278.4h0.9v0.9h-0.9zM418.3 278.7h1.0v1.0h-1.0zM413.0 278.4h1.1v1.1h-1.1zM415.0 276.9h1.3v1.3h-1.3zM414.4 283.5h1.0v1.0h-1.0zM414.8 278.9h1.0v1.0h-1.0zM418.6 279.3h1.3v1.3h-1.3zM423.6 283.6h0.9v0.9h-0.9zM411.5 282.7h1.0v1.0h-1.0zM417.6 280.3h0.9v0.9h-0.9zM416.8 275.9h0.8v0.8h-0.8zM414.0 276.6h0.8v0.8h-0.8zM423.1 284.3h1.0v1.0h-1.0zM419.1 276.2h0.8v0.8h-0.8zM415.4 282.6h1.1v1.1h-1.1z"/>
<path fill="#89a9e2" opacity="0.8" d="M418.0 274.9h0.8v0.8h-0.8zM422.7 272.7h1.2v1.2h-1.2zM418.0 278.7h0.8v0.8h-0.8zM413.9 276.9h0.9v0.9h-0.9zM413.8 281.3h1.2v1.2h-1.2zM418.5 275.6h1.2v1.2h-1.2zM416.0 277.3h1.1v1.1h-1.1zM417.1 282.1h1.2v1.2h-1.2zM415.0 279.8h0.9v0.9h-0.9zM415.0 279.4h1.0v1.0h-1.0zM410.0 275.9h0.8v0.8h-0.8zM410.1 277.1h0.9v0.9h-0.9zM419.8 280.0h0.7v0.7h-0.7zM418.2 281.2h1.0v1.0h-1.0zM410.9 278.7h0.7v0.7h-0.7zM410.0 282.7h1.1v1.1h-1.1zM417.5 278.6h1.2v1.2h-1.2zM411.0 283.0h1.3v1.3h-1.3zM419.0 279.7h0.8v0.8h-0.8zM419.9 280.9h1.3v1.3h-1.3zM425.7 275.3h0.9v0.9h-0.9zM421.0 279.3h1.2v1.2h-1.2zM419.3 280.6h0.7v0.7h-0.7zM418.7 277.3h0.8v0.8h-0.8zM415.3 279.9h1.1v1.1h-1.1zM416.0 281.9h1.2v1.2h-1.2zM419.0 276.3h1.0v1.0h-1.0zM420.5 280.7h0.9v0.9h-0.9zM412.0 281.8h0.8v0.8h-0.8z"/>
<path fill="#4c78c8" opacity="0.8" d="M419.9 280.0h1.0v1.0h-1.0zM415.2 279.8h0.8v0.8h-0.8zM419.3 282.9h1.2v1.2h-1.2zM429.2 281.5h1.1v1.1h-1.1zM412.4 278.9h0.9v0.9h-0.9zM417.9 279.5h1.2v1.2h-1.2zM409.1 278.7h0.8v0.8h-0.8zM416.6 277.9h1.1v1.1h-1.1zM413.3 278.6h0.9v0.9h-0.9zM416.3 280.3h0.9v0.9h-0.9zM414.9 277.9h0.9v0.9h-0.9zM418.0 285.2h0.8v0.8h-0.8zM428.3 278.1h1.0v1.0h-1.0zM412.0 279.1h1.1v1.1h-1.1zM422.9 279.7h1.3v1.3h-1.3zM418.4 281.4h1.2v1.2h-1.2zM421.3 279.9h1.0v1.0h-1.0zM420.2 279.4h0.8v0.8h-0.8zM416.2 283.7h1.1v1.1h-1.1zM420.1 285.0h1.2v1.2h-1.2zM418.0 280.9h0.9v0.9h-0.9zM419.8 281.6h1.3v1.3h-1.3zM417.2 281.9h0.9v0.9h-0.9zM417.9 276.5h0.7v0.7h-0.7zM421.4 276.9h0.9v0.9h-0.9zM414.2 282.4h1.3v1.3h-1.3zM419.4 279.1h1.3v1.3h-1.3zM416.0 279.1h0.9v0.9h-0.9zM416.4 279.6h1.2v1.2h-1.2z"/>
<path fill="#a4bce8" opacity="0.8" d="M414.5 278.9h0.8v0.8h-0.8zM403.7 279.4h1.2v1.2h-1.2zM419.5 280.7h0.8v0.8h-0.8zM418.0 276.3h1.0v1.0h-1.0zM415.9 284.7h0.8v0.8h-0.8zM415.0 280.1h0.9v0.9h-0.9zM415.6 281.1h1.2v1.2h-1.2zM421.4 275.1h1.0v1.0h-1.0zM415.6 284.7h0.9v0.9h-0.9zM424.0 278.5h0.8v0.8h-0.8zM419.8 282.8h1.2v1.2h-1.2zM419.1 278.7h0.7v0.7h-0.7zM419.6 278.9h1.2v1.2h-1.2zM415.5 272.9h0.9v0.9h-0.9zM420.0 282.5h1.0v1.0h-1.0zM417.8 281.5h1.1v1.1h-1.1zM424.3 277.2h0.9v0.9h-0.9zM417.5 277.5h1.3v1.3h-1.3zM413.1 278.0h0.9v0.9h-0.9zM417.6 280.1h0.9v0.9h-0.9zM418.5 274.9h0.9v0.9h-0.9zM420.7 282.7h0.8v0.8h-0.8zM423.6 281.4h1.3v1.3h-1.3z"/>
<path fill="#7fc0e0" opacity="0.8" d="M415.5 277.0h1.3v1.3h-1.3zM419.0 279.5h1.1v1.1h-1.1zM424.6 276.2h0.9v0.9h-0.9zM413.0 284.4h1.2v1.2h-1.2zM426.3 281.6h1.0v1.0h-1.0zM413.7 280.3h1.3v1.3h-1.3zM418.7 280.6h1.3v1.3h-1.3zM417.8 281.8h1.1v1.1h-1.1zM414.2 277.4h0.7v0.7h-0.7zM415.8 281.0h1.1v1.1h-1.1zM414.6 278.2h1.3v1.3h-1.3zM412.9 277.5h0.9v0.9h-0.9zM414.2 279.2h1.0v1.0h-1.0zM416.0 278.8h0.8v0.8h-0.8zM418.6 285.4h1.1v1.1h-1.1zM416.6 276.7h0.9v0.9h-0.9zM424.5 280.2h1.2v1.2h-1.2zM418.0 277.8h1.1v1.1h-1.1zM410.8 279.3h1.1v1.1h-1.1zM420.5 281.7h1.3v1.3h-1.3zM416.6 276.4h1.1v1.1h-1.1zM421.6 280.7h1.0v1.0h-1.0zM419.8 278.6h1.1v1.1h-1.1zM419.8 280.0h0.7v0.7h-0.7zM419.8 281.9h0.7v0.7h-0.7zM423.9 278.3h1.0v1.0h-1.0zM419.2 278.8h0.8v0.8h-0.8zM418.1 280.3h0.9v0.9h-0.9z"/>
<path fill="#3a6cc0" opacity="0.8" d="M400.9 302.0h1.2v1.2h-1.2zM408.1 291.4h0.8v0.8h-0.8zM405.6 293.6h1.0v1.0h-1.0zM409.3 294.4h0.9v0.9h-0.9zM404.5 291.6h0.8v0.8h-0.8zM405.2 294.3h1.1v1.1h-1.1zM407.1 272.8h1.0v1.0h-1.0zM404.5 288.1h1.0v1.0h-1.0zM404.9 287.2h1.2v1.2h-1.2zM405.7 299.1h1.2v1.2h-1.2zM406.4 290.8h1.2v1.2h-1.2zM403.9 286.5h1.3v1.3h-1.3zM405.2 297.9h1.2v1.2h-1.2zM404.3 295.8h1.2v1.2h-1.2zM404.4 291.5h0.7v0.7h-0.7zM409.4 284.2h0.9v0.9h-0.9zM400.5 289.2h1.2v1.2h-1.2zM403.9 282.1h0.9v0.9h-0.9zM406.6 286.7h0.8v0.8h-0.8zM403.3 293.4h0.9v0.9h-0.9zM407.3 274.6h1.0v1.0h-1.0zM405.2 291.8h1.2v1.2h-1.2zM400.8 287.7h1.0v1.0h-1.0zM409.1 298.6h1.2v1.2h-1.2zM403.8 275.5h1.2v1.2h-1.2zM405.6 284.3h1.2v1.2h-1.2zM407.5 282.9h1.0v1.0h-1.0zM406.0 283.5h1.3v1.3h-1.3zM401.2 293.9h1.3v1.3h-1.3zM403.6 292.5h0.9v0.9h-0.9zM404.6 285.9h0.8v0.8h-0.8zM405.7 278.3h1.1v1.1h-1.1zM402.6 297.9h1.2v1.2h-1.2zM406.2 282.9h0.8v0.8h-0.8zM406.8 288.1h1.0v1.0h-1.0zM405.9 300.5h1.1v1.1h-1.1zM407.4 286.8h1.2v1.2h-1.2zM404.5 298.7h1.1v1.1h-1.1zM410.5 304.9h1.3v1.3h-1.3zM406.8 295.9h0.9v0.9h-0.9zM407.9 282.7h0.8v0.8h-0.8zM404.6 291.7h0.8v0.8h-0.8zM399.6 290.7h1.1v1.1h-1.1zM401.9 281.1h1.1v1.1h-1.1zM405.6 283.1h1.2v1.2h-1.2zM404.8 296.9h0.8v0.8h-0.8zM405.2 294.2h1.2v1.2h-1.2zM405.8 279.6h0.7v0.7h-0.7zM411.1 299.2h0.7v0.7h-0.7zM405.7 298.4h0.9v0.9h-0.9zM404.5 296.8h0.9v0.9h-0.9zM403.8 279.5h1.0v1.0h-1.0zM407.2 297.3h1.0v1.0h-1.0zM404.7 281.1h1.2v1.2h-1.2zM406.0 275.3h1.0v1.0h-1.0zM405.6 301.0h0.9v0.9h-0.9zM406.0 293.6h1.2v1.2h-1.2zM402.2 288.9h1.2v1.2h-1.2zM405.3 298.0h1.1v1.1h-1.1zM404.4 280.9h1.1v1.1h-1.1zM405.7 295.2h0.8v0.8h-0.8zM403.8 290.0h1.1v1.1h-1.1zM405.1 303.2h0.8v0.8h-0.8zM403.0 280.1h0.8v0.8h-0.8z"/>
<path fill="#4a7cc8" opacity="0.8" d="M406.9 286.3h1.0v1.0h-1.0zM403.5 279.5h0.9v0.9h-0.9zM405.5 297.5h1.0v1.0h-1.0zM406.2 278.8h1.1v1.1h-1.1zM409.7 288.0h0.9v0.9h-0.9zM405.3 293.6h1.3v1.3h-1.3zM402.6 288.1h0.9v0.9h-0.9zM401.4 292.4h1.0v1.0h-1.0zM399.3 288.9h1.2v1.2h-1.2zM405.0 283.0h0.8v0.8h-0.8zM404.6 284.8h0.9v0.9h-0.9zM403.9 303.3h0.9v0.9h-0.9zM410.4 286.6h0.7v0.7h-0.7zM405.3 292.0h1.3v1.3h-1.3zM405.9 289.1h1.2v1.2h-1.2zM406.5 270.5h1.0v1.0h-1.0zM404.9 296.1h0.7v0.7h-0.7zM403.1 289.5h1.0v1.0h-1.0zM404.8 289.9h0.7v0.7h-0.7zM407.3 283.2h1.2v1.2h-1.2zM408.0 287.9h1.0v1.0h-1.0zM400.1 288.9h0.9v0.9h-0.9zM405.1 284.7h1.2v1.2h-1.2zM407.0 283.6h0.9v0.9h-0.9zM405.5 299.8h1.2v1.2h-1.2zM405.4 279.5h0.7v0.7h-0.7zM407.0 297.5h1.0v1.0h-1.0zM403.8 278.5h0.8v0.8h-0.8zM405.2 287.5h0.9v0.9h-0.9zM402.4 283.5h1.0v1.0h-1.0zM403.1 285.2h1.0v1.0h-1.0zM404.6 290.4h1.3v1.3h-1.3zM404.9 296.1h0.9v0.9h-0.9zM408.8 290.9h0.7v0.7h-0.7zM404.0 286.1h1.1v1.1h-1.1zM406.3 292.4h0.9v0.9h-0.9zM403.7 294.8h1.0v1.0h-1.0zM406.0 289.9h1.2v1.2h-1.2zM404.2 285.2h1.2v1.2h-1.2zM403.7 298.6h0.8v0.8h-0.8zM401.9 293.5h1.2v1.2h-1.2zM404.1 281.6h1.0v1.0h-1.0zM404.2 288.0h1.2v1.2h-1.2zM401.7 295.0h0.9v0.9h-0.9zM405.0 288.4h0.7v0.7h-0.7zM406.6 288.4h1.1v1.1h-1.1zM408.1 290.8h1.2v1.2h-1.2zM405.1 285.6h0.9v0.9h-0.9zM401.0 306.7h0.9v0.9h-0.9zM408.6 288.4h0.8v0.8h-0.8zM404.5 292.2h0.8v0.8h-0.8zM403.9 291.6h0.8v0.8h-0.8zM403.7 280.2h1.3v1.3h-1.3zM406.0 279.8h1.0v1.0h-1.0zM406.2 287.9h1.2v1.2h-1.2zM409.7 290.1h1.1v1.1h-1.1zM402.0 281.0h0.8v0.8h-0.8zM403.3 281.8h1.1v1.1h-1.1zM405.4 292.0h1.3v1.3h-1.3zM405.8 285.7h0.8v0.8h-0.8zM405.3 295.4h1.0v1.0h-1.0zM404.6 282.5h0.9v0.9h-0.9zM403.6 287.5h0.7v0.7h-0.7zM406.3 281.1h0.9v0.9h-0.9zM403.7 291.3h1.2v1.2h-1.2zM409.2 294.3h1.2v1.2h-1.2zM409.6 294.7h1.0v1.0h-1.0zM403.2 291.9h1.3v1.3h-1.3zM400.9 291.8h1.1v1.1h-1.1zM404.9 278.3h0.8v0.8h-0.8zM402.0 281.4h0.7v0.7h-0.7z"/>
<path fill="#3fa0d0" opacity="0.8" d="M401.4 283.3h0.8v0.8h-0.8zM402.8 305.6h1.0v1.0h-1.0zM403.9 289.9h1.3v1.3h-1.3zM404.2 290.9h1.1v1.1h-1.1zM405.5 287.6h0.8v0.8h-0.8zM410.8 291.4h1.0v1.0h-1.0zM405.9 300.2h1.2v1.2h-1.2zM401.1 296.4h1.1v1.1h-1.1zM404.2 287.1h0.9v0.9h-0.9zM411.5 284.2h0.8v0.8h-0.8zM408.1 294.1h0.7v0.7h-0.7zM407.3 301.6h0.9v0.9h-0.9zM406.1 291.5h0.7v0.7h-0.7zM404.8 289.1h0.9v0.9h-0.9zM408.5 301.2h1.1v1.1h-1.1zM407.1 280.2h0.9v0.9h-0.9zM406.2 288.8h1.2v1.2h-1.2zM408.8 291.7h1.2v1.2h-1.2zM406.0 272.6h1.1v1.1h-1.1zM406.0 290.4h1.1v1.1h-1.1zM402.0 286.7h0.8v0.8h-0.8zM402.1 298.0h0.7v0.7h-0.7zM403.0 289.1h1.2v1.2h-1.2zM407.2 300.6h0.9v0.9h-0.9zM405.2 294.6h0.9v0.9h-0.9zM406.1 285.1h1.1v1.1h-1.1zM405.5 289.7h0.8v0.8h-0.8zM401.5 298.3h1.1v1.1h-1.1zM405.7 289.7h0.8v0.8h-0.8zM405.8 288.5h1.0v1.0h-1.0zM403.9 294.5h0.7v0.7h-0.7zM408.3 287.3h1.2v1.2h-1.2zM401.6 286.8h0.8v0.8h-0.8zM405.2 287.5h1.2v1.2h-1.2zM404.5 281.3h0.9v0.9h-0.9zM404.8 290.8h0.8v0.8h-0.8zM409.9 292.9h1.3v1.3h-1.3zM400.7 298.2h1.0v1.0h-1.0zM405.9 294.7h1.3v1.3h-1.3zM399.1 289.4h1.0v1.0h-1.0zM403.2 279.4h1.0v1.0h-1.0zM407.0 290.2h0.9v0.9h-0.9zM401.8 295.2h1.0v1.0h-1.0zM405.7 291.5h1.3v1.3h-1.3zM402.0 287.6h1.0v1.0h-1.0zM403.8 272.9h0.7v0.7h-0.7zM408.3 292.1h1.2v1.2h-1.2zM405.3 303.3h0.8v0.8h-0.8zM403.1 298.3h1.0v1.0h-1.0zM404.2 305.9h0.8v0.8h-0.8zM405.5 301.1h1.1v1.1h-1.1zM403.2 293.1h1.1v1.1h-1.1zM411.7 286.5h1.2v1.2h-1.2zM409.1 288.2h0.7v0.7h-0.7zM406.3 278.1h0.7v0.7h-0.7zM403.7 276.7h1.0v1.0h-1.0zM409.0 279.1h0.8v0.8h-0.8zM406.4 280.2h0.9v0.9h-0.9zM407.5 276.4h1.3v1.3h-1.3zM404.3 304.5h1.3v1.3h-1.3zM408.8 287.5h1.1v1.1h-1.1zM407.4 286.8h0.8v0.8h-0.8z"/>
<ellipse cx="401.00" cy="289.20" rx="3.6" ry="15.5" fill="#3568bf" opacity="0.95" filter="url(#bl1)"/>
<ellipse cx="401.00" cy="288.20" rx="2.6" ry="14.0" fill="#3aa0c8" opacity="0.9" filter="url(#bl1)"/>
<ellipse cx="400.90" cy="287.70" rx="1.7" ry="12.5" fill="#5cb847" opacity="1.0" filter="url(#bl1)"/>
<ellipse cx="401.00" cy="277.70" rx="1.6" ry="3.5" fill="#b4d43a" opacity="1.0" filter="url(#bl1)"/>
<ellipse cx="400.50" cy="300.20" rx="3.0" ry="3.0" fill="#7cc040" opacity="1.0" filter="url(#bl1)"/>
<ellipse cx="400.50" cy="300.20" rx="2.3" ry="2.3" fill="#f0b02a" opacity="1.0" filter="url(#bl1)"/>
<ellipse cx="400.40" cy="300.40" rx="1.2" ry="1.2" fill="#e0321e" opacity="1.0" filter="url(#bl1)"/>
<rect x="396.80" y="273.40" width="8.70" height="11.60" fill="none" stroke="#3a5a90" stroke-width="0.7"/>
<rect x="411.00" y="273.40" width="13.70" height="11.60" fill="none" stroke="#3a5a90" stroke-width="0.7"/>
<text x="401.30" y="266.60" font-size="4.8" text-anchor="middle" fill="#4a4a4a" >MP</text>
<text x="401.30" y="271.40" font-size="4.8" text-anchor="middle" fill="#4a4a4a" >29.2</text>
<text x="417.80" y="266.60" font-size="4.8" text-anchor="middle" fill="#4a4a4a" >LSK</text>
<text x="417.80" y="271.40" font-size="4.8" text-anchor="middle" fill="#4a4a4a" >3.12</text>
<line x1="424.70" y1="279.50" x2="449.60" y2="279.50" stroke="#1a1a1a" stroke-width="1.0" />
<path d="M448.60 277.20 L452.60 279.00 L448.60 280.80 Z" fill="#111"/>
<line x1="396.50" y1="308.00" x2="396.50" y2="309.20" stroke="#333" stroke-width="0.5" />
<line x1="408.07" y1="308.00" x2="408.07" y2="309.20" stroke="#333" stroke-width="0.5" />
<line x1="419.65" y1="308.00" x2="419.65" y2="309.20" stroke="#333" stroke-width="0.5" />
<line x1="431.23" y1="308.00" x2="431.23" y2="309.20" stroke="#333" stroke-width="0.5" />
<line x1="442.80" y1="308.00" x2="442.80" y2="309.20" stroke="#333" stroke-width="0.5" />
<rect x="460.60" y="200.80" width="52.00" height="52.60" fill="#fff" stroke="#bdbdbd" stroke-width="0.7"/>
<ellipse cx="479.80" cy="235.30" rx="2.6" ry="4.5" fill="#d0d0d0" opacity="0.9" filter="url(#bl2)"/>
<g filter="url(#bl05)">
<ellipse cx="486.6" cy="228.80" rx="5.3" ry="13.8" fill="#dcdcdc"/>
<ellipse cx="486.30" cy="228.30" rx="5.20" ry="13.60" fill="#d4d4d4" stroke="#8c8c8c" stroke-width="0.5"/>
<ellipse cx="486.45" cy="227.80" rx="4.40" ry="11.30" fill="#c8c8c8" stroke="#7c7c7c" stroke-width="0.5"/>
<ellipse cx="486.60" cy="227.30" rx="3.60" ry="9.00" fill="#bcbcbc" stroke="#707070" stroke-width="0.5"/>
<ellipse cx="486.75" cy="226.80" rx="2.80" ry="6.70" fill="#b0b0b0" stroke="#666" stroke-width="0.5"/>
<ellipse cx="486.90" cy="226.30" rx="2.00" ry="4.40" fill="#a4a4a4" stroke="#5c5c5c" stroke-width="0.5"/>
<ellipse cx="487.6" cy="224.30" rx="1.1" ry="3.4" fill="#fff"/>
</g>
<rect x="480.10" y="212.40" width="13.80" height="16.00" fill="none" stroke="#666" stroke-width="0.6"/>
<rect x="472.30" y="228.40" width="10.00" height="17.00" fill="none" stroke="#777" stroke-width="0.6"/>
<rect x="482.30" y="228.40" width="11.60" height="17.00" fill="none" stroke="#777" stroke-width="0.6"/>
<line x1="480.10" y1="228.50" x2="493.90" y2="228.50" stroke="#333" stroke-width="0.9" />
<text x="487.00" y="207.00" font-size="4.6" text-anchor="middle" fill="#4a4a4a" >MPP</text>
<text x="487.00" y="211.40" font-size="4.6" text-anchor="middle" fill="#4a4a4a" >51.2</text>
<text x="469.40" y="226.00" font-size="4.6" text-anchor="middle" fill="#4a4a4a" >LT-HSC</text>
<text x="466.40" y="232.60" font-size="4.6" text-anchor="middle" fill="#4a4a4a" >9.19</text>
<text x="502.90" y="236.40" font-size="4.6" text-anchor="middle" fill="#4a4a4a" >ST-HSC</text>
<text x="501.80" y="242.60" font-size="4.6" text-anchor="middle" fill="#4a4a4a" >36.3</text>
<line x1="463.60" y1="252.20" x2="463.60" y2="253.40" stroke="#333" stroke-width="0.5" />
<line x1="475.10" y1="252.20" x2="475.10" y2="253.40" stroke="#333" stroke-width="0.5" />
<line x1="486.60" y1="252.20" x2="486.60" y2="253.40" stroke="#333" stroke-width="0.5" />
<line x1="498.10" y1="252.20" x2="498.10" y2="253.40" stroke="#333" stroke-width="0.5" />
<line x1="509.60" y1="252.20" x2="509.60" y2="253.40" stroke="#333" stroke-width="0.5" />
<rect x="460.60" y="256.40" width="52.00" height="52.60" fill="#fff" stroke="#bdbdbd" stroke-width="0.7"/>
<ellipse cx="479.80" cy="290.90" rx="2.6" ry="4.5" fill="#d0d0d0" opacity="0.9" filter="url(#bl2)"/>
<g filter="url(#bl05)">
<ellipse cx="486.6" cy="284.40" rx="5.3" ry="13.8" fill="#dcdcdc"/>
<ellipse cx="486.30" cy="283.90" rx="5.20" ry="13.60" fill="#d4d4d4" stroke="#8c8c8c" stroke-width="0.5"/>
<ellipse cx="486.45" cy="283.40" rx="4.40" ry="11.30" fill="#c8c8c8" stroke="#7c7c7c" stroke-width="0.5"/>
<ellipse cx="486.60" cy="282.90" rx="3.60" ry="9.00" fill="#bcbcbc" stroke="#707070" stroke-width="0.5"/>
<ellipse cx="486.75" cy="282.40" rx="2.80" ry="6.70" fill="#b0b0b0" stroke="#666" stroke-width="0.5"/>
<ellipse cx="486.90" cy="281.90" rx="2.00" ry="4.40" fill="#a4a4a4" stroke="#5c5c5c" stroke-width="0.5"/>
<ellipse cx="487.6" cy="279.90" rx="1.1" ry="3.4" fill="#fff"/>
</g>
<rect x="480.10" y="268.00" width="13.80" height="16.00" fill="none" stroke="#666" stroke-width="0.6"/>
<rect x="472.30" y="284.00" width="10.00" height="17.00" fill="none" stroke="#777" stroke-width="0.6"/>
<rect x="482.30" y="284.00" width="11.60" height="17.00" fill="none" stroke="#777" stroke-width="0.6"/>
<line x1="480.10" y1="284.50" x2="493.90" y2="284.50" stroke="#333" stroke-width="0.9" />
<text x="487.00" y="262.60" font-size="4.6" text-anchor="middle" fill="#4a4a4a" >MPP</text>
<text x="487.00" y="267.00" font-size="4.6" text-anchor="middle" fill="#4a4a4a" >53.8</text>
<text x="469.40" y="281.60" font-size="4.6" text-anchor="middle" fill="#4a4a4a" >LT-HSC</text>
<text x="466.40" y="288.20" font-size="4.6" text-anchor="middle" fill="#4a4a4a" >9.33</text>
<text x="502.90" y="292.00" font-size="4.6" text-anchor="middle" fill="#4a4a4a" >ST-HSC</text>
<text x="501.80" y="298.20" font-size="4.6" text-anchor="middle" fill="#4a4a4a" >34.6</text>
<line x1="463.60" y1="307.80" x2="463.60" y2="309.00" stroke="#333" stroke-width="0.5" />
<line x1="475.10" y1="307.80" x2="475.10" y2="309.00" stroke="#333" stroke-width="0.5" />
<line x1="486.60" y1="307.80" x2="486.60" y2="309.00" stroke="#333" stroke-width="0.5" />
<line x1="498.10" y1="307.80" x2="498.10" y2="309.00" stroke="#333" stroke-width="0.5" />
<line x1="509.60" y1="307.80" x2="509.60" y2="309.00" stroke="#333" stroke-width="0.5" />
<line x1="389.50" y1="308.50" x2="389.50" y2="205.50" stroke="#1a1a1a" stroke-width="1.1" />
<path d="M387.60 206.50 L389.40 202.50 L391.20 206.50 Z" fill="#111"/>
<line x1="393.40" y1="312.50" x2="442.00" y2="312.50" stroke="#1a1a1a" stroke-width="1.1" />
<path d="M441.00 310.50 L445.00 312.30 L441.00 314.10 Z" fill="#111"/>
<line x1="457.50" y1="308.50" x2="457.50" y2="205.00" stroke="#1a1a1a" stroke-width="1.1" />
<path d="M455.40 206.00 L457.20 202.00 L459.00 206.00 Z" fill="#111"/>
<line x1="460.30" y1="312.50" x2="508.80" y2="312.50" stroke="#1a1a1a" stroke-width="1.1" />
<path d="M507.80 310.50 L511.80 312.30 L507.80 314.10 Z" fill="#111"/>
<text x="413.20" y="323.80" font-size="9.6" fill="#111" stroke="#111" stroke-width="0.3" textLength="13.20" lengthAdjust="spacingAndGlyphs">Sca1</text>
<text x="478.20" y="323.80" font-size="9.6" fill="#111" stroke="#111" stroke-width="0.3" textLength="15.20" lengthAdjust="spacingAndGlyphs">CD34</text>
<text x="0" y="0" font-size="10.0" text-anchor="middle" fill="#111" stroke="#111" stroke-width="0.35" textLength="8.60" lengthAdjust="spacingAndGlyphs" transform="translate(381.40 229.20) rotate(-90)" dy="0.35em">WT</text>
<text x="0" y="0" font-size="10.0" text-anchor="middle" fill="#111" stroke="#111" stroke-width="0.35" transform="translate(381.30 280.10) rotate(-90)" dy="0.35em" textLength="26.4" lengthAdjust="spacingAndGlyphs">MC5R<tspan font-size="6.0" dy="-4.0" stroke-width="0.15">−/−</tspan></text>
<text x="0" y="0" font-size="6.6" text-anchor="middle" fill="#111" textLength="12.50" lengthAdjust="spacingAndGlyphs" transform="translate(385.30 253.20) rotate(-90)" dy="0.35em">c-Kit</text>
<text x="0" y="0" font-size="10.0" text-anchor="middle" fill="#111" stroke="#111" stroke-width="0.35" textLength="13.00" lengthAdjust="spacingAndGlyphs" transform="translate(451.80 253.40) rotate(-90)" dy="0.35em">Flk2</text>
<text x="7.80" y="343.00" font-size="11" text-anchor="start" font-weight="bold" fill="#000" >G</text>
<line x1="49.50" y1="370.50" x2="49.50" y2="454.80" stroke="#1a1a1a" stroke-width="1.0" />
<line x1="46.80" y1="372.50" x2="49.60" y2="372.50" stroke="#1a1a1a" stroke-width="0.9" />
<text x="44.50" y="375.79" font-size="8.3" text-anchor="end" fill="#333" >10</text>
<line x1="46.80" y1="389.50" x2="49.60" y2="389.50" stroke="#1a1a1a" stroke-width="0.9" />
<text x="44.50" y="392.39" font-size="8.3" text-anchor="end" fill="#333" >8</text>
<line x1="46.80" y1="405.50" x2="49.60" y2="405.50" stroke="#1a1a1a" stroke-width="0.9" />
<text x="44.50" y="408.79" font-size="8.3" text-anchor="end" fill="#333" >6</text>
<line x1="46.80" y1="422.50" x2="49.60" y2="422.50" stroke="#1a1a1a" stroke-width="0.9" />
<text x="44.50" y="425.09" font-size="8.3" text-anchor="end" fill="#333" >4</text>
<line x1="46.80" y1="438.50" x2="49.60" y2="438.50" stroke="#1a1a1a" stroke-width="0.9" />
<text x="44.50" y="441.49" font-size="8.3" text-anchor="end" fill="#333" >2</text>
<line x1="46.80" y1="454.50" x2="49.60" y2="454.50" stroke="#1a1a1a" stroke-width="0.9" />
<text x="44.50" y="457.79" font-size="8.3" text-anchor="end" fill="#333" >0</text>
<line x1="49.10" y1="454.50" x2="132.30" y2="454.50" stroke="#1a1a1a" stroke-width="1.0" />
<rect x="55.80" y="392.30" width="11.50" height="62.50" fill="#c8082e" />
<rect x="73.00" y="393.00" width="11.60" height="61.80" fill="#13508c" />
<rect x="96.20" y="443.70" width="12.10" height="11.10" fill="#c8082e" />
<rect x="114.00" y="444.60" width="11.60" height="10.20" fill="#13508c" />
<circle cx="60.09" cy="397.24" r="1.25" fill="none" stroke="rgba(0,0,0,0.45)" stroke-width="0.55"/>
<circle cx="61.80" cy="394.56" r="1.25" fill="none" stroke="rgba(0,0,0,0.45)" stroke-width="0.55"/>
<circle cx="61.51" cy="400.97" r="1.25" fill="none" stroke="rgba(0,0,0,0.45)" stroke-width="0.55"/>
<circle cx="61.90" cy="397.69" r="1.25" fill="none" stroke="rgba(0,0,0,0.45)" stroke-width="0.55"/>
<line x1="61.50" y1="392.30" x2="61.50" y2="390.30" stroke="#1a1a1a" stroke-width="0.7" />
<line x1="60.30" y1="390.30" x2="62.70" y2="390.30" stroke="#1a1a1a" stroke-width="0.7" />
<circle cx="58.50" cy="392.30" r="1.25" fill="none" stroke="#1a1a1a" stroke-width="0.55"/>
<circle cx="64.50" cy="392.30" r="1.25" fill="none" stroke="#1a1a1a" stroke-width="0.55"/>
<circle cx="61.50" cy="391.30" r="1.25" fill="none" stroke="#1a1a1a" stroke-width="0.55"/>
<path d="M60.20 396.30 L61.50 394.00 L62.80 396.30 Z" fill="none" stroke="#1a1a1a" stroke-width="0.55"/>
<path d="M80.28 398.41 L81.58 396.11 L82.88 398.41 Z" fill="none" stroke="rgba(0,0,0,0.45)" stroke-width="0.55"/>
<path d="M79.56 397.36 L80.86 395.06 L82.16 397.36 Z" fill="none" stroke="rgba(0,0,0,0.45)" stroke-width="0.55"/>
<path d="M77.39 397.55 L78.69 395.25 L79.99 397.55 Z" fill="none" stroke="rgba(0,0,0,0.45)" stroke-width="0.55"/>
<path d="M77.77 396.06 L79.07 393.76 L80.37 396.06 Z" fill="none" stroke="rgba(0,0,0,0.45)" stroke-width="0.55"/>
<line x1="78.80" y1="393.00" x2="78.80" y2="389.50" stroke="#1a1a1a" stroke-width="0.7" />
<line x1="77.60" y1="389.50" x2="80.00" y2="389.50" stroke="#1a1a1a" stroke-width="0.7" />
<path d="M77.50 389.00 L78.80 386.70 L80.10 389.00 Z" fill="none" stroke="#1a1a1a" stroke-width="0.55"/>
<path d="M74.50 395.00 L75.80 392.70 L77.10 395.00 Z" fill="none" stroke="#1a1a1a" stroke-width="0.55"/>
<path d="M80.50 395.00 L81.80 392.70 L83.10 395.00 Z" fill="none" stroke="#1a1a1a" stroke-width="0.55"/>
<circle cx="104.29" cy="446.80" r="1.25" fill="none" stroke="rgba(0,0,0,0.45)" stroke-width="0.55"/>
<circle cx="105.03" cy="448.90" r="1.25" fill="none" stroke="rgba(0,0,0,0.45)" stroke-width="0.55"/>
<circle cx="101.54" cy="449.83" r="1.25" fill="none" stroke="rgba(0,0,0,0.45)" stroke-width="0.55"/>
<circle cx="100.09" cy="446.65" r="1.25" fill="none" stroke="rgba(0,0,0,0.45)" stroke-width="0.55"/>
<line x1="102.20" y1="443.70" x2="102.20" y2="442.20" stroke="#1a1a1a" stroke-width="0.7" />
<line x1="101.00" y1="442.20" x2="103.40" y2="442.20" stroke="#1a1a1a" stroke-width="0.7" />
<circle cx="99.20" cy="443.70" r="1.25" fill="none" stroke="#1a1a1a" stroke-width="0.55"/>
<circle cx="105.20" cy="441.70" r="1.25" fill="none" stroke="#1a1a1a" stroke-width="0.55"/>
<path d="M118.38 452.10 L119.68 449.80 L120.98 452.10 Z" fill="none" stroke="rgba(0,0,0,0.45)" stroke-width="0.55"/>
<path d="M119.27 452.35 L120.57 450.05 L121.87 452.35 Z" fill="none" stroke="rgba(0,0,0,0.45)" stroke-width="0.55"/>
<path d="M121.07 452.74 L122.37 450.44 L123.67 452.74 Z" fill="none" stroke="rgba(0,0,0,0.45)" stroke-width="0.55"/>
<path d="M116.34 448.76 L117.64 446.46 L118.94 448.76 Z" fill="none" stroke="rgba(0,0,0,0.45)" stroke-width="0.55"/>
<line x1="119.80" y1="444.60" x2="119.80" y2="443.40" stroke="#1a1a1a" stroke-width="0.7" />
<line x1="118.60" y1="443.40" x2="121.00" y2="443.40" stroke="#1a1a1a" stroke-width="0.7" />
<path d="M115.50 444.60 L116.80 442.30 L118.10 444.60 Z" fill="none" stroke="#1a1a1a" stroke-width="0.55"/>
<path d="M118.50 444.60 L119.80 442.30 L121.10 444.60 Z" fill="none" stroke="#1a1a1a" stroke-width="0.55"/>
<path d="M121.50 444.60 L122.80 442.30 L124.10 444.60 Z" fill="none" stroke="#1a1a1a" stroke-width="0.55"/>
<line x1="69.50" y1="454.80" x2="69.50" y2="456.80" stroke="#1a1a1a" stroke-width="0.8" />
<line x1="111.50" y1="454.80" x2="111.50" y2="456.80" stroke="#1a1a1a" stroke-width="0.8" />
<text x="64.00" y="468.60" font-size="9.4" text-anchor="start" textLength="12.30" lengthAdjust="spacingAndGlyphs" >MP</text>
<text x="103.60" y="468.60" font-size="9.4" text-anchor="start" textLength="15.00" lengthAdjust="spacingAndGlyphs" >LSK</text>
<rect x="91.50" y="372.60" width="4.60" height="4.60" fill="#c8082e" />
<text x="98.80" y="377.00" font-size="9.2" text-anchor="start" fill="#222" >WT</text>
<rect x="91.50" y="379.40" width="4.60" height="4.60" fill="#13508c" />
<text x="98.80" y="383.80" font-size="9.2" text-anchor="start" fill="#222" >MC5R<tspan font-size="5.5" dy="-3.6">−/−</tspan></text>
<text x="0" y="0" font-size="9.0" text-anchor="middle" fill="#111" stroke="#111" stroke-width="0.35" textLength="86.50" lengthAdjust="spacingAndGlyphs" transform="translate(24.60 412.60) rotate(-90)" dy="0.35em">Cell number in BM (×10 ^ 5)</text>
<text x="163.00" y="343.00" font-size="11" text-anchor="start" font-weight="bold" fill="#000" >H</text>
<line x1="204.50" y1="370.50" x2="204.50" y2="455.00" stroke="#1a1a1a" stroke-width="1.0" />
<line x1="201.70" y1="372.50" x2="204.50" y2="372.50" stroke="#1a1a1a" stroke-width="0.9" />
<text x="199.60" y="375.59" font-size="8.3" text-anchor="end" fill="#333" >1.0</text>
<line x1="201.70" y1="389.50" x2="204.50" y2="389.50" stroke="#1a1a1a" stroke-width="0.9" />
<text x="199.60" y="392.19" font-size="8.3" text-anchor="end" fill="#333" >0.8</text>
<line x1="201.70" y1="405.50" x2="204.50" y2="405.50" stroke="#1a1a1a" stroke-width="0.9" />
<text x="199.60" y="408.69" font-size="8.3" text-anchor="end" fill="#333" >0.6</text>
<line x1="201.70" y1="422.50" x2="204.50" y2="422.50" stroke="#1a1a1a" stroke-width="0.9" />
<text x="199.60" y="425.19" font-size="8.3" text-anchor="end" fill="#333" >0.4</text>
<line x1="201.70" y1="438.50" x2="204.50" y2="438.50" stroke="#1a1a1a" stroke-width="0.9" />
<text x="199.60" y="441.59" font-size="8.3" text-anchor="end" fill="#333" >0.2</text>
<line x1="201.70" y1="455.50" x2="204.50" y2="455.50" stroke="#1a1a1a" stroke-width="0.9" />
<text x="199.60" y="457.99" font-size="8.3" text-anchor="end" fill="#333" >0.0</text>
<line x1="204.00" y1="455.50" x2="326.20" y2="455.50" stroke="#1a1a1a" stroke-width="1.0" />
<rect x="210.00" y="444.90" width="12.00" height="10.10" fill="#c8082e" />
<rect x="228.00" y="445.40" width="11.50" height="9.60" fill="#13508c" />
<rect x="250.40" y="417.20" width="11.60" height="37.80" fill="#c8082e" />
<rect x="267.70" y="420.00" width="12.00" height="35.00" fill="#13508c" />
<rect x="290.20" y="398.50" width="11.50" height="56.50" fill="#c8082e" />
<rect x="308.00" y="403.80" width="11.60" height="51.20" fill="#13508c" />
<circle cx="213.00" cy="452.91" r="1.25" fill="none" stroke="rgba(0,0,0,0.45)" stroke-width="0.55"/>
<circle cx="217.42" cy="446.53" r="1.25" fill="none" stroke="rgba(0,0,0,0.45)" stroke-width="0.55"/>
<circle cx="216.32" cy="448.19" r="1.25" fill="none" stroke="rgba(0,0,0,0.45)" stroke-width="0.55"/>
<circle cx="218.44" cy="452.80" r="1.25" fill="none" stroke="rgba(0,0,0,0.45)" stroke-width="0.55"/>
<line x1="216.00" y1="444.90" x2="216.00" y2="443.40" stroke="#1a1a1a" stroke-width="0.7" />
<line x1="214.80" y1="443.40" x2="217.20" y2="443.40" stroke="#1a1a1a" stroke-width="0.7" />
<circle cx="213.00" cy="444.90" r="1.25" fill="none" stroke="#1a1a1a" stroke-width="0.55"/>
<circle cx="216.00" cy="442.90" r="1.25" fill="none" stroke="#1a1a1a" stroke-width="0.55"/>
<path d="M230.74 448.63 L232.04 446.33 L233.34 448.63 Z" fill="none" stroke="rgba(0,0,0,0.45)" stroke-width="0.55"/>
<path d="M233.46 449.73 L234.76 447.43 L236.06 449.73 Z" fill="none" stroke="rgba(0,0,0,0.45)" stroke-width="0.55"/>
<path d="M233.20 449.05 L234.50 446.75 L235.80 449.05 Z" fill="none" stroke="rgba(0,0,0,0.45)" stroke-width="0.55"/>
<path d="M235.48 452.96 L236.78 450.66 L238.08 452.96 Z" fill="none" stroke="rgba(0,0,0,0.45)" stroke-width="0.55"/>
<line x1="233.70" y1="445.40" x2="233.70" y2="444.20" stroke="#1a1a1a" stroke-width="0.7" />
<line x1="232.50" y1="444.20" x2="234.90" y2="444.20" stroke="#1a1a1a" stroke-width="0.7" />
<path d="M230.40 445.40 L231.70 443.10 L233.00 445.40 Z" fill="none" stroke="#1a1a1a" stroke-width="0.55"/>
<path d="M234.40 445.40 L235.70 443.10 L237.00 445.40 Z" fill="none" stroke="#1a1a1a" stroke-width="0.55"/>
<circle cx="258.73" cy="420.18" r="1.25" fill="none" stroke="rgba(0,0,0,0.45)" stroke-width="0.55"/>
<circle cx="253.73" cy="419.54" r="1.25" fill="none" stroke="rgba(0,0,0,0.45)" stroke-width="0.55"/>
<circle cx="257.83" cy="425.14" r="1.25" fill="none" stroke="rgba(0,0,0,0.45)" stroke-width="0.55"/>
<circle cx="259.35" cy="423.79" r="1.25" fill="none" stroke="rgba(0,0,0,0.45)" stroke-width="0.55"/>
<line x1="256.20" y1="417.20" x2="256.20" y2="414.20" stroke="#1a1a1a" stroke-width="0.7" />
<line x1="255.00" y1="414.20" x2="257.40" y2="414.20" stroke="#1a1a1a" stroke-width="0.7" />
<circle cx="254.20" cy="414.20" r="1.25" fill="none" stroke="#1a1a1a" stroke-width="0.55"/>
<circle cx="257.20" cy="411.20" r="1.25" fill="none" stroke="#1a1a1a" stroke-width="0.55"/>
<circle cx="259.20" cy="417.20" r="1.25" fill="none" stroke="#1a1a1a" stroke-width="0.55"/>
<path d="M274.46 427.00 L275.76 424.70 L277.06 427.00 Z" fill="none" stroke="rgba(0,0,0,0.45)" stroke-width="0.55"/>
<path d="M273.82 422.57 L275.12 420.27 L276.42 422.57 Z" fill="none" stroke="rgba(0,0,0,0.45)" stroke-width="0.55"/>
<path d="M273.34 428.03 L274.64 425.73 L275.94 428.03 Z" fill="none" stroke="rgba(0,0,0,0.45)" stroke-width="0.55"/>
<path d="M272.28 426.13 L273.58 423.83 L274.88 426.13 Z" fill="none" stroke="rgba(0,0,0,0.45)" stroke-width="0.55"/>
<line x1="273.70" y1="420.00" x2="273.70" y2="417.00" stroke="#1a1a1a" stroke-width="0.7" />
<line x1="272.50" y1="417.00" x2="274.90" y2="417.00" stroke="#1a1a1a" stroke-width="0.7" />
<path d="M269.40 418.00 L270.70 415.70 L272.00 418.00 Z" fill="none" stroke="#1a1a1a" stroke-width="0.55"/>
<path d="M272.40 417.00 L273.70 414.70 L275.00 417.00 Z" fill="none" stroke="#1a1a1a" stroke-width="0.55"/>
<path d="M275.40 417.00 L276.70 414.70 L278.00 417.00 Z" fill="none" stroke="#1a1a1a" stroke-width="0.55"/>
<circle cx="294.34" cy="401.23" r="1.25" fill="none" stroke="rgba(0,0,0,0.45)" stroke-width="0.55"/>
<circle cx="295.36" cy="401.19" r="1.25" fill="none" stroke="rgba(0,0,0,0.45)" stroke-width="0.55"/>
<circle cx="295.40" cy="400.88" r="1.25" fill="none" stroke="rgba(0,0,0,0.45)" stroke-width="0.55"/>
<circle cx="296.17" cy="404.25" r="1.25" fill="none" stroke="rgba(0,0,0,0.45)" stroke-width="0.55"/>
<line x1="296.00" y1="398.50" x2="296.00" y2="394.00" stroke="#1a1a1a" stroke-width="0.7" />
<line x1="294.80" y1="394.00" x2="297.20" y2="394.00" stroke="#1a1a1a" stroke-width="0.7" />
<circle cx="296.00" cy="388.50" r="1.25" fill="none" stroke="#1a1a1a" stroke-width="0.55"/>
<circle cx="294.00" cy="393.50" r="1.25" fill="none" stroke="#1a1a1a" stroke-width="0.55"/>
<circle cx="298.00" cy="393.50" r="1.25" fill="none" stroke="#1a1a1a" stroke-width="0.55"/>
<circle cx="299.00" cy="398.50" r="1.25" fill="none" stroke="#1a1a1a" stroke-width="0.55"/>
<path d="M313.85 407.67 L315.15 405.37 L316.45 407.67 Z" fill="none" stroke="rgba(0,0,0,0.45)" stroke-width="0.55"/>
<path d="M309.93 409.02 L311.23 406.72 L312.53 409.02 Z" fill="none" stroke="rgba(0,0,0,0.45)" stroke-width="0.55"/>
<path d="M314.22 408.58 L315.52 406.28 L316.82 408.58 Z" fill="none" stroke="rgba(0,0,0,0.45)" stroke-width="0.55"/>
<path d="M314.97 410.86 L316.27 408.56 L317.57 410.86 Z" fill="none" stroke="rgba(0,0,0,0.45)" stroke-width="0.55"/>
<line x1="313.80" y1="403.80" x2="313.80" y2="400.80" stroke="#1a1a1a" stroke-width="0.7" />
<line x1="312.60" y1="400.80" x2="315.00" y2="400.80" stroke="#1a1a1a" stroke-width="0.7" />
<path d="M310.50 401.80 L311.80 399.50 L313.10 401.80 Z" fill="none" stroke="#1a1a1a" stroke-width="0.55"/>
<path d="M313.50 399.80 L314.80 397.50 L316.10 399.80 Z" fill="none" stroke="#1a1a1a" stroke-width="0.55"/>
<path d="M315.50 403.80 L316.80 401.50 L318.10 403.80 Z" fill="none" stroke="#1a1a1a" stroke-width="0.55"/>
<line x1="225.50" y1="455.00" x2="225.50" y2="457.00" stroke="#1a1a1a" stroke-width="0.8" />
<line x1="265.50" y1="455.00" x2="265.50" y2="457.00" stroke="#1a1a1a" stroke-width="0.8" />
<line x1="305.50" y1="455.00" x2="305.50" y2="457.00" stroke="#1a1a1a" stroke-width="0.8" />
<text x="211.00" y="469.00" font-size="9.4" text-anchor="start" textLength="27.40" lengthAdjust="spacingAndGlyphs" >LT-HSC</text>
<text x="249.00" y="469.00" font-size="9.4" text-anchor="start" textLength="30.20" lengthAdjust="spacingAndGlyphs" >ST-HSC</text>
<text x="296.00" y="469.00" font-size="9.4" text-anchor="start" textLength="17.60" lengthAdjust="spacingAndGlyphs" >MPP</text>
<rect x="210.50" y="373.00" width="4.60" height="4.60" fill="#c8082e" />
<text x="217.80" y="377.40" font-size="9.2" text-anchor="start" fill="#222" >WT</text>
<rect x="210.50" y="379.80" width="4.60" height="4.60" fill="#13508c" />
<text x="217.80" y="384.20" font-size="9.2" text-anchor="start" fill="#222" >MC5R<tspan font-size="5.5" dy="-3.6">−/−</tspan></text>
<text x="0" y="0" font-size="9.0" text-anchor="middle" fill="#111" stroke="#111" stroke-width="0.35" textLength="86.50" lengthAdjust="spacingAndGlyphs" transform="translate(180.00 412.40) rotate(-90)" dy="0.35em">Cell number in BM (×10 ^ 5)</text>
<text x="356.60" y="343.00" font-size="11" text-anchor="start" font-weight="bold" fill="#000" >I</text>
<text x="392.70" y="360.20" font-size="9.4" text-anchor="start" textLength="36.40" lengthAdjust="spacingAndGlyphs" >MP Gated</text>
<text x="441.20" y="360.20" font-size="9.4" text-anchor="start" textLength="70.50" lengthAdjust="spacingAndGlyphs" >Lin<tspan font-size="5.5" dy="-3.2">−</tspan><tspan dy="3.2"> CD127</tspan><tspan font-size="5.5" dy="-3.2">+</tspan><tspan dy="3.2"> Gated</tspan></text>
<rect x="383.40" y="363.40" width="52.20" height="51.60" fill="#fff" stroke="#bdbdbd" stroke-width="0.7"/>
<g transform="translate(0 0.0)">
<g filter="url(#bl05)">
<path d="M405.8 380.4 C 408 379, 413 378, 415.8 379.2 C 417.5 380.5, 418 384, 418.1 390.4 C 418.1 394, 417.6 398, 417.3 400 C 416.8 403, 415.5 406, 412.7 408.1 C 410 409.8, 408 410.4, 406.5 410.4 C 403 410.6, 400.5 410.3, 398.8 410 C 396 409.6, 394 409, 392.7 408.1 C 391 407, 390.2 406, 390.4 405 C 390.5 403, 391 402, 391.9 401.2 C 393.5 400, 395 399.2, 396.5 398.5 C 398 397.8, 399.5 397.2, 400.4 396.5 C 401.3 395.8, 401.7 395.2, 401.5 394.6 C 401.2 394, 400.8 393.8, 400.4 393.5 C 399.6 393, 399 392.5, 399.2 391.9 C 399.4 391.3, 400.2 391.2, 400.4 390.8 C 400.5 390.2, 399.3 389.6, 398.8 388.8 C 398.2 388, 397.9 387.2, 398.1 386.5 C 398.5 385, 399.5 384, 400.4 383.5 C 401.5 382.5, 402.5 381.8, 403.5 381.2 C 404.3 380.8, 405 380.6, 405.8 380.4 Z" fill="#111"/>
<path d="M400.11 392.15L401.69 393.36L402.29 394.17L402.43 394.60L402.44 395.12L402.11 396.01L401.40 396.84L400.36 397.62L395.05 400.24L392.48 401.89L391.90 402.57L391.51 403.53L391.27 405.28L391.35 405.64L391.56 405.97L392.18 406.61L393.19 407.35L394.18 407.90L395.00 408.23L397.63 408.90L400.34 409.32L402.04 409.49L404.82 409.56L407.56 409.39L408.85 409.04L409.85 408.63L412.18 407.36L413.84 405.79L415.07 403.96L415.67 402.64L416.11 401.27L416.57 398.73L416.92 395.71L417.16 392.19L417.11 387.48L416.94 385.03L416.67 383.06L416.28 381.56L415.80 380.53L415.33 379.99L414.10 379.67L412.47 379.57L409.83 379.87L408.18 380.31L406.10 381.25L404.43 381.77L403.93 381.99L402.52 382.93L399.93 385.00L399.30 385.89L398.97 386.73L398.97 387.21L399.29 387.93L399.77 388.58L400.97 389.79L401.28 390.46L401.28 390.97L401.09 391.39L400.71 391.77L400.11 392.15Z" fill="#fafafa"/>
<path d="M391.98 405.30L392.41 405.88L393.58 406.76L394.47 407.26L395.66 407.71L397.18 408.10L399.95 408.56L403.37 408.85L406.78 408.79L408.19 408.52L409.57 407.99L411.23 407.12L411.78 406.79L412.83 405.86L414.11 404.23L414.75 403.02L415.24 401.75L415.72 399.74L416.30 394.80L416.50 390.41L416.24 385.10L415.81 382.42L415.41 381.29L415.01 380.65L413.99 380.36L412.48 380.27L410.81 380.41L408.40 380.97L406.33 381.91L404.27 382.61L402.70 383.67L400.44 385.48L399.92 386.21L399.65 387.05L400.20 388.01L401.40 389.20L401.88 390.01L402.00 390.64L401.93 391.25L401.68 391.77L401.31 392.18L402.32 393.00L402.97 393.96L403.15 394.89L402.94 395.93L402.59 396.56L402.16 397.08L400.78 398.18L395.39 400.85L392.93 402.43L392.49 402.94L392.25 403.47L391.98 405.30Z" fill="#1a1a1a"/>
<path d="M392.49 405.21L393.20 405.89L394.12 406.52L395.02 406.95L396.26 407.36L397.85 407.72L400.49 408.13L404.07 408.36L407.03 408.26L408.45 407.91L409.86 407.30L410.98 406.69L411.49 406.38L412.48 405.51L413.68 403.96L414.29 402.82L414.76 401.59L415.23 399.65L415.72 395.60L415.99 391.26L415.84 386.28L415.63 384.15L415.32 382.55L414.96 381.50L414.67 381.03L413.24 380.78L411.69 380.81L410.07 381.05L408.56 381.45L406.49 382.38L404.51 383.05L403.00 384.06L400.80 385.82L400.36 386.44L400.15 386.97L400.60 387.71L401.91 389.05L402.35 389.86L402.49 390.43L402.49 390.99L402.35 391.59L402.05 392.10L402.95 392.97L403.49 393.92L403.64 395.06L403.41 396.11L402.67 397.25L401.31 398.43L399.93 399.22L395.63 401.29L393.25 402.82L392.92 403.20L392.73 403.63L392.49 405.21Z" fill="#f4f4f4"/>
<path d="M393.41 404.89L394.35 405.59L395.06 405.99L396.96 406.61L401.10 407.30L404.79 407.46L406.91 407.37L408.55 406.91L410.97 405.64L412.23 404.44L413.21 402.98L413.71 401.89L414.08 400.73L414.49 398.45L414.90 394.68L415.10 390.42L414.94 386.35L414.60 383.45L414.11 381.81L413.18 381.68L411.77 381.71L410.25 381.93L408.84 382.30L406.79 383.23L404.94 383.84L403.54 384.78L401.46 386.44L401.14 386.91L402.50 388.33L403.09 389.28L403.33 390.03L403.40 390.63L403.35 391.36L403.19 391.89L403.95 392.85L404.41 393.87L404.54 395.13L404.25 396.43L403.86 397.18L403.33 397.86L401.80 399.19L400.38 400.00L396.07 402.08L393.82 403.51L393.58 403.91L393.41 404.89Z" fill="#202020"/>
<path d="M393.94 404.68L394.84 405.32L395.54 405.65L396.63 406.01L398.10 406.34L401.66 406.85L405.52 406.94L407.08 406.84L408.78 406.26L410.68 405.23L411.85 404.12L412.77 402.74L413.24 401.71L413.60 400.60L413.99 398.38L414.40 394.64L414.59 391.23L414.52 387.60L414.24 384.35L413.97 382.90L413.75 382.25L412.51 382.17L411.08 382.29L409.65 382.58L408.43 382.98L406.95 383.70L405.18 384.28L403.85 385.18L401.83 386.78L401.74 386.88L403.01 388.18L403.38 388.74L403.73 389.59L403.90 390.63L403.76 391.77L404.58 392.93L404.99 394.17L405.03 395.31L404.71 396.61L404.27 397.46L403.86 398.01L402.46 399.33L400.93 400.28L397.30 402.00L395.33 403.09L394.14 403.91L393.94 404.68Z" fill="#ececec"/>
<path d="M395.03 404.37L395.87 404.82L396.86 405.14L400.35 405.79L403.45 406.05L406.60 405.99L407.68 405.74L409.30 405.00L410.16 404.50L411.16 403.54L411.98 402.32L412.40 401.39L412.73 400.37L413.02 398.84L413.43 395.38L413.66 392.05L413.67 388.99L413.46 385.38L413.08 383.08L411.21 383.18L409.88 383.45L408.77 383.82L407.25 384.55L405.60 385.07L404.39 385.90L403.13 386.95L403.72 387.62L404.37 388.71L404.77 390.18L404.74 391.53L405.37 392.50L405.81 393.68L405.95 394.88L405.89 395.72L405.61 396.78L405.33 397.42L404.92 398.11L404.21 398.98L402.57 400.36L400.95 401.29L397.06 403.13L395.03 404.37Z" fill="#282828"/>
<path d="M395.99 404.33L397.86 404.87L401.30 405.41L404.09 405.56L406.57 405.50L407.52 405.27L409.06 404.56L409.87 404.09L410.78 403.22L411.53 402.08L412.24 400.24L412.53 398.77L412.93 395.33L413.20 390.43L413.05 386.48L412.68 383.57L410.63 383.79L408.96 384.28L407.42 385.03L405.83 385.52L403.85 386.99L404.50 387.89L405.02 389.01L405.27 390.13L405.26 391.39L405.99 392.63L406.29 393.56L406.43 394.48L406.43 395.42L406.28 396.31L406.02 397.11L405.44 398.24L404.96 398.89L404.03 399.85L403.05 400.63L401.57 401.53L397.92 403.25L395.99 404.33Z" fill="#e2e2e2"/>
<path d="M398.35 404.05L402.37 404.60L404.09 404.66L406.56 404.59L407.50 404.31L409.10 403.50L409.83 402.92L410.32 402.33L410.92 401.29L411.37 400.01L411.64 398.65L412.04 395.25L412.30 390.43L412.15 386.54L411.94 384.51L410.82 384.67L409.30 385.12L407.71 385.88L406.25 386.31L405.08 387.14L405.65 388.15L405.88 388.74L406.17 390.03L406.18 391.14L406.81 392.27L407.26 393.79L407.32 395.49L407.15 396.52L406.86 397.44L406.49 398.23L405.79 399.29L405.01 400.17L404.04 401.02L401.98 402.33L398.35 404.05Z" fill="#303030"/>
<path d="M400.02 403.82L402.93 404.13L406.56 404.09L407.63 403.71L409.06 402.94L409.70 402.31L410.12 401.74L410.62 400.71L411.00 399.43L411.61 394.41L411.80 390.43L411.72 387.74L411.51 385.06L409.49 385.58L407.88 386.35L406.49 386.76L405.75 387.25L406.11 387.94L406.56 389.35L406.69 391.00L407.27 392.07L407.75 393.71L407.82 395.53L407.68 396.48L407.38 397.46L406.50 399.17L405.76 400.10L404.76 401.07L402.84 402.43L400.02 403.82Z" fill="#d8d8d8"/>
</g>
<path d="M398.1 386.5 C 398.5 385, 399.5 384, 400.4 383.5 C 401.5 382.5, 402.5 381.8, 403.5 381.2 C 404.3 380.8, 405 380.6, 405.8 380.4" fill="none" stroke="#000" stroke-width="1.3"/>
<path d="M401.5 394.6 C 401.2 394, 400.8 393.8, 400.4 393.5 C 399.6 393, 399 392.5, 399.2 391.9" fill="none" stroke="#000" stroke-width="1.3"/>
<ellipse cx="397.7" cy="405.8" rx="1.6" ry="0.8" fill="#000"/>
<ellipse cx="405.8" cy="403.8" rx="0.9" ry="0.9" fill="#111"/>
<circle cx="410.4" cy="385.2" r="1.0" fill="none" stroke="#222" stroke-width="0.5"/>
<ellipse cx="410.4" cy="395.8" rx="0.8" ry="1.0" fill="#fff"/>
<ellipse cx="409.6" cy="398.8" rx="0.7" ry="0.9" fill="#fff"/>
</g>
<rect x="403.40" y="376.40" width="17.30" height="21.90" fill="none" stroke="#8a8a8a" stroke-width="0.55"/>
<rect x="388.70" y="398.30" width="14.70" height="14.70" fill="none" stroke="#8a8a8a" stroke-width="0.55"/>
<rect x="403.40" y="398.30" width="17.30" height="14.70" fill="none" stroke="#8a8a8a" stroke-width="0.55"/>
<text x="411.80" y="370.20" font-size="4.6" text-anchor="middle" fill="#4a4a4a" >GMP</text>
<text x="411.80" y="375.00" font-size="4.6" text-anchor="middle" fill="#4a4a4a" >34.5</text>
<text x="392.00" y="393.20" font-size="4.6" text-anchor="middle" fill="#4a4a4a" >MEP</text>
<text x="392.00" y="398.00" font-size="4.6" text-anchor="middle" fill="#4a4a4a" >33.6</text>
<text x="428.00" y="403.90" font-size="4.6" text-anchor="middle" fill="#4a4a4a" >CMP</text>
<text x="428.00" y="409.00" font-size="4.6" text-anchor="middle" fill="#4a4a4a" >29.1</text>
<line x1="386.40" y1="413.80" x2="386.40" y2="415.00" stroke="#333" stroke-width="0.5" />
<line x1="397.95" y1="413.80" x2="397.95" y2="415.00" stroke="#333" stroke-width="0.5" />
<line x1="409.50" y1="413.80" x2="409.50" y2="415.00" stroke="#333" stroke-width="0.5" />
<line x1="421.05" y1="413.80" x2="421.05" y2="415.00" stroke="#333" stroke-width="0.5" />
<line x1="432.60" y1="413.80" x2="432.60" y2="415.00" stroke="#333" stroke-width="0.5" />
<rect x="383.40" y="419.40" width="52.20" height="51.60" fill="#fff" stroke="#bdbdbd" stroke-width="0.7"/>
<g transform="translate(0 56.0)">
<g filter="url(#bl05)">
<path d="M405.8 380.4 C 408 379, 413 378, 415.8 379.2 C 417.5 380.5, 418 384, 418.1 390.4 C 418.1 394, 417.6 398, 417.3 400 C 416.8 403, 415.5 406, 412.7 408.1 C 410 409.8, 408 410.4, 406.5 410.4 C 403 410.6, 400.5 410.3, 398.8 410 C 396 409.6, 394 409, 392.7 408.1 C 391 407, 390.2 406, 390.4 405 C 390.5 403, 391 402, 391.9 401.2 C 393.5 400, 395 399.2, 396.5 398.5 C 398 397.8, 399.5 397.2, 400.4 396.5 C 401.3 395.8, 401.7 395.2, 401.5 394.6 C 401.2 394, 400.8 393.8, 400.4 393.5 C 399.6 393, 399 392.5, 399.2 391.9 C 399.4 391.3, 400.2 391.2, 400.4 390.8 C 400.5 390.2, 399.3 389.6, 398.8 388.8 C 398.2 388, 397.9 387.2, 398.1 386.5 C 398.5 385, 399.5 384, 400.4 383.5 C 401.5 382.5, 402.5 381.8, 403.5 381.2 C 404.3 380.8, 405 380.6, 405.8 380.4 Z" fill="#111"/>
<path d="M400.11 392.15L401.69 393.36L402.29 394.17L402.43 394.60L402.44 395.12L402.11 396.01L401.40 396.84L400.36 397.62L395.05 400.24L392.48 401.89L391.90 402.57L391.51 403.53L391.27 405.28L391.35 405.64L391.56 405.97L392.18 406.61L393.19 407.35L394.18 407.90L395.00 408.23L397.63 408.90L400.34 409.32L402.04 409.49L404.82 409.56L407.56 409.39L408.85 409.04L409.85 408.63L412.18 407.36L413.84 405.79L415.07 403.96L415.67 402.64L416.11 401.27L416.57 398.73L416.92 395.71L417.16 392.19L417.11 387.48L416.94 385.03L416.67 383.06L416.28 381.56L415.80 380.53L415.33 379.99L414.10 379.67L412.47 379.57L409.83 379.87L408.18 380.31L406.10 381.25L404.43 381.77L403.93 381.99L402.52 382.93L399.93 385.00L399.30 385.89L398.97 386.73L398.97 387.21L399.29 387.93L399.77 388.58L400.97 389.79L401.28 390.46L401.28 390.97L401.09 391.39L400.71 391.77L400.11 392.15Z" fill="#fafafa"/>
<path d="M391.98 405.30L392.41 405.88L393.58 406.76L394.47 407.26L395.66 407.71L397.18 408.10L399.95 408.56L403.37 408.85L406.78 408.79L408.19 408.52L409.57 407.99L411.23 407.12L411.78 406.79L412.83 405.86L414.11 404.23L414.75 403.02L415.24 401.75L415.72 399.74L416.30 394.80L416.50 390.41L416.24 385.10L415.81 382.42L415.41 381.29L415.01 380.65L413.99 380.36L412.48 380.27L410.81 380.41L408.40 380.97L406.33 381.91L404.27 382.61L402.70 383.67L400.44 385.48L399.92 386.21L399.65 387.05L400.20 388.01L401.40 389.20L401.88 390.01L402.00 390.64L401.93 391.25L401.68 391.77L401.31 392.18L402.32 393.00L402.97 393.96L403.15 394.89L402.94 395.93L402.59 396.56L402.16 397.08L400.78 398.18L395.39 400.85L392.93 402.43L392.49 402.94L392.25 403.47L391.98 405.30Z" fill="#1a1a1a"/>
<path d="M392.49 405.21L393.20 405.89L394.12 406.52L395.02 406.95L396.26 407.36L397.85 407.72L400.49 408.13L404.07 408.36L407.03 408.26L408.45 407.91L409.86 407.30L410.98 406.69L411.49 406.38L412.48 405.51L413.68 403.96L414.29 402.82L414.76 401.59L415.23 399.65L415.72 395.60L415.99 391.26L415.84 386.28L415.63 384.15L415.32 382.55L414.96 381.50L414.67 381.03L413.24 380.78L411.69 380.81L410.07 381.05L408.56 381.45L406.49 382.38L404.51 383.05L403.00 384.06L400.80 385.82L400.36 386.44L400.15 386.97L400.60 387.71L401.91 389.05L402.35 389.86L402.49 390.43L402.49 390.99L402.35 391.59L402.05 392.10L402.95 392.97L403.49 393.92L403.64 395.06L403.41 396.11L402.67 397.25L401.31 398.43L399.93 399.22L395.63 401.29L393.25 402.82L392.92 403.20L392.73 403.63L392.49 405.21Z" fill="#f4f4f4"/>
<path d="M393.41 404.89L394.35 405.59L395.06 405.99L396.96 406.61L401.10 407.30L404.79 407.46L406.91 407.37L408.55 406.91L410.97 405.64L412.23 404.44L413.21 402.98L413.71 401.89L414.08 400.73L414.49 398.45L414.90 394.68L415.10 390.42L414.94 386.35L414.60 383.45L414.11 381.81L413.18 381.68L411.77 381.71L410.25 381.93L408.84 382.30L406.79 383.23L404.94 383.84L403.54 384.78L401.46 386.44L401.14 386.91L402.50 388.33L403.09 389.28L403.33 390.03L403.40 390.63L403.35 391.36L403.19 391.89L403.95 392.85L404.41 393.87L404.54 395.13L404.25 396.43L403.86 397.18L403.33 397.86L401.80 399.19L400.38 400.00L396.07 402.08L393.82 403.51L393.58 403.91L393.41 404.89Z" fill="#202020"/>
<path d="M393.94 404.68L394.84 405.32L395.54 405.65L396.63 406.01L398.10 406.34L401.66 406.85L405.52 406.94L407.08 406.84L408.78 406.26L410.68 405.23L411.85 404.12L412.77 402.74L413.24 401.71L413.60 400.60L413.99 398.38L414.40 394.64L414.59 391.23L414.52 387.60L414.24 384.35L413.97 382.90L413.75 382.25L412.51 382.17L411.08 382.29L409.65 382.58L408.43 382.98L406.95 383.70L405.18 384.28L403.85 385.18L401.83 386.78L401.74 386.88L403.01 388.18L403.38 388.74L403.73 389.59L403.90 390.63L403.76 391.77L404.58 392.93L404.99 394.17L405.03 395.31L404.71 396.61L404.27 397.46L403.86 398.01L402.46 399.33L400.93 400.28L397.30 402.00L395.33 403.09L394.14 403.91L393.94 404.68Z" fill="#ececec"/>
<path d="M395.03 404.37L395.87 404.82L396.86 405.14L400.35 405.79L403.45 406.05L406.60 405.99L407.68 405.74L409.30 405.00L410.16 404.50L411.16 403.54L411.98 402.32L412.40 401.39L412.73 400.37L413.02 398.84L413.43 395.38L413.66 392.05L413.67 388.99L413.46 385.38L413.08 383.08L411.21 383.18L409.88 383.45L408.77 383.82L407.25 384.55L405.60 385.07L404.39 385.90L403.13 386.95L403.72 387.62L404.37 388.71L404.77 390.18L404.74 391.53L405.37 392.50L405.81 393.68L405.95 394.88L405.89 395.72L405.61 396.78L405.33 397.42L404.92 398.11L404.21 398.98L402.57 400.36L400.95 401.29L397.06 403.13L395.03 404.37Z" fill="#282828"/>
<path d="M395.99 404.33L397.86 404.87L401.30 405.41L404.09 405.56L406.57 405.50L407.52 405.27L409.06 404.56L409.87 404.09L410.78 403.22L411.53 402.08L412.24 400.24L412.53 398.77L412.93 395.33L413.20 390.43L413.05 386.48L412.68 383.57L410.63 383.79L408.96 384.28L407.42 385.03L405.83 385.52L403.85 386.99L404.50 387.89L405.02 389.01L405.27 390.13L405.26 391.39L405.99 392.63L406.29 393.56L406.43 394.48L406.43 395.42L406.28 396.31L406.02 397.11L405.44 398.24L404.96 398.89L404.03 399.85L403.05 400.63L401.57 401.53L397.92 403.25L395.99 404.33Z" fill="#e2e2e2"/>
<path d="M398.35 404.05L402.37 404.60L404.09 404.66L406.56 404.59L407.50 404.31L409.10 403.50L409.83 402.92L410.32 402.33L410.92 401.29L411.37 400.01L411.64 398.65L412.04 395.25L412.30 390.43L412.15 386.54L411.94 384.51L410.82 384.67L409.30 385.12L407.71 385.88L406.25 386.31L405.08 387.14L405.65 388.15L405.88 388.74L406.17 390.03L406.18 391.14L406.81 392.27L407.26 393.79L407.32 395.49L407.15 396.52L406.86 397.44L406.49 398.23L405.79 399.29L405.01 400.17L404.04 401.02L401.98 402.33L398.35 404.05Z" fill="#303030"/>
<path d="M400.02 403.82L402.93 404.13L406.56 404.09L407.63 403.71L409.06 402.94L409.70 402.31L410.12 401.74L410.62 400.71L411.00 399.43L411.61 394.41L411.80 390.43L411.72 387.74L411.51 385.06L409.49 385.58L407.88 386.35L406.49 386.76L405.75 387.25L406.11 387.94L406.56 389.35L406.69 391.00L407.27 392.07L407.75 393.71L407.82 395.53L407.68 396.48L407.38 397.46L406.50 399.17L405.76 400.10L404.76 401.07L402.84 402.43L400.02 403.82Z" fill="#d8d8d8"/>
</g>
<path d="M398.1 386.5 C 398.5 385, 399.5 384, 400.4 383.5 C 401.5 382.5, 402.5 381.8, 403.5 381.2 C 404.3 380.8, 405 380.6, 405.8 380.4" fill="none" stroke="#000" stroke-width="1.3"/>
<path d="M401.5 394.6 C 401.2 394, 400.8 393.8, 400.4 393.5 C 399.6 393, 399 392.5, 399.2 391.9" fill="none" stroke="#000" stroke-width="1.3"/>
<ellipse cx="397.7" cy="405.8" rx="1.6" ry="0.8" fill="#000"/>
<ellipse cx="405.8" cy="403.8" rx="0.9" ry="0.9" fill="#111"/>
<circle cx="410.4" cy="385.2" r="1.0" fill="none" stroke="#222" stroke-width="0.5"/>
<ellipse cx="410.4" cy="395.8" rx="0.8" ry="1.0" fill="#fff"/>
<ellipse cx="409.6" cy="398.8" rx="0.7" ry="0.9" fill="#fff"/>
</g>
<rect x="403.40" y="432.40" width="17.30" height="21.90" fill="none" stroke="#8a8a8a" stroke-width="0.55"/>
<rect x="388.70" y="454.30" width="14.70" height="14.70" fill="none" stroke="#8a8a8a" stroke-width="0.55"/>
<rect x="403.40" y="454.30" width="17.30" height="14.70" fill="none" stroke="#8a8a8a" stroke-width="0.55"/>
<text x="411.80" y="426.20" font-size="4.6" text-anchor="middle" fill="#4a4a4a" >GMP</text>
<text x="411.80" y="431.00" font-size="4.6" text-anchor="middle" fill="#4a4a4a" >36.7</text>
<text x="392.00" y="449.20" font-size="4.6" text-anchor="middle" fill="#4a4a4a" >MEP</text>
<text x="392.00" y="454.00" font-size="4.6" text-anchor="middle" fill="#4a4a4a" >31.8</text>
<text x="428.00" y="459.90" font-size="4.6" text-anchor="middle" fill="#4a4a4a" >CMP</text>
<text x="428.00" y="465.00" font-size="4.6" text-anchor="middle" fill="#4a4a4a" >30.6</text>
<line x1="386.40" y1="469.80" x2="386.40" y2="471.00" stroke="#333" stroke-width="0.5" />
<line x1="397.95" y1="469.80" x2="397.95" y2="471.00" stroke="#333" stroke-width="0.5" />
<line x1="409.50" y1="469.80" x2="409.50" y2="471.00" stroke="#333" stroke-width="0.5" />
<line x1="421.05" y1="469.80" x2="421.05" y2="471.00" stroke="#333" stroke-width="0.5" />
<line x1="432.60" y1="469.80" x2="432.60" y2="471.00" stroke="#333" stroke-width="0.5" />
<rect x="451.50" y="363.00" width="51.90" height="52.40" fill="#fff" stroke="#bdbdbd" stroke-width="0.7"/>
<g transform="translate(0 0.00)" filter="url(#bl05)">
<ellipse cx="468" cy="387.0" rx="7" ry="3.5" fill="#ececec" opacity="0.9" filter="url(#bl2)"/>
<ellipse cx="472" cy="401" rx="6" ry="4" fill="#efefef" opacity="0.8" filter="url(#bl2)"/>
<path d="M462.5 384.0 C 459.5 386.0, 458 391, 458 398 C 458 403.5, 460 406.5, 464.5 406.5 C 468 406.5, 471 405, 474.5 403.5 L 474 399.5 C 471 400.8, 468.5 401, 467.2 398.5 C 466 395.5, 466.2 389.0, 468.5 387.0 C 467.5 384.0, 465 383.5, 462.5 384.0 Z" fill="#e0e0e0" stroke="#a8a8a8" stroke-width="0.5"/>
<path d="M462.8 387.0 C 460.8 390.0, 460.2 393, 460.3 398 C 460.4 402, 462 404.3, 464.5 404.3 C 467 404.3, 469 403.5, 471 402.6" fill="none" stroke="#b0b0b0" stroke-width="0.5"/>
<path d="M459.6 386.5 C 458.2 390.0, 458.0 396, 458.3 400 C 458.6 404.5, 460.5 406.6, 464.5 406.6 C 467.5 406.6, 470 405.6, 472.5 404.4" fill="none" stroke="#4a4a4a" stroke-width="1.0"/>
<ellipse cx="479.6" cy="400.2" rx="4.2" ry="5.4" fill="#e4e4e4" stroke="#8a8a8a" stroke-width="0.6"/>
<ellipse cx="479.8" cy="400.2" rx="2.4" ry="3.4" fill="#f4f4f4" stroke="#a8a8a8" stroke-width="0.5"/>
<ellipse cx="462.3" cy="403.2" rx="1.3" ry="1.0" fill="#fff"/>
</g>
<rect x="469.90" y="380.00" width="11.10" height="11.60" fill="none" stroke="#707070" stroke-width="0.6"/>
<line x1="472.80" y1="383.00" x2="472.80" y2="390.00" stroke="#aaa" stroke-width="0.5" />
<line x1="475.60" y1="382.00" x2="475.60" y2="390.00" stroke="#bbb" stroke-width="0.5" />
<text x="489.60" y="385.40" font-size="4.8" text-anchor="middle" fill="#4a4a4a" >CLP</text>
<text x="489.60" y="390.00" font-size="4.8" text-anchor="middle" fill="#4a4a4a" >10.7</text>
<line x1="454.50" y1="414.20" x2="454.50" y2="415.40" stroke="#333" stroke-width="0.5" />
<line x1="465.98" y1="414.20" x2="465.98" y2="415.40" stroke="#333" stroke-width="0.5" />
<line x1="477.45" y1="414.20" x2="477.45" y2="415.40" stroke="#333" stroke-width="0.5" />
<line x1="488.92" y1="414.20" x2="488.92" y2="415.40" stroke="#333" stroke-width="0.5" />
<line x1="500.40" y1="414.20" x2="500.40" y2="415.40" stroke="#333" stroke-width="0.5" />
<rect x="451.50" y="419.20" width="51.90" height="52.40" fill="#fff" stroke="#bdbdbd" stroke-width="0.7"/>
<g transform="translate(0 56.20)" filter="url(#bl05)">
<ellipse cx="468" cy="392.5" rx="7" ry="3.5" fill="#ececec" opacity="0.9" filter="url(#bl2)"/>
<ellipse cx="472" cy="401" rx="6" ry="4" fill="#efefef" opacity="0.8" filter="url(#bl2)"/>
<path d="M462.5 389.5 C 459.5 391.5, 458 391, 458 398 C 458 403.5, 460 406.5, 464.5 406.5 C 468 406.5, 471 405, 474.5 403.5 L 474 399.5 C 471 400.8, 468.5 401, 467.2 398.5 C 466 395.5, 466.2 394.5, 468.5 392.5 C 467.5 389.5, 465 389.0, 462.5 389.5 Z" fill="#e0e0e0" stroke="#a8a8a8" stroke-width="0.5"/>
<path d="M462.8 392.5 C 460.8 395.5, 460.2 393, 460.3 398 C 460.4 402, 462 404.3, 464.5 404.3 C 467 404.3, 469 403.5, 471 402.6" fill="none" stroke="#b0b0b0" stroke-width="0.5"/>
<path d="M459.6 392.0 C 458.2 395.5, 458.0 396, 458.3 400 C 458.6 404.5, 460.5 406.6, 464.5 406.6 C 467.5 406.6, 470 405.6, 472.5 404.4" fill="none" stroke="#4a4a4a" stroke-width="1.0"/>
<ellipse cx="479.6" cy="400.2" rx="4.2" ry="5.4" fill="#e4e4e4" stroke="#8a8a8a" stroke-width="0.6"/>
<ellipse cx="479.8" cy="400.2" rx="2.4" ry="3.4" fill="#f4f4f4" stroke="#a8a8a8" stroke-width="0.5"/>
<ellipse cx="462.3" cy="403.2" rx="1.3" ry="1.0" fill="#fff"/>
</g>
<rect x="469.90" y="436.40" width="11.10" height="11.60" fill="none" stroke="#707070" stroke-width="0.6"/>
<line x1="472.80" y1="439.40" x2="472.80" y2="446.40" stroke="#aaa" stroke-width="0.5" />
<line x1="475.60" y1="438.40" x2="475.60" y2="446.40" stroke="#bbb" stroke-width="0.5" />
<text x="489.60" y="441.60" font-size="4.8" text-anchor="middle" fill="#4a4a4a" >CLP</text>
<text x="489.60" y="446.20" font-size="4.8" text-anchor="middle" fill="#4a4a4a" >11.3</text>
<line x1="454.50" y1="470.40" x2="454.50" y2="471.60" stroke="#333" stroke-width="0.5" />
<line x1="465.98" y1="470.40" x2="465.98" y2="471.60" stroke="#333" stroke-width="0.5" />
<line x1="477.45" y1="470.40" x2="477.45" y2="471.60" stroke="#333" stroke-width="0.5" />
<line x1="488.92" y1="470.40" x2="488.92" y2="471.60" stroke="#333" stroke-width="0.5" />
<line x1="500.40" y1="470.40" x2="500.40" y2="471.60" stroke="#333" stroke-width="0.5" />
<line x1="380.50" y1="472.50" x2="380.50" y2="368.80" stroke="#1a1a1a" stroke-width="1.1" />
<path d="M378.80 369.80 L380.60 365.80 L382.40 369.80 Z" fill="#111"/>
<line x1="384.20" y1="475.50" x2="432.80" y2="475.50" stroke="#1a1a1a" stroke-width="1.1" />
<path d="M431.80 474.00 L435.80 475.80 L431.80 477.60 Z" fill="#111"/>
<line x1="447.50" y1="472.50" x2="447.50" y2="368.80" stroke="#1a1a1a" stroke-width="1.1" />
<path d="M446.00 369.80 L447.80 365.80 L449.60 369.80 Z" fill="#111"/>
<line x1="451.00" y1="476.50" x2="499.80" y2="476.50" stroke="#1a1a1a" stroke-width="1.1" />
<path d="M498.80 474.40 L502.80 476.20 L498.80 478.00 Z" fill="#111"/>
<text x="403.50" y="487.90" font-size="9.6" fill="#111" stroke="#111" stroke-width="0.3" textLength="14.50" lengthAdjust="spacingAndGlyphs">CD34</text>
<text x="470.20" y="487.70" font-size="9.6" fill="#111" stroke="#111" stroke-width="0.3" textLength="12.80" lengthAdjust="spacingAndGlyphs">Sca1</text>
<text x="0" y="0" font-size="10.0" text-anchor="middle" fill="#111" stroke="#111" stroke-width="0.35" textLength="9.20" lengthAdjust="spacingAndGlyphs" transform="translate(372.00 392.50) rotate(-90)" dy="0.35em">WT</text>
<text x="0" y="0" font-size="10.0" text-anchor="middle" fill="#111" stroke="#111" stroke-width="0.35" transform="translate(371.80 448.20) rotate(-90)" dy="0.35em" textLength="26.4" lengthAdjust="spacingAndGlyphs">MC5R<tspan font-size="6.0" dy="-4.0" stroke-width="0.15">−/−</tspan></text>
<text x="0" y="0" font-size="8.2" text-anchor="middle" fill="#111" textLength="29.50" lengthAdjust="spacingAndGlyphs" transform="translate(376.50 415.70) rotate(-90)" dy="0.35em">CD16/32</text>
<text x="0" y="0" font-size="9.2" text-anchor="middle" fill="#111" stroke="#111" stroke-width="0.35" textLength="13.80" lengthAdjust="spacingAndGlyphs" transform="translate(442.80 416.80) rotate(-90)" dy="0.35em">c-Kit</text>
<text x="7.30" y="504.40" font-size="11" text-anchor="start" font-weight="bold" fill="#000" >J</text>
<line x1="40.50" y1="529.50" x2="40.50" y2="614.80" stroke="#1a1a1a" stroke-width="1.0" />
<line x1="37.50" y1="531.50" x2="40.30" y2="531.50" stroke="#1a1a1a" stroke-width="0.9" />
<text x="35.00" y="534.89" font-size="8.3" text-anchor="end" fill="#333" >4</text>
<line x1="37.50" y1="552.50" x2="40.30" y2="552.50" stroke="#1a1a1a" stroke-width="0.9" />
<text x="35.00" y="555.89" font-size="8.3" text-anchor="end" fill="#333" >3</text>
<line x1="37.50" y1="573.50" x2="40.30" y2="573.50" stroke="#1a1a1a" stroke-width="0.9" />
<text x="35.00" y="576.69" font-size="8.3" text-anchor="end" fill="#333" >2</text>
<line x1="37.50" y1="594.50" x2="40.30" y2="594.50" stroke="#1a1a1a" stroke-width="0.9" />
<text x="35.00" y="597.29" font-size="8.3" text-anchor="end" fill="#333" >1</text>
<line x1="37.50" y1="614.50" x2="40.30" y2="614.50" stroke="#1a1a1a" stroke-width="0.9" />
<text x="35.00" y="617.79" font-size="8.3" text-anchor="end" fill="#333" >0</text>
<line x1="39.80" y1="614.50" x2="167.40" y2="614.50" stroke="#1a1a1a" stroke-width="1.0" />
<rect x="45.20" y="564.00" width="8.60" height="50.80" fill="#c8082e" />
<rect x="58.00" y="567.00" width="9.00" height="47.80" fill="#13508c" />
<rect x="76.50" y="567.90" width="8.50" height="46.90" fill="#c8082e" />
<rect x="90.00" y="569.40" width="9.00" height="45.40" fill="#13508c" />
<rect x="108.00" y="555.60" width="9.20" height="59.20" fill="#c8082e" />
<rect x="121.50" y="559.10" width="9.00" height="55.70" fill="#13508c" />
<rect x="139.70" y="604.00" width="9.20" height="10.80" fill="#c8082e" />
<rect x="153.00" y="604.40" width="9.20" height="10.40" fill="#13508c" />
<circle cx="52.23" cy="566.85" r="1.25" fill="none" stroke="rgba(0,0,0,0.45)" stroke-width="0.55"/>
<circle cx="51.32" cy="569.54" r="1.25" fill="none" stroke="rgba(0,0,0,0.45)" stroke-width="0.55"/>
<circle cx="52.56" cy="569.65" r="1.25" fill="none" stroke="rgba(0,0,0,0.45)" stroke-width="0.55"/>
<circle cx="49.07" cy="566.09" r="1.25" fill="none" stroke="rgba(0,0,0,0.45)" stroke-width="0.55"/>
<line x1="49.50" y1="564.00" x2="49.50" y2="562.50" stroke="#1a1a1a" stroke-width="0.7" />
<line x1="48.30" y1="562.50" x2="50.70" y2="562.50" stroke="#1a1a1a" stroke-width="0.7" />
<circle cx="47.50" cy="562.00" r="1.25" fill="none" stroke="#1a1a1a" stroke-width="0.55"/>
<circle cx="50.50" cy="561.00" r="1.25" fill="none" stroke="#1a1a1a" stroke-width="0.55"/>
<circle cx="51.50" cy="565.00" r="1.25" fill="none" stroke="#1a1a1a" stroke-width="0.55"/>
<path d="M61.30 570.91 L62.60 568.61 L63.90 570.91 Z" fill="none" stroke="rgba(0,0,0,0.45)" stroke-width="0.55"/>
<path d="M64.10 574.26 L65.40 571.96 L66.70 574.26 Z" fill="none" stroke="rgba(0,0,0,0.45)" stroke-width="0.55"/>
<path d="M61.77 576.55 L63.07 574.25 L64.37 576.55 Z" fill="none" stroke="rgba(0,0,0,0.45)" stroke-width="0.55"/>
<path d="M58.58 575.45 L59.88 573.15 L61.18 575.45 Z" fill="none" stroke="rgba(0,0,0,0.45)" stroke-width="0.55"/>
<line x1="62.50" y1="567.00" x2="62.50" y2="564.00" stroke="#1a1a1a" stroke-width="0.7" />
<line x1="61.30" y1="564.00" x2="63.70" y2="564.00" stroke="#1a1a1a" stroke-width="0.7" />
<path d="M59.20 565.00 L60.50 562.70 L61.80 565.00 Z" fill="none" stroke="#1a1a1a" stroke-width="0.55"/>
<path d="M61.20 565.00 L62.50 562.70 L63.80 565.00 Z" fill="none" stroke="#1a1a1a" stroke-width="0.55"/>
<path d="M63.20 565.00 L64.50 562.70 L65.80 565.00 Z" fill="none" stroke="#1a1a1a" stroke-width="0.55"/>
<path d="M61.20 570.00 L62.50 567.70 L63.80 570.00 Z" fill="none" stroke="#1a1a1a" stroke-width="0.55"/>
<circle cx="78.06" cy="573.78" r="1.25" fill="none" stroke="rgba(0,0,0,0.45)" stroke-width="0.55"/>
<circle cx="80.05" cy="576.26" r="1.25" fill="none" stroke="rgba(0,0,0,0.45)" stroke-width="0.55"/>
<circle cx="81.43" cy="573.32" r="1.25" fill="none" stroke="rgba(0,0,0,0.45)" stroke-width="0.55"/>
<circle cx="83.50" cy="571.54" r="1.25" fill="none" stroke="rgba(0,0,0,0.45)" stroke-width="0.55"/>
<line x1="80.70" y1="567.90" x2="80.70" y2="562.90" stroke="#1a1a1a" stroke-width="0.7" />
<line x1="79.50" y1="562.90" x2="81.90" y2="562.90" stroke="#1a1a1a" stroke-width="0.7" />
<circle cx="80.70" cy="560.90" r="1.25" fill="none" stroke="#1a1a1a" stroke-width="0.55"/>
<circle cx="78.70" cy="562.90" r="1.25" fill="none" stroke="#1a1a1a" stroke-width="0.55"/>
<circle cx="82.70" cy="562.90" r="1.25" fill="none" stroke="#1a1a1a" stroke-width="0.55"/>
<path d="M93.26 576.38 L94.56 574.08 L95.86 576.38 Z" fill="none" stroke="rgba(0,0,0,0.45)" stroke-width="0.55"/>
<path d="M91.93 578.88 L93.23 576.58 L94.53 578.88 Z" fill="none" stroke="rgba(0,0,0,0.45)" stroke-width="0.55"/>
<path d="M94.67 577.61 L95.97 575.31 L97.27 577.61 Z" fill="none" stroke="rgba(0,0,0,0.45)" stroke-width="0.55"/>
<path d="M92.93 578.17 L94.23 575.87 L95.53 578.17 Z" fill="none" stroke="rgba(0,0,0,0.45)" stroke-width="0.55"/>
<line x1="94.50" y1="569.40" x2="94.50" y2="565.90" stroke="#1a1a1a" stroke-width="0.7" />
<line x1="93.30" y1="565.90" x2="95.70" y2="565.90" stroke="#1a1a1a" stroke-width="0.7" />
<path d="M91.20 566.40 L92.50 564.10 L93.80 566.40 Z" fill="none" stroke="#1a1a1a" stroke-width="0.55"/>
<path d="M93.20 566.40 L94.50 564.10 L95.80 566.40 Z" fill="none" stroke="#1a1a1a" stroke-width="0.55"/>
<path d="M95.20 566.40 L96.50 564.10 L97.80 566.40 Z" fill="none" stroke="#1a1a1a" stroke-width="0.55"/>
<circle cx="109.74" cy="557.75" r="1.25" fill="none" stroke="rgba(0,0,0,0.45)" stroke-width="0.55"/>
<circle cx="112.01" cy="557.91" r="1.25" fill="none" stroke="rgba(0,0,0,0.45)" stroke-width="0.55"/>
<circle cx="115.17" cy="557.39" r="1.25" fill="none" stroke="rgba(0,0,0,0.45)" stroke-width="0.55"/>
<circle cx="112.83" cy="559.59" r="1.25" fill="none" stroke="rgba(0,0,0,0.45)" stroke-width="0.55"/>
<line x1="112.60" y1="555.60" x2="112.60" y2="551.10" stroke="#1a1a1a" stroke-width="0.7" />
<line x1="111.40" y1="551.10" x2="113.80" y2="551.10" stroke="#1a1a1a" stroke-width="0.7" />
<circle cx="111.10" cy="547.60" r="1.25" fill="none" stroke="#1a1a1a" stroke-width="0.55"/>
<circle cx="114.10" cy="547.60" r="1.25" fill="none" stroke="#1a1a1a" stroke-width="0.55"/>
<path d="M127.65 565.71 L128.95 563.41 L130.25 565.71 Z" fill="none" stroke="rgba(0,0,0,0.45)" stroke-width="0.55"/>
<path d="M122.63 568.84 L123.93 566.54 L125.23 568.84 Z" fill="none" stroke="rgba(0,0,0,0.45)" stroke-width="0.55"/>
<path d="M124.16 567.51 L125.46 565.21 L126.76 567.51 Z" fill="none" stroke="rgba(0,0,0,0.45)" stroke-width="0.55"/>
<path d="M121.70 562.84 L123.00 560.54 L124.30 562.84 Z" fill="none" stroke="rgba(0,0,0,0.45)" stroke-width="0.55"/>
<line x1="126.00" y1="559.10" x2="126.00" y2="553.60" stroke="#1a1a1a" stroke-width="0.7" />
<line x1="124.80" y1="553.60" x2="127.20" y2="553.60" stroke="#1a1a1a" stroke-width="0.7" />
<path d="M122.70 554.10 L124.00 551.80 L125.30 554.10 Z" fill="none" stroke="#1a1a1a" stroke-width="0.55"/>
<path d="M124.70 552.10 L126.00 549.80 L127.30 552.10 Z" fill="none" stroke="#1a1a1a" stroke-width="0.55"/>
<path d="M126.70 551.10 L128.00 548.80 L129.30 551.10 Z" fill="none" stroke="#1a1a1a" stroke-width="0.55"/>
<circle cx="146.86" cy="607.17" r="1.25" fill="none" stroke="rgba(0,0,0,0.45)" stroke-width="0.55"/>
<circle cx="146.27" cy="607.76" r="1.25" fill="none" stroke="rgba(0,0,0,0.45)" stroke-width="0.55"/>
<circle cx="145.82" cy="608.13" r="1.25" fill="none" stroke="rgba(0,0,0,0.45)" stroke-width="0.55"/>
<circle cx="144.99" cy="610.11" r="1.25" fill="none" stroke="rgba(0,0,0,0.45)" stroke-width="0.55"/>
<line x1="144.30" y1="604.00" x2="144.30" y2="602.50" stroke="#1a1a1a" stroke-width="0.7" />
<line x1="143.10" y1="602.50" x2="145.50" y2="602.50" stroke="#1a1a1a" stroke-width="0.7" />
<circle cx="142.30" cy="603.00" r="1.25" fill="none" stroke="#1a1a1a" stroke-width="0.55"/>
<circle cx="145.30" cy="602.00" r="1.25" fill="none" stroke="#1a1a1a" stroke-width="0.55"/>
<circle cx="147.30" cy="601.00" r="1.25" fill="none" stroke="#1a1a1a" stroke-width="0.55"/>
<path d="M156.76 611.24 L158.06 608.94 L159.36 611.24 Z" fill="none" stroke="rgba(0,0,0,0.45)" stroke-width="0.55"/>
<path d="M156.02 611.74 L157.32 609.44 L158.62 611.74 Z" fill="none" stroke="rgba(0,0,0,0.45)" stroke-width="0.55"/>
<path d="M156.12 610.45 L157.42 608.15 L158.72 610.45 Z" fill="none" stroke="rgba(0,0,0,0.45)" stroke-width="0.55"/>
<path d="M154.11 607.90 L155.41 605.60 L156.71 607.90 Z" fill="none" stroke="rgba(0,0,0,0.45)" stroke-width="0.55"/>
<line x1="157.60" y1="604.40" x2="157.60" y2="602.90" stroke="#1a1a1a" stroke-width="0.7" />
<line x1="156.40" y1="602.90" x2="158.80" y2="602.90" stroke="#1a1a1a" stroke-width="0.7" />
<path d="M154.30 604.40 L155.60 602.10 L156.90 604.40 Z" fill="none" stroke="#1a1a1a" stroke-width="0.55"/>
<path d="M157.30 602.40 L158.60 600.10 L159.90 602.40 Z" fill="none" stroke="#1a1a1a" stroke-width="0.55"/>
<line x1="56.50" y1="614.80" x2="56.50" y2="616.80" stroke="#1a1a1a" stroke-width="0.8" />
<line x1="88.50" y1="614.80" x2="88.50" y2="616.80" stroke="#1a1a1a" stroke-width="0.8" />
<line x1="119.50" y1="614.80" x2="119.50" y2="616.80" stroke="#1a1a1a" stroke-width="0.8" />
<line x1="151.50" y1="614.80" x2="151.50" y2="616.80" stroke="#1a1a1a" stroke-width="0.8" />
<text x="46.40" y="628.60" font-size="9.4" text-anchor="start" textLength="19.60" lengthAdjust="spacingAndGlyphs" >GMP</text>
<text x="78.00" y="628.60" font-size="9.4" text-anchor="start" textLength="19.00" lengthAdjust="spacingAndGlyphs" >CMP</text>
<text x="110.30" y="628.60" font-size="9.4" text-anchor="start" textLength="18.00" lengthAdjust="spacingAndGlyphs" >MEP</text>
<text x="143.00" y="628.60" font-size="9.4" text-anchor="start" textLength="16.40" lengthAdjust="spacingAndGlyphs" >CLP</text>
<rect x="45.20" y="532.70" width="4.60" height="4.60" fill="#c8082e" />
<text x="52.50" y="537.10" font-size="9.2" text-anchor="start" fill="#222" >WT</text>
<rect x="45.20" y="539.50" width="4.60" height="4.60" fill="#13508c" />
<text x="52.50" y="543.90" font-size="9.2" text-anchor="start" fill="#222" >MC5R<tspan font-size="5.5" dy="-3.6">−/−</tspan></text>
<text x="0" y="0" font-size="9.0" text-anchor="middle" fill="#111" stroke="#111" stroke-width="0.35" textLength="86.50" lengthAdjust="spacingAndGlyphs" transform="translate(20.20 572.20) rotate(-90)" dy="0.35em">Cell number in BM (×10 ^ 5)</text>
<text x="183.80" y="504.70" font-size="11" text-anchor="start" font-weight="bold" fill="#000" >K</text>
<text x="270.20" y="519.60" font-size="10.4" text-anchor="start" fill="#222" textLength="14.60" lengthAdjust="spacingAndGlyphs" >BM</text>
<rect x="216.40" y="523.10" width="51.90" height="52.40" fill="#fff" stroke="#bdbdbd" stroke-width="0.7"/>
<path fill="#6d8fd8" opacity="0.75" d="M222.9 543.6h0.8v0.8h-0.8zM224.4 553.5h1.0v1.0h-1.0zM220.7 553.4h1.2v1.2h-1.2zM221.9 555.4h1.2v1.2h-1.2zM227.2 547.5h1.0v1.0h-1.0zM223.7 550.2h0.7v0.7h-0.7zM221.6 548.3h1.1v1.1h-1.1zM223.7 555.3h0.8v0.8h-0.8zM226.4 549.1h0.8v0.8h-0.8zM223.7 547.8h1.2v1.2h-1.2zM224.3 548.0h0.7v0.7h-0.7z"/>
<path fill="#8aa6e2" opacity="0.75" d="M224.9 546.5h0.7v0.7h-0.7zM223.9 546.2h1.0v1.0h-1.0zM227.0 553.9h1.2v1.2h-1.2zM225.9 552.6h0.7v0.7h-0.7zM225.4 550.6h1.0v1.0h-1.0zM222.8 543.1h1.1v1.1h-1.1zM225.2 548.2h0.9v0.9h-0.9zM229.0 549.9h1.1v1.1h-1.1zM227.2 548.5h1.0v1.0h-1.0z"/>
<path fill="#5b7fd0" opacity="0.75" d="M227.6 550.1h0.9v0.9h-0.9zM225.5 552.6h0.9v0.9h-0.9zM225.2 552.4h0.7v0.7h-0.7zM225.9 547.0h1.1v1.1h-1.1zM225.4 548.6h1.0v1.0h-1.0zM220.7 543.4h1.0v1.0h-1.0zM225.8 546.3h0.7v0.7h-0.7zM226.2 551.4h1.0v1.0h-1.0zM223.3 544.4h1.2v1.2h-1.2z"/>
<path fill="#a9bdeb" opacity="0.75" d="M222.1 548.9h1.3v1.3h-1.3zM221.8 548.3h0.8v0.8h-0.8zM222.7 544.1h0.9v0.9h-0.9zM225.8 544.1h1.1v1.1h-1.1zM225.3 547.6h1.1v1.1h-1.1zM225.5 555.4h0.7v0.7h-0.7zM226.6 551.7h0.7v0.7h-0.7zM224.9 545.5h1.0v1.0h-1.0zM218.7 547.0h1.2v1.2h-1.2zM223.1 554.5h0.8v0.8h-0.8zM223.0 550.4h1.3v1.3h-1.3zM226.2 544.1h1.1v1.1h-1.1zM222.2 554.8h1.1v1.1h-1.1z"/>
<path fill="#7f9be0" opacity="0.75" d="M220.7 549.7h0.8v0.8h-0.8zM221.7 544.0h0.9v0.9h-0.9zM228.5 547.6h1.3v1.3h-1.3zM225.9 547.4h0.9v0.9h-0.9zM224.3 545.6h1.1v1.1h-1.1zM226.1 555.7h1.2v1.2h-1.2zM225.0 548.1h0.8v0.8h-0.8zM220.7 551.2h1.0v1.0h-1.0zM220.9 550.0h0.8v0.8h-0.8z"/>
<path fill="#c3cff0" opacity="0.75" d="M224.2 549.0h1.2v1.2h-1.2zM231.1 547.4h1.2v1.2h-1.2zM226.5 547.2h0.7v0.7h-0.7zM225.0 546.0h0.9v0.9h-0.9zM222.9 539.0h0.7v0.7h-0.7zM225.3 547.6h1.0v1.0h-1.0zM225.7 540.1h0.9v0.9h-0.9zM220.4 539.1h1.2v1.2h-1.2zM225.4 547.1h1.2v1.2h-1.2z"/>
<path fill="#6d8fd8" opacity="0.75" d="M221.1 556.5h0.8v0.8h-0.8zM228.8 560.4h1.0v1.0h-1.0zM220.2 560.6h1.1v1.1h-1.1zM229.4 559.6h0.9v0.9h-0.9zM221.4 571.4h0.8v0.8h-0.8zM218.8 554.8h0.9v0.9h-0.9zM226.1 571.4h1.0v1.0h-1.0zM221.0 562.7h1.2v1.2h-1.2zM224.4 554.7h1.0v1.0h-1.0zM226.5 565.5h0.8v0.8h-0.8zM222.1 568.9h0.8v0.8h-0.8z"/>
<path fill="#8aa6e2" opacity="0.75" d="M218.0 565.8h1.1v1.1h-1.1zM226.6 563.8h1.0v1.0h-1.0zM226.6 559.8h1.0v1.0h-1.0zM223.5 563.4h1.0v1.0h-1.0zM227.9 572.6h1.0v1.0h-1.0zM222.7 565.5h0.9v0.9h-0.9zM222.5 566.6h1.1v1.1h-1.1zM223.9 567.9h1.0v1.0h-1.0zM224.5 570.1h1.2v1.2h-1.2zM227.0 569.6h1.2v1.2h-1.2zM221.1 567.9h1.2v1.2h-1.2zM225.7 554.8h0.9v0.9h-0.9zM224.3 552.4h0.7v0.7h-0.7zM225.9 566.6h1.0v1.0h-1.0zM221.8 565.4h0.9v0.9h-0.9zM230.3 562.1h1.1v1.1h-1.1z"/>
<path fill="#5b7fd0" opacity="0.75" d="M225.2 562.8h1.1v1.1h-1.1zM236.6 561.8h1.1v1.1h-1.1zM232.9 561.0h0.9v0.9h-0.9zM225.7 571.3h1.3v1.3h-1.3zM229.8 564.5h0.7v0.7h-0.7zM226.5 568.1h1.2v1.2h-1.2zM223.6 561.3h0.9v0.9h-0.9zM223.0 566.2h0.9v0.9h-0.9zM221.9 558.7h0.7v0.7h-0.7zM222.5 560.6h0.8v0.8h-0.8zM227.1 566.6h1.3v1.3h-1.3zM222.0 564.3h1.2v1.2h-1.2zM222.2 569.9h0.9v0.9h-0.9zM224.5 566.1h1.2v1.2h-1.2zM226.6 555.4h0.8v0.8h-0.8zM226.3 560.3h1.1v1.1h-1.1zM228.2 553.9h1.3v1.3h-1.3zM223.6 564.3h1.2v1.2h-1.2zM230.2 556.2h0.7v0.7h-0.7zM227.1 565.0h1.2v1.2h-1.2zM223.3 566.0h1.3v1.3h-1.3zM224.7 559.4h1.0v1.0h-1.0zM225.9 559.9h1.1v1.1h-1.1zM237.2 560.3h1.2v1.2h-1.2zM220.7 566.4h0.9v0.9h-0.9zM222.1 559.9h0.9v0.9h-0.9zM220.6 562.3h0.9v0.9h-0.9zM227.2 569.5h0.8v0.8h-0.8zM225.2 567.7h1.1v1.1h-1.1z"/>
<path fill="#a9bdeb" opacity="0.75" d="M224.5 564.9h1.1v1.1h-1.1zM227.3 557.9h0.8v0.8h-0.8zM220.7 567.6h1.1v1.1h-1.1zM217.6 560.8h0.8v0.8h-0.8zM221.8 569.3h1.1v1.1h-1.1zM220.2 573.3h1.1v1.1h-1.1zM228.1 561.2h0.8v0.8h-0.8zM234.6 558.4h1.2v1.2h-1.2zM231.1 559.5h1.2v1.2h-1.2zM223.5 573.4h1.1v1.1h-1.1zM222.3 560.8h1.2v1.2h-1.2zM226.8 564.7h0.9v0.9h-0.9zM221.2 560.4h1.1v1.1h-1.1zM220.4 553.0h1.1v1.1h-1.1zM217.6 559.9h1.1v1.1h-1.1zM224.2 563.9h0.8v0.8h-0.8zM222.1 568.7h1.2v1.2h-1.2zM223.3 568.9h1.1v1.1h-1.1z"/>
<path fill="#7f9be0" opacity="0.75" d="M218.1 565.4h1.0v1.0h-1.0zM221.7 568.0h0.8v0.8h-0.8zM227.0 567.0h0.9v0.9h-0.9zM223.9 563.3h0.8v0.8h-0.8zM223.8 569.9h1.0v1.0h-1.0zM224.9 564.7h0.7v0.7h-0.7zM218.7 568.9h1.2v1.2h-1.2zM221.4 558.1h1.3v1.3h-1.3zM219.2 568.4h0.9v0.9h-0.9zM218.4 559.1h0.9v0.9h-0.9zM222.3 558.9h1.0v1.0h-1.0zM219.3 573.4h1.1v1.1h-1.1zM222.4 567.4h0.9v0.9h-0.9zM220.2 564.8h0.8v0.8h-0.8zM232.8 558.4h1.3v1.3h-1.3z"/>
<path fill="#c3cff0" opacity="0.75" d="M229.0 568.4h0.8v0.8h-0.8zM219.0 566.0h0.8v0.8h-0.8zM225.2 570.7h1.0v1.0h-1.0zM220.4 570.6h1.0v1.0h-1.0zM223.0 564.9h1.0v1.0h-1.0zM220.9 562.4h0.9v0.9h-0.9zM222.8 562.8h1.0v1.0h-1.0zM223.8 560.4h0.8v0.8h-0.8zM227.1 569.4h1.1v1.1h-1.1zM223.5 566.9h1.1v1.1h-1.1zM223.0 564.4h1.2v1.2h-1.2zM227.2 564.8h0.8v0.8h-0.8zM229.9 554.7h0.7v0.7h-0.7zM222.0 558.2h1.3v1.3h-1.3zM222.7 565.7h1.1v1.1h-1.1zM228.4 565.8h1.0v1.0h-1.0zM226.8 569.3h0.9v0.9h-0.9zM224.8 567.9h1.1v1.1h-1.1zM220.6 568.1h0.9v0.9h-0.9zM226.9 562.7h1.1v1.1h-1.1zM217.9 565.3h1.1v1.1h-1.1z"/>
<path fill="#6d8fd8" opacity="0.75" d="M238.5 565.2h1.3v1.3h-1.3zM245.0 566.3h0.9v0.9h-0.9zM244.8 565.6h0.8v0.8h-0.8zM217.5 567.2h0.9v0.9h-0.9zM236.2 567.4h0.8v0.8h-0.8zM233.4 564.0h0.9v0.9h-0.9zM246.3 565.8h0.8v0.8h-0.8zM243.7 564.7h0.8v0.8h-0.8zM233.2 560.4h0.7v0.7h-0.7zM246.3 568.4h0.8v0.8h-0.8zM243.4 564.3h1.3v1.3h-1.3zM240.0 564.6h0.9v0.9h-0.9z"/>
<path fill="#8aa6e2" opacity="0.75" d="M237.4 568.4h1.1v1.1h-1.1zM237.6 563.9h1.0v1.0h-1.0zM237.1 564.9h0.9v0.9h-0.9zM235.1 565.8h1.0v1.0h-1.0zM224.6 563.3h1.1v1.1h-1.1zM245.4 565.1h1.2v1.2h-1.2zM237.1 563.1h0.9v0.9h-0.9zM240.1 562.4h1.2v1.2h-1.2zM240.1 563.1h1.1v1.1h-1.1zM237.6 563.4h1.1v1.1h-1.1zM237.5 568.0h0.9v0.9h-0.9zM237.5 565.0h1.2v1.2h-1.2zM231.5 569.3h1.0v1.0h-1.0zM236.9 569.2h0.7v0.7h-0.7zM238.4 563.0h0.9v0.9h-0.9zM243.3 565.4h0.9v0.9h-0.9zM254.6 563.6h0.9v0.9h-0.9zM240.3 567.1h1.0v1.0h-1.0zM237.2 562.8h1.2v1.2h-1.2zM251.9 562.5h1.2v1.2h-1.2zM247.2 567.0h0.8v0.8h-0.8zM244.1 564.5h1.1v1.1h-1.1zM242.3 570.0h0.9v0.9h-0.9z"/>
<path fill="#5b7fd0" opacity="0.75" d="M248.7 567.1h1.2v1.2h-1.2zM243.3 561.9h1.3v1.3h-1.3zM233.8 566.8h0.9v0.9h-0.9zM237.7 568.7h1.1v1.1h-1.1zM230.1 564.8h1.1v1.1h-1.1zM247.9 567.8h0.8v0.8h-0.8zM242.7 567.1h0.9v0.9h-0.9zM229.6 571.9h1.0v1.0h-1.0zM249.8 564.9h1.0v1.0h-1.0zM239.4 566.0h1.1v1.1h-1.1zM228.9 565.0h1.2v1.2h-1.2zM238.8 567.7h0.7v0.7h-0.7zM237.9 564.6h1.0v1.0h-1.0z"/>
<path fill="#a9bdeb" opacity="0.75" d="M231.2 564.2h0.9v0.9h-0.9zM247.1 566.5h1.3v1.3h-1.3zM231.8 563.8h1.1v1.1h-1.1zM233.1 566.9h1.2v1.2h-1.2zM229.8 560.6h1.0v1.0h-1.0zM243.2 567.5h1.3v1.3h-1.3zM232.5 562.6h1.0v1.0h-1.0zM235.3 563.1h0.7v0.7h-0.7z"/>
<path fill="#7f9be0" opacity="0.75" d="M234.8 566.4h1.2v1.2h-1.2zM231.4 562.6h0.9v0.9h-0.9zM244.1 559.0h1.1v1.1h-1.1zM233.9 565.6h0.8v0.8h-0.8zM229.1 563.0h0.8v0.8h-0.8zM248.5 566.0h0.7v0.7h-0.7zM247.1 566.4h1.0v1.0h-1.0zM244.3 565.2h1.0v1.0h-1.0zM240.4 567.2h0.7v0.7h-0.7zM240.8 564.4h0.8v0.8h-0.8zM241.8 564.5h0.7v0.7h-0.7zM240.3 566.1h0.9v0.9h-0.9zM253.0 566.0h1.0v1.0h-1.0zM228.5 565.4h0.8v0.8h-0.8zM233.3 561.9h1.1v1.1h-1.1zM236.0 564.7h1.1v1.1h-1.1zM228.6 567.8h1.0v1.0h-1.0zM235.4 565.0h1.2v1.2h-1.2zM245.6 564.9h0.9v0.9h-0.9zM241.8 566.6h0.9v0.9h-0.9z"/>
<path fill="#c3cff0" opacity="0.75" d="M232.0 562.4h1.2v1.2h-1.2zM237.9 564.6h0.8v0.8h-0.8zM222.2 560.9h1.0v1.0h-1.0zM246.0 568.2h1.2v1.2h-1.2zM247.5 562.5h0.8v0.8h-0.8zM230.2 567.6h0.8v0.8h-0.8zM231.7 559.6h1.2v1.2h-1.2zM225.2 567.7h1.0v1.0h-1.0zM250.1 562.4h1.2v1.2h-1.2zM235.0 560.8h1.3v1.3h-1.3zM229.3 566.5h1.2v1.2h-1.2zM251.2 567.4h1.0v1.0h-1.0zM240.5 563.8h1.1v1.1h-1.1zM237.4 564.6h1.0v1.0h-1.0z"/>
<path fill="#c3cff0" opacity="0.75" d="M254.5 565.9h1.1v1.1h-1.1zM237.6 557.3h0.8v0.8h-0.8zM245.7 562.3h1.1v1.1h-1.1zM234.4 557.8h0.8v0.8h-0.8zM259.2 569.3h1.2v1.2h-1.2zM247.8 571.2h0.9v0.9h-0.9zM256.7 565.9h0.8v0.8h-0.8zM256.5 568.7h0.7v0.7h-0.7zM245.7 565.9h1.0v1.0h-1.0zM243.1 561.8h1.2v1.2h-1.2z"/>
<path fill="#d5def5" opacity="0.75" d="M238.5 562.8h1.2v1.2h-1.2zM246.6 558.6h0.8v0.8h-0.8zM241.9 560.8h1.1v1.1h-1.1zM251.2 567.3h0.8v0.8h-0.8zM251.5 561.8h1.2v1.2h-1.2zM245.8 555.3h1.1v1.1h-1.1zM245.9 563.6h1.3v1.3h-1.3zM249.4 565.4h0.9v0.9h-0.9zM237.3 563.7h0.8v0.8h-0.8zM240.0 564.5h1.1v1.1h-1.1zM233.8 564.5h0.9v0.9h-0.9zM256.9 562.1h0.9v0.9h-0.9zM237.5 560.8h1.2v1.2h-1.2zM249.6 557.1h0.9v0.9h-0.9zM255.9 562.5h1.0v1.0h-1.0zM244.6 558.5h0.9v0.9h-0.9z"/>
<path fill="#a9bdeb" opacity="0.75" d="M245.3 564.9h1.1v1.1h-1.1zM242.6 564.1h1.2v1.2h-1.2zM228.4 569.8h1.0v1.0h-1.0zM254.3 565.1h1.2v1.2h-1.2zM241.3 562.1h1.2v1.2h-1.2zM242.4 555.0h1.0v1.0h-1.0zM249.6 562.2h1.1v1.1h-1.1zM245.5 565.3h0.8v0.8h-0.8zM251.9 562.0h1.3v1.3h-1.3zM248.8 568.4h0.9v0.9h-0.9zM246.5 556.3h1.0v1.0h-1.0zM245.3 552.3h0.8v0.8h-0.8zM234.4 558.6h0.9v0.9h-0.9zM252.3 567.0h0.8v0.8h-0.8z"/>
<ellipse cx="223.50" cy="547.10" rx="1.5" ry="4.0" fill="#2452a8" opacity="1.0" filter="url(#bl1)"/>
<ellipse cx="224.20" cy="564.10" rx="4.6" ry="6.6" fill="#2350aa" opacity="1.0" filter="url(#bl1)"/>
<ellipse cx="224.20" cy="564.10" rx="3.4" ry="5.0" fill="#3a9cc8" opacity="1.0" filter="url(#bl1)"/>
<ellipse cx="224.00" cy="564.60" rx="2.2" ry="3.0" fill="#76c43e" opacity="1.0" filter="url(#bl1)"/>
<ellipse cx="223.80" cy="564.90" rx="0.9" ry="1.2" fill="#e6dc3a" opacity="1.0" filter="url(#bl1)"/>
<ellipse cx="237.00" cy="565.30" rx="4.5" ry="1.0" fill="#5f88d4" opacity="0.9" filter="url(#bl1)"/>
<ellipse cx="247.30" cy="565.60" rx="5.6" ry="3.4" fill="#2352ac" opacity="1.0" filter="url(#bl1)"/>
<ellipse cx="245.80" cy="565.30" rx="2.8" ry="2.0" fill="#48b0d2" opacity="1.0" filter="url(#bl1)"/>
<ellipse cx="250.50" cy="566.10" rx="1.6" ry="1.6" fill="#3a8cc8" opacity="1.0" filter="url(#bl1)"/>
<line x1="232.50" y1="523.10" x2="232.50" y2="575.50" stroke="#555" stroke-width="0.8" />
<line x1="216.40" y1="554.50" x2="268.30" y2="554.50" stroke="#555" stroke-width="0.8" />
<text x="224.30" y="530.30" font-size="4.9" text-anchor="middle" fill="#4a4a4a" >T cells</text>
<text x="224.30" y="535.00" font-size="4.9" text-anchor="middle" fill="#4a4a4a" >3.79</text>
<text x="259.80" y="563.30" font-size="4.9" text-anchor="middle" fill="#4a4a4a" >B cells</text>
<text x="259.80" y="568.00" font-size="4.9" text-anchor="middle" fill="#4a4a4a" >29.1</text>
<line x1="219.40" y1="574.30" x2="219.40" y2="575.50" stroke="#333" stroke-width="0.5" />
<line x1="230.88" y1="574.30" x2="230.88" y2="575.50" stroke="#333" stroke-width="0.5" />
<line x1="242.35" y1="574.30" x2="242.35" y2="575.50" stroke="#333" stroke-width="0.5" />
<line x1="253.83" y1="574.30" x2="253.83" y2="575.50" stroke="#333" stroke-width="0.5" />
<line x1="265.30" y1="574.30" x2="265.30" y2="575.50" stroke="#333" stroke-width="0.5" />
<rect x="216.40" y="578.80" width="51.90" height="52.40" fill="#fff" stroke="#bdbdbd" stroke-width="0.7"/>
<path fill="#6d8fd8" opacity="0.75" d="M226.4 600.3h1.3v1.3h-1.3zM225.3 606.4h1.2v1.2h-1.2zM223.4 596.0h1.2v1.2h-1.2zM222.7 601.1h1.2v1.2h-1.2zM222.9 602.0h1.2v1.2h-1.2z"/>
<path fill="#8aa6e2" opacity="0.75" d="M221.6 604.1h1.1v1.1h-1.1zM226.8 609.8h0.7v0.7h-0.7zM221.7 602.0h0.7v0.7h-0.7zM225.3 607.9h1.2v1.2h-1.2zM223.2 596.8h0.8v0.8h-0.8zM226.0 608.9h1.0v1.0h-1.0zM227.0 604.1h0.9v0.9h-0.9zM223.1 600.5h0.8v0.8h-0.8zM226.6 601.3h1.1v1.1h-1.1zM224.5 607.2h1.2v1.2h-1.2z"/>
<path fill="#5b7fd0" opacity="0.75" d="M227.3 603.4h1.3v1.3h-1.3zM226.1 605.7h0.8v0.8h-0.8zM227.4 602.5h0.9v0.9h-0.9zM225.8 600.7h0.9v0.9h-0.9zM225.8 608.2h0.7v0.7h-0.7zM225.0 608.0h1.3v1.3h-1.3zM228.5 600.9h0.8v0.8h-0.8zM221.6 600.9h1.3v1.3h-1.3zM225.1 598.8h0.9v0.9h-0.9zM225.3 598.0h0.8v0.8h-0.8zM223.3 604.9h0.9v0.9h-0.9zM224.7 603.1h0.9v0.9h-0.9zM223.5 607.0h0.9v0.9h-0.9z"/>
<path fill="#a9bdeb" opacity="0.75" d="M227.2 605.7h0.9v0.9h-0.9zM223.6 603.2h1.3v1.3h-1.3zM222.1 605.6h1.0v1.0h-1.0zM223.1 603.0h1.0v1.0h-1.0zM223.2 603.9h0.9v0.9h-0.9zM224.6 599.7h1.1v1.1h-1.1zM226.6 601.0h1.2v1.2h-1.2z"/>
<path fill="#7f9be0" opacity="0.75" d="M225.6 598.3h1.1v1.1h-1.1zM222.3 601.9h0.8v0.8h-0.8zM224.7 606.6h1.0v1.0h-1.0zM221.8 603.4h1.1v1.1h-1.1zM220.3 596.5h1.3v1.3h-1.3zM225.9 598.9h0.8v0.8h-0.8zM224.0 602.6h0.9v0.9h-0.9zM224.6 607.0h1.3v1.3h-1.3zM227.3 601.1h1.0v1.0h-1.0zM226.3 599.0h0.9v0.9h-0.9zM221.9 606.3h1.2v1.2h-1.2zM223.1 598.7h1.3v1.3h-1.3z"/>
<path fill="#c3cff0" opacity="0.75" d="M219.5 611.3h1.0v1.0h-1.0zM224.8 601.9h1.3v1.3h-1.3zM222.0 604.3h0.8v0.8h-0.8zM227.1 609.9h1.2v1.2h-1.2zM222.2 603.2h0.9v0.9h-0.9zM223.1 600.4h1.2v1.2h-1.2zM224.2 605.9h1.1v1.1h-1.1zM223.2 600.7h0.8v0.8h-0.8zM223.4 601.7h1.1v1.1h-1.1zM226.1 604.9h1.1v1.1h-1.1zM223.3 608.3h1.2v1.2h-1.2zM222.3 603.6h0.8v0.8h-0.8zM222.5 603.3h1.0v1.0h-1.0z"/>
<path fill="#6d8fd8" opacity="0.75" d="M228.8 618.9h1.1v1.1h-1.1zM224.8 620.5h1.3v1.3h-1.3zM228.9 621.5h0.8v0.8h-0.8zM225.3 624.5h0.9v0.9h-0.9zM228.2 619.3h0.8v0.8h-0.8zM221.4 609.6h0.7v0.7h-0.7zM222.6 611.1h0.7v0.7h-0.7zM219.2 621.0h0.8v0.8h-0.8zM228.0 618.5h1.3v1.3h-1.3zM225.8 619.2h0.9v0.9h-0.9zM223.7 623.5h1.3v1.3h-1.3zM222.1 622.6h0.8v0.8h-0.8z"/>
<path fill="#8aa6e2" opacity="0.75" d="M224.1 627.9h1.1v1.1h-1.1zM224.3 617.7h1.0v1.0h-1.0zM223.9 619.8h0.9v0.9h-0.9zM221.2 620.5h0.8v0.8h-0.8zM223.9 615.8h0.9v0.9h-0.9zM225.8 614.1h1.2v1.2h-1.2zM224.2 616.4h1.1v1.1h-1.1zM224.2 626.9h0.9v0.9h-0.9zM224.2 620.0h1.2v1.2h-1.2zM223.3 621.4h1.0v1.0h-1.0zM225.4 621.6h0.9v0.9h-0.9zM223.8 629.5h0.7v0.7h-0.7zM224.8 615.5h0.9v0.9h-0.9zM233.4 614.3h1.2v1.2h-1.2zM230.4 624.7h0.8v0.8h-0.8zM228.4 619.0h1.1v1.1h-1.1zM225.4 622.9h0.8v0.8h-0.8z"/>
<path fill="#5b7fd0" opacity="0.75" d="M231.4 624.8h1.2v1.2h-1.2zM227.9 613.0h1.3v1.3h-1.3zM217.7 623.3h1.0v1.0h-1.0zM222.8 618.0h0.9v0.9h-0.9zM218.8 627.3h0.7v0.7h-0.7zM227.5 624.9h0.9v0.9h-0.9zM222.8 626.1h1.0v1.0h-1.0zM225.3 621.7h1.0v1.0h-1.0zM224.6 621.3h0.8v0.8h-0.8zM223.9 620.2h1.0v1.0h-1.0zM225.0 626.2h0.7v0.7h-0.7zM224.4 619.2h1.0v1.0h-1.0zM225.7 621.1h0.8v0.8h-0.8zM227.8 624.6h1.0v1.0h-1.0z"/>
<path fill="#a9bdeb" opacity="0.75" d="M220.1 618.2h0.9v0.9h-0.9zM226.1 626.1h0.9v0.9h-0.9zM225.3 626.1h1.1v1.1h-1.1zM227.7 625.6h1.0v1.0h-1.0zM225.0 623.7h1.2v1.2h-1.2zM220.5 617.4h1.1v1.1h-1.1zM219.2 610.2h1.0v1.0h-1.0zM221.0 621.0h1.2v1.2h-1.2zM227.3 616.2h1.3v1.3h-1.3zM221.2 618.0h1.2v1.2h-1.2zM221.0 614.7h1.0v1.0h-1.0zM222.7 615.9h0.7v0.7h-0.7zM226.0 623.0h0.7v0.7h-0.7zM220.7 613.7h1.1v1.1h-1.1zM227.7 627.3h1.0v1.0h-1.0zM230.1 625.1h1.0v1.0h-1.0zM231.0 625.6h1.2v1.2h-1.2zM221.2 619.8h0.8v0.8h-0.8zM226.3 613.9h1.2v1.2h-1.2zM221.9 622.1h0.8v0.8h-0.8zM225.9 615.5h0.9v0.9h-0.9z"/>
<path fill="#7f9be0" opacity="0.75" d="M222.5 623.2h1.2v1.2h-1.2zM220.3 614.7h0.9v0.9h-0.9zM228.4 606.4h1.1v1.1h-1.1zM224.2 624.3h1.2v1.2h-1.2zM218.8 615.5h0.8v0.8h-0.8zM231.3 622.4h0.7v0.7h-0.7zM230.4 623.3h1.0v1.0h-1.0zM218.1 617.2h1.3v1.3h-1.3zM223.3 622.2h1.0v1.0h-1.0zM234.2 609.7h0.7v0.7h-0.7zM226.0 625.0h0.7v0.7h-0.7zM226.3 618.8h0.8v0.8h-0.8zM227.0 619.0h0.7v0.7h-0.7zM222.3 621.9h1.0v1.0h-1.0zM224.3 613.1h1.0v1.0h-1.0zM233.4 621.7h0.8v0.8h-0.8zM221.5 613.0h1.1v1.1h-1.1zM223.2 619.3h1.1v1.1h-1.1zM218.4 626.5h1.0v1.0h-1.0zM222.8 620.1h1.2v1.2h-1.2zM229.4 619.8h0.9v0.9h-0.9zM226.9 623.8h0.9v0.9h-0.9zM224.5 613.0h1.3v1.3h-1.3zM226.1 618.0h0.7v0.7h-0.7zM223.0 618.7h1.0v1.0h-1.0z"/>
<path fill="#c3cff0" opacity="0.75" d="M220.7 614.3h1.2v1.2h-1.2zM224.5 619.1h0.8v0.8h-0.8zM223.8 617.8h1.0v1.0h-1.0zM230.6 614.4h0.8v0.8h-0.8zM219.5 625.9h0.8v0.8h-0.8zM220.5 607.8h1.2v1.2h-1.2zM227.1 621.2h1.2v1.2h-1.2zM224.8 620.7h0.8v0.8h-0.8zM222.6 610.5h1.3v1.3h-1.3zM218.9 623.5h1.2v1.2h-1.2zM218.0 616.8h0.7v0.7h-0.7zM232.4 623.3h1.2v1.2h-1.2zM223.5 624.0h1.2v1.2h-1.2zM223.2 628.1h0.8v0.8h-0.8zM229.5 625.9h1.0v1.0h-1.0zM234.6 621.4h1.1v1.1h-1.1zM228.7 620.9h1.2v1.2h-1.2z"/>
<path fill="#6d8fd8" opacity="0.75" d="M229.6 619.1h0.8v0.8h-0.8zM237.7 621.3h1.1v1.1h-1.1zM226.4 619.4h0.8v0.8h-0.8zM251.2 624.4h1.2v1.2h-1.2zM248.7 622.9h0.8v0.8h-0.8zM248.5 624.1h0.7v0.7h-0.7zM220.6 621.9h0.9v0.9h-0.9zM238.1 624.1h1.1v1.1h-1.1zM226.1 619.6h1.1v1.1h-1.1zM239.6 614.8h1.3v1.3h-1.3zM237.6 625.2h0.8v0.8h-0.8zM223.5 622.0h0.7v0.7h-0.7zM232.1 621.1h0.7v0.7h-0.7zM238.5 620.3h1.0v1.0h-1.0zM240.2 622.1h1.2v1.2h-1.2zM234.5 621.0h1.2v1.2h-1.2zM244.4 618.7h0.8v0.8h-0.8z"/>
<path fill="#8aa6e2" opacity="0.75" d="M246.5 622.9h1.1v1.1h-1.1zM239.8 625.2h0.9v0.9h-0.9zM237.7 622.9h1.0v1.0h-1.0zM235.1 621.1h1.2v1.2h-1.2zM257.3 622.6h1.2v1.2h-1.2zM249.7 620.2h1.2v1.2h-1.2zM228.1 621.7h0.7v0.7h-0.7zM239.0 621.8h0.9v0.9h-0.9zM235.0 623.9h1.1v1.1h-1.1zM244.0 622.6h1.2v1.2h-1.2z"/>
<path fill="#5b7fd0" opacity="0.75" d="M238.6 619.7h0.8v0.8h-0.8zM233.9 620.7h1.1v1.1h-1.1zM243.2 623.5h0.8v0.8h-0.8zM237.8 618.3h1.1v1.1h-1.1zM237.9 621.9h1.3v1.3h-1.3zM229.5 620.7h1.2v1.2h-1.2zM247.9 621.4h1.0v1.0h-1.0zM240.4 620.5h1.2v1.2h-1.2zM237.7 620.4h0.7v0.7h-0.7zM233.7 622.0h1.1v1.1h-1.1zM248.0 621.3h1.3v1.3h-1.3zM238.2 618.8h1.0v1.0h-1.0zM247.1 621.7h1.0v1.0h-1.0zM252.3 620.7h0.8v0.8h-0.8zM243.4 618.4h1.2v1.2h-1.2zM239.5 621.2h1.2v1.2h-1.2zM226.6 620.5h1.3v1.3h-1.3zM247.5 622.1h1.3v1.3h-1.3z"/>
<path fill="#a9bdeb" opacity="0.75" d="M230.5 621.6h1.2v1.2h-1.2zM243.5 621.1h1.2v1.2h-1.2zM241.4 622.7h0.9v0.9h-0.9zM229.3 621.9h0.8v0.8h-0.8zM232.0 622.3h1.1v1.1h-1.1zM225.8 622.3h0.9v0.9h-0.9zM248.9 621.3h0.9v0.9h-0.9zM241.6 619.0h0.9v0.9h-0.9zM236.6 619.7h0.9v0.9h-0.9zM233.1 618.5h0.7v0.7h-0.7zM235.0 620.5h1.2v1.2h-1.2zM245.6 620.9h1.2v1.2h-1.2zM251.6 618.7h1.2v1.2h-1.2zM236.2 622.2h1.1v1.1h-1.1zM233.2 617.8h1.1v1.1h-1.1zM230.2 624.0h1.3v1.3h-1.3zM235.2 620.2h1.2v1.2h-1.2z"/>
<path fill="#7f9be0" opacity="0.75" d="M220.4 624.6h1.0v1.0h-1.0zM246.3 622.6h1.2v1.2h-1.2zM233.3 621.3h1.2v1.2h-1.2zM241.6 621.3h1.1v1.1h-1.1zM243.9 621.2h1.3v1.3h-1.3zM238.5 618.7h1.0v1.0h-1.0zM226.4 619.7h0.9v0.9h-0.9zM246.3 617.7h1.3v1.3h-1.3zM230.1 623.2h0.8v0.8h-0.8zM243.7 617.1h0.8v0.8h-0.8zM229.6 620.1h1.3v1.3h-1.3zM244.0 622.9h0.9v0.9h-0.9z"/>
<path fill="#c3cff0" opacity="0.75" d="M237.3 622.5h1.1v1.1h-1.1zM234.6 622.1h1.2v1.2h-1.2zM234.4 618.1h1.0v1.0h-1.0zM237.5 622.7h0.8v0.8h-0.8zM240.8 624.0h0.9v0.9h-0.9zM237.3 616.9h0.8v0.8h-0.8zM244.3 623.4h0.8v0.8h-0.8zM239.6 620.2h1.1v1.1h-1.1zM239.8 619.9h0.7v0.7h-0.7zM241.7 621.0h1.3v1.3h-1.3zM227.0 619.0h1.0v1.0h-1.0zM236.7 619.5h0.9v0.9h-0.9zM227.5 620.4h1.0v1.0h-1.0zM240.3 622.3h1.2v1.2h-1.2zM247.5 620.6h1.2v1.2h-1.2zM231.8 622.7h0.8v0.8h-0.8z"/>
<path fill="#c3cff0" opacity="0.75" d="M247.0 616.6h1.1v1.1h-1.1zM252.5 623.0h0.9v0.9h-0.9zM241.7 623.9h1.0v1.0h-1.0zM229.2 617.5h0.7v0.7h-0.7zM254.6 617.5h0.8v0.8h-0.8zM247.0 623.0h1.0v1.0h-1.0zM240.0 620.5h1.2v1.2h-1.2zM246.6 607.3h0.9v0.9h-0.9zM256.3 613.2h0.9v0.9h-0.9zM246.3 607.3h1.0v1.0h-1.0zM244.1 612.4h0.7v0.7h-0.7zM240.4 614.7h1.2v1.2h-1.2zM254.3 613.9h0.8v0.8h-0.8zM244.0 611.4h0.8v0.8h-0.8z"/>
<path fill="#d5def5" opacity="0.75" d="M240.2 623.5h0.9v0.9h-0.9zM236.9 626.5h0.8v0.8h-0.8zM237.9 619.9h1.2v1.2h-1.2zM246.6 621.1h1.2v1.2h-1.2zM252.1 620.7h0.9v0.9h-0.9zM243.7 617.3h0.9v0.9h-0.9zM258.5 620.4h1.0v1.0h-1.0zM245.9 618.9h0.7v0.7h-0.7zM238.0 611.5h1.1v1.1h-1.1zM244.3 616.4h1.0v1.0h-1.0zM256.4 617.5h0.9v0.9h-0.9zM246.4 616.6h0.9v0.9h-0.9zM239.0 613.8h0.7v0.7h-0.7zM238.3 615.1h1.2v1.2h-1.2zM238.2 613.8h1.2v1.2h-1.2z"/>
<path fill="#a9bdeb" opacity="0.75" d="M250.4 614.9h0.7v0.7h-0.7zM247.5 613.4h1.3v1.3h-1.3zM253.9 619.9h0.9v0.9h-0.9zM236.6 615.3h1.2v1.2h-1.2zM251.5 613.6h0.7v0.7h-0.7zM250.8 611.4h0.9v0.9h-0.9zM233.0 612.8h1.0v1.0h-1.0zM247.3 625.1h1.0v1.0h-1.0zM252.3 616.4h1.2v1.2h-1.2zM240.8 612.2h1.3v1.3h-1.3zM242.9 620.5h1.0v1.0h-1.0z"/>
<ellipse cx="223.50" cy="602.80" rx="1.5" ry="4.0" fill="#2452a8" opacity="1.0" filter="url(#bl1)"/>
<ellipse cx="224.20" cy="619.80" rx="4.6" ry="6.6" fill="#2350aa" opacity="1.0" filter="url(#bl1)"/>
<ellipse cx="224.20" cy="619.80" rx="3.4" ry="5.0" fill="#3a9cc8" opacity="1.0" filter="url(#bl1)"/>
<ellipse cx="224.00" cy="620.30" rx="2.2" ry="3.0" fill="#76c43e" opacity="1.0" filter="url(#bl1)"/>
<ellipse cx="223.80" cy="620.60" rx="0.9" ry="1.2" fill="#e6dc3a" opacity="1.0" filter="url(#bl1)"/>
<ellipse cx="237.00" cy="621.00" rx="4.5" ry="1.0" fill="#5f88d4" opacity="0.9" filter="url(#bl1)"/>
<ellipse cx="247.30" cy="621.30" rx="5.6" ry="3.4" fill="#2352ac" opacity="1.0" filter="url(#bl1)"/>
<ellipse cx="245.80" cy="621.00" rx="2.8" ry="2.0" fill="#48b0d2" opacity="1.0" filter="url(#bl1)"/>
<ellipse cx="250.50" cy="621.80" rx="1.6" ry="1.6" fill="#3a8cc8" opacity="1.0" filter="url(#bl1)"/>
<line x1="232.50" y1="578.80" x2="232.50" y2="631.20" stroke="#555" stroke-width="0.8" />
<line x1="216.40" y1="609.50" x2="268.30" y2="609.50" stroke="#555" stroke-width="0.8" />
<text x="224.30" y="586.00" font-size="4.9" text-anchor="middle" fill="#4a4a4a" >T cells</text>
<text x="224.30" y="590.70" font-size="4.9" text-anchor="middle" fill="#4a4a4a" >3.35</text>
<text x="259.80" y="619.00" font-size="4.9" text-anchor="middle" fill="#4a4a4a" >B cells</text>
<text x="259.80" y="623.70" font-size="4.9" text-anchor="middle" fill="#4a4a4a" >31.9</text>
<line x1="219.40" y1="630.00" x2="219.40" y2="631.20" stroke="#333" stroke-width="0.5" />
<line x1="230.88" y1="630.00" x2="230.88" y2="631.20" stroke="#333" stroke-width="0.5" />
<line x1="242.35" y1="630.00" x2="242.35" y2="631.20" stroke="#333" stroke-width="0.5" />
<line x1="253.83" y1="630.00" x2="253.83" y2="631.20" stroke="#333" stroke-width="0.5" />
<line x1="265.30" y1="630.00" x2="265.30" y2="631.20" stroke="#333" stroke-width="0.5" />
<rect x="287.40" y="523.10" width="53.00" height="52.40" fill="#fff" stroke="#bdbdbd" stroke-width="0.7"/>
<path fill="#6d8fd8" opacity="0.75" d="M306.5 548.8h1.1v1.1h-1.1zM303.4 555.2h1.3v1.3h-1.3zM308.9 549.9h0.9v0.9h-0.9zM308.0 549.5h0.8v0.8h-0.8zM306.0 556.0h0.9v0.9h-0.9zM305.3 547.7h0.8v0.8h-0.8zM307.2 541.6h1.1v1.1h-1.1zM302.4 557.7h1.0v1.0h-1.0zM301.4 555.2h1.1v1.1h-1.1zM309.1 545.4h1.1v1.1h-1.1zM296.2 555.1h0.7v0.7h-0.7zM298.1 563.6h0.8v0.8h-0.8zM305.5 549.9h1.3v1.3h-1.3zM303.7 553.4h0.9v0.9h-0.9zM310.0 555.9h0.8v0.8h-0.8zM302.2 549.5h0.9v0.9h-0.9zM302.2 555.0h1.0v1.0h-1.0zM311.4 554.1h0.8v0.8h-0.8zM309.4 549.5h1.1v1.1h-1.1zM304.3 549.0h0.7v0.7h-0.7zM311.5 551.1h1.1v1.1h-1.1zM301.7 555.5h1.2v1.2h-1.2zM307.5 552.6h1.3v1.3h-1.3zM301.8 558.2h1.2v1.2h-1.2zM308.3 554.8h0.9v0.9h-0.9zM308.7 550.1h0.8v0.8h-0.8zM302.4 555.8h1.3v1.3h-1.3zM307.3 544.5h0.9v0.9h-0.9zM303.5 552.7h1.2v1.2h-1.2zM304.9 561.1h1.0v1.0h-1.0zM308.2 543.3h1.2v1.2h-1.2zM310.2 543.5h1.2v1.2h-1.2zM303.2 561.6h1.0v1.0h-1.0zM309.7 550.8h1.2v1.2h-1.2zM303.2 565.4h1.2v1.2h-1.2zM305.2 552.5h1.2v1.2h-1.2zM308.1 551.3h1.2v1.2h-1.2zM297.0 556.4h1.2v1.2h-1.2zM309.3 557.1h0.8v0.8h-0.8zM302.8 560.3h1.2v1.2h-1.2z"/>
<path fill="#8aa6e2" opacity="0.75" d="M306.6 558.9h1.1v1.1h-1.1zM301.4 555.0h1.0v1.0h-1.0zM302.1 556.3h0.9v0.9h-0.9zM299.8 560.5h0.8v0.8h-0.8zM300.0 554.8h0.9v0.9h-0.9zM301.0 551.4h1.2v1.2h-1.2zM301.9 552.0h1.1v1.1h-1.1zM300.7 554.6h1.1v1.1h-1.1zM306.2 558.5h0.9v0.9h-0.9zM302.5 556.0h1.2v1.2h-1.2zM302.4 557.8h1.0v1.0h-1.0zM304.6 554.8h0.9v0.9h-0.9zM306.4 565.0h0.7v0.7h-0.7zM299.1 562.2h0.9v0.9h-0.9zM306.7 551.3h1.2v1.2h-1.2zM305.3 557.8h1.3v1.3h-1.3zM308.7 540.3h1.2v1.2h-1.2zM311.2 548.4h0.8v0.8h-0.8zM306.2 549.4h1.1v1.1h-1.1zM311.7 555.6h0.9v0.9h-0.9zM304.9 554.4h0.9v0.9h-0.9zM305.2 568.7h0.8v0.8h-0.8zM306.7 551.4h1.0v1.0h-1.0zM304.9 541.2h0.9v0.9h-0.9zM305.3 555.2h0.8v0.8h-0.8zM301.5 559.1h0.9v0.9h-0.9zM305.1 558.5h1.2v1.2h-1.2zM299.8 554.1h1.2v1.2h-1.2zM312.2 545.8h1.1v1.1h-1.1zM309.3 555.2h1.0v1.0h-1.0zM301.7 555.4h1.0v1.0h-1.0zM299.9 557.5h0.8v0.8h-0.8zM298.3 556.1h1.0v1.0h-1.0zM297.3 566.5h1.2v1.2h-1.2zM306.6 559.4h1.0v1.0h-1.0zM304.3 552.7h1.2v1.2h-1.2zM306.4 555.7h0.8v0.8h-0.8zM315.6 547.7h0.7v0.7h-0.7zM308.4 559.1h1.0v1.0h-1.0zM307.2 550.1h0.8v0.8h-0.8zM306.8 558.7h0.9v0.9h-0.9zM310.6 548.9h0.9v0.9h-0.9zM300.8 563.0h1.0v1.0h-1.0zM302.9 554.2h1.3v1.3h-1.3zM304.9 552.5h1.3v1.3h-1.3zM307.9 549.0h0.8v0.8h-0.8zM299.9 562.1h1.2v1.2h-1.2zM306.5 547.1h0.8v0.8h-0.8zM301.3 559.2h1.0v1.0h-1.0zM301.8 557.0h0.9v0.9h-0.9zM304.6 555.0h1.2v1.2h-1.2zM306.9 556.2h1.1v1.1h-1.1zM301.0 554.0h1.0v1.0h-1.0zM303.1 551.1h1.1v1.1h-1.1zM295.0 559.6h0.9v0.9h-0.9z"/>
<path fill="#5b7fd0" opacity="0.75" d="M312.2 547.1h1.2v1.2h-1.2zM302.5 547.9h1.3v1.3h-1.3zM297.8 566.6h1.0v1.0h-1.0zM300.1 557.3h0.9v0.9h-0.9zM297.6 562.9h1.1v1.1h-1.1zM305.8 553.5h1.0v1.0h-1.0zM298.8 560.8h1.3v1.3h-1.3zM302.0 559.2h0.8v0.8h-0.8zM304.1 554.0h0.9v0.9h-0.9zM313.2 558.1h1.3v1.3h-1.3zM304.6 554.8h1.0v1.0h-1.0zM303.7 555.8h0.8v0.8h-0.8zM302.3 556.5h1.0v1.0h-1.0zM306.6 557.0h0.7v0.7h-0.7zM302.3 555.3h1.0v1.0h-1.0zM308.6 552.2h1.0v1.0h-1.0zM300.9 562.2h1.2v1.2h-1.2zM299.8 556.1h0.8v0.8h-0.8zM309.9 548.8h1.1v1.1h-1.1zM297.1 558.7h0.7v0.7h-0.7zM298.4 559.6h0.7v0.7h-0.7zM309.7 549.0h1.0v1.0h-1.0zM302.8 549.0h1.1v1.1h-1.1zM300.0 562.1h0.8v0.8h-0.8zM304.4 558.6h1.2v1.2h-1.2zM309.4 544.1h1.2v1.2h-1.2zM309.8 549.5h1.0v1.0h-1.0zM296.8 553.6h0.9v0.9h-0.9zM302.3 547.2h1.0v1.0h-1.0zM305.7 554.9h0.7v0.7h-0.7zM305.6 559.7h1.1v1.1h-1.1zM305.7 556.3h0.8v0.8h-0.8zM294.5 570.3h1.1v1.1h-1.1zM313.7 548.5h0.9v0.9h-0.9zM300.2 555.3h0.8v0.8h-0.8zM296.4 558.3h1.0v1.0h-1.0z"/>
<path fill="#a9bdeb" opacity="0.75" d="M297.5 561.3h0.9v0.9h-0.9zM307.7 555.3h0.9v0.9h-0.9zM306.9 556.5h1.1v1.1h-1.1zM297.5 560.4h1.1v1.1h-1.1zM307.4 552.2h1.3v1.3h-1.3zM300.3 553.0h0.9v0.9h-0.9zM289.9 568.2h1.0v1.0h-1.0zM298.5 559.6h1.2v1.2h-1.2zM296.5 558.8h1.0v1.0h-1.0zM298.9 556.6h0.7v0.7h-0.7zM295.7 558.8h1.1v1.1h-1.1zM309.9 553.3h1.0v1.0h-1.0zM311.1 549.1h1.0v1.0h-1.0zM312.3 548.0h1.2v1.2h-1.2zM299.4 560.3h0.8v0.8h-0.8zM301.0 562.0h1.2v1.2h-1.2zM306.1 555.0h1.0v1.0h-1.0zM300.8 560.2h1.2v1.2h-1.2zM298.9 569.6h1.0v1.0h-1.0zM316.7 543.0h1.1v1.1h-1.1zM304.6 555.1h0.8v0.8h-0.8zM312.0 554.1h1.1v1.1h-1.1zM297.2 567.0h0.8v0.8h-0.8zM302.8 563.9h0.9v0.9h-0.9zM298.8 553.3h1.2v1.2h-1.2zM298.3 553.2h1.0v1.0h-1.0zM307.3 553.9h1.2v1.2h-1.2zM306.2 556.1h1.2v1.2h-1.2zM294.8 564.9h0.8v0.8h-0.8zM307.2 547.9h1.0v1.0h-1.0zM297.7 569.4h1.1v1.1h-1.1zM307.6 542.6h0.9v0.9h-0.9zM292.5 564.2h1.0v1.0h-1.0zM301.6 549.5h1.3v1.3h-1.3zM311.6 555.1h1.1v1.1h-1.1zM301.5 561.3h1.0v1.0h-1.0zM296.2 565.1h0.7v0.7h-0.7z"/>
<path fill="#7f9be0" opacity="0.75" d="M302.5 559.6h1.2v1.2h-1.2zM295.8 559.8h0.9v0.9h-0.9zM299.5 544.9h1.1v1.1h-1.1zM304.9 557.4h1.2v1.2h-1.2zM294.7 562.3h0.8v0.8h-0.8zM310.8 546.4h0.7v0.7h-0.7zM310.4 548.0h1.0v1.0h-1.0zM307.1 549.7h1.0v1.0h-1.0zM302.8 558.0h1.0v1.0h-1.0zM307.0 537.5h0.7v0.7h-0.7zM292.3 569.9h1.0v1.0h-1.0zM311.1 543.5h1.0v1.0h-1.0zM299.0 553.3h1.0v1.0h-1.0zM312.6 543.0h0.8v0.8h-0.8zM296.2 557.4h1.1v1.1h-1.1zM301.2 557.1h1.1v1.1h-1.1zM300.3 566.8h1.0v1.0h-1.0zM301.3 558.0h1.2v1.2h-1.2zM307.6 548.2h0.9v0.9h-0.9zM307.3 553.3h0.9v0.9h-0.9zM303.3 552.4h0.7v0.7h-0.7zM300.7 557.2h1.0v1.0h-1.0zM291.0 563.4h1.2v1.2h-1.2zM305.0 559.8h0.9v0.9h-0.9zM298.7 556.0h1.1v1.1h-1.1zM302.2 555.4h1.1v1.1h-1.1zM308.5 545.4h1.0v1.0h-1.0zM302.1 552.1h1.0v1.0h-1.0zM290.8 567.3h1.1v1.1h-1.1zM302.8 555.7h1.2v1.2h-1.2zM299.8 553.7h1.0v1.0h-1.0zM299.0 555.3h1.1v1.1h-1.1zM298.6 550.9h1.2v1.2h-1.2zM298.5 556.7h0.7v0.7h-0.7zM304.4 549.2h0.9v0.9h-0.9zM300.2 561.3h1.2v1.2h-1.2zM303.5 558.4h0.8v0.8h-0.8zM302.6 562.8h0.8v0.8h-0.8zM301.5 556.4h1.0v1.0h-1.0zM308.1 558.1h0.8v0.8h-0.8zM295.6 567.4h1.2v1.2h-1.2zM306.2 552.5h0.7v0.7h-0.7zM309.1 559.8h0.7v0.7h-0.7zM302.9 557.9h1.0v1.0h-1.0zM299.0 555.5h0.9v0.9h-0.9zM300.8 561.2h0.8v0.8h-0.8zM313.3 548.7h0.8v0.8h-0.8zM307.4 559.8h1.1v1.1h-1.1z"/>
<path fill="#c3cff0" opacity="0.75" d="M296.0 559.1h1.2v1.2h-1.2zM302.3 555.2h0.8v0.8h-0.8zM300.9 555.7h1.0v1.0h-1.0zM306.0 544.5h0.8v0.8h-0.8zM301.0 565.0h0.8v0.8h-0.8zM292.3 557.1h1.2v1.2h-1.2zM298.0 569.8h1.0v1.0h-1.0zM294.7 564.0h0.7v0.7h-0.7zM292.8 562.3h1.1v1.1h-1.1zM312.4 545.0h1.2v1.2h-1.2zM304.0 558.5h1.2v1.2h-1.2zM291.9 567.9h0.9v0.9h-0.9zM311.0 550.2h1.0v1.0h-1.0zM313.6 541.1h1.1v1.1h-1.1zM307.5 549.6h1.2v1.2h-1.2zM294.7 565.7h1.1v1.1h-1.1zM311.5 550.9h0.7v0.7h-0.7zM308.2 549.9h1.2v1.2h-1.2zM295.0 561.1h1.2v1.2h-1.2zM296.0 563.1h1.2v1.2h-1.2zM304.4 561.3h1.1v1.1h-1.1zM303.3 548.4h0.7v0.7h-0.7zM305.6 552.9h0.8v0.8h-0.8zM292.2 569.1h0.7v0.7h-0.7zM304.6 552.3h0.8v0.8h-0.8zM299.5 558.4h1.1v1.1h-1.1zM302.2 558.1h0.9v0.9h-0.9zM299.4 560.9h0.8v0.8h-0.8zM297.2 566.9h0.8v0.8h-0.8zM304.4 554.2h0.9v0.9h-0.9zM305.2 547.5h0.7v0.7h-0.7zM300.9 557.1h0.7v0.7h-0.7zM299.2 561.1h0.9v0.9h-0.9zM301.7 556.0h0.7v0.7h-0.7zM311.4 542.5h0.8v0.8h-0.8zM301.4 556.8h0.8v0.8h-0.8zM302.4 559.5h1.0v1.0h-1.0zM304.0 539.5h1.1v1.1h-1.1zM291.6 563.9h1.1v1.1h-1.1zM301.4 556.2h0.9v0.9h-0.9zM304.2 549.7h0.9v0.9h-0.9z"/>
<path fill="#6d8fd8" opacity="0.75" d="M305.3 558.1h0.8v0.8h-0.8zM309.3 562.0h1.1v1.1h-1.1zM303.7 558.5h0.8v0.8h-0.8zM316.1 567.7h1.2v1.2h-1.2zM314.9 565.0h0.8v0.8h-0.8zM314.8 567.2h0.7v0.7h-0.7zM300.8 563.1h0.9v0.9h-0.9zM309.6 567.1h1.1v1.1h-1.1zM303.5 559.0h1.1v1.1h-1.1zM310.3 550.2h1.3v1.3h-1.3zM309.3 569.0h0.8v0.8h-0.8zM302.2 563.3h0.7v0.7h-0.7zM306.6 561.6h0.7v0.7h-0.7zM309.7 560.3h1.0v1.0h-1.0zM310.6 563.4h1.2v1.2h-1.2zM307.8 561.4h1.2v1.2h-1.2zM312.7 557.3h0.8v0.8h-0.8z"/>
<path fill="#8aa6e2" opacity="0.75" d="M313.8 565.0h1.1v1.1h-1.1zM310.4 569.2h0.9v0.9h-0.9zM309.4 564.9h1.0v1.0h-1.0zM308.1 561.7h1.2v1.2h-1.2zM319.2 564.3h1.2v1.2h-1.2zM315.3 560.0h1.2v1.2h-1.2zM304.6 562.8h0.7v0.7h-0.7zM310.0 562.9h0.9v0.9h-0.9zM308.0 566.8h1.1v1.1h-1.1zM312.5 564.4h1.2v1.2h-1.2z"/>
<path fill="#5b7fd0" opacity="0.75" d="M309.8 559.1h0.8v0.8h-0.8zM307.4 560.9h1.1v1.1h-1.1zM312.1 566.1h0.8v0.8h-0.8zM309.4 556.5h1.1v1.1h-1.1zM309.4 563.1h1.3v1.3h-1.3zM305.3 560.9h1.2v1.2h-1.2zM314.4 562.2h1.0v1.0h-1.0zM310.7 560.5h1.2v1.2h-1.2zM309.4 560.3h0.7v0.7h-0.7zM307.3 563.3h1.1v1.1h-1.1zM314.5 562.0h1.3v1.3h-1.3zM309.6 557.4h1.0v1.0h-1.0zM314.1 562.8h1.0v1.0h-1.0zM316.6 560.9h0.8v0.8h-0.8zM312.2 556.8h1.2v1.2h-1.2zM310.3 561.8h1.2v1.2h-1.2zM303.8 560.6h1.3v1.3h-1.3zM314.3 563.4h1.3v1.3h-1.3z"/>
<path fill="#a9bdeb" opacity="0.75" d="M305.8 562.5h1.2v1.2h-1.2zM312.3 561.7h1.2v1.2h-1.2zM311.2 564.5h0.9v0.9h-0.9zM305.2 563.2h0.8v0.8h-0.8zM306.5 563.8h1.1v1.1h-1.1zM303.4 563.8h0.9v0.9h-0.9zM315.0 561.9h0.9v0.9h-0.9zM311.3 557.9h0.9v0.9h-0.9zM308.8 559.0h0.9v0.9h-0.9zM307.0 556.8h0.7v0.7h-0.7zM308.0 560.6h1.2v1.2h-1.2zM313.3 561.2h1.2v1.2h-1.2zM316.3 557.4h1.2v1.2h-1.2zM308.6 563.7h1.1v1.1h-1.1zM307.1 555.7h1.1v1.1h-1.1zM305.6 567.0h1.3v1.3h-1.3zM308.1 560.0h1.2v1.2h-1.2z"/>
<path fill="#7f9be0" opacity="0.75" d="M300.7 568.0h1.0v1.0h-1.0zM313.7 564.3h1.2v1.2h-1.2zM307.2 561.9h1.2v1.2h-1.2zM311.3 562.0h1.1v1.1h-1.1zM312.5 561.9h1.3v1.3h-1.3zM309.7 557.3h1.0v1.0h-1.0zM303.7 559.1h0.9v0.9h-0.9zM313.6 555.4h1.3v1.3h-1.3zM305.5 565.5h0.8v0.8h-0.8zM312.4 554.4h0.8v0.8h-0.8zM305.3 559.8h1.3v1.3h-1.3zM312.5 564.9h0.9v0.9h-0.9z"/>
<path fill="#c3cff0" opacity="0.75" d="M309.1 564.1h1.1v1.1h-1.1zM307.8 563.5h1.2v1.2h-1.2zM307.7 556.2h1.0v1.0h-1.0zM309.2 564.5h0.8v0.8h-0.8zM310.9 566.9h0.9v0.9h-0.9zM309.2 554.1h0.8v0.8h-0.8zM312.6 565.8h0.8v0.8h-0.8zM310.3 560.0h1.1v1.1h-1.1zM310.4 559.4h0.7v0.7h-0.7zM311.4 561.5h1.3v1.3h-1.3zM304.0 557.8h1.0v1.0h-1.0zM308.9 558.7h0.9v0.9h-0.9zM304.2 560.3h1.0v1.0h-1.0zM310.7 563.8h1.2v1.2h-1.2zM314.3 560.7h1.2v1.2h-1.2zM306.4 564.5h0.8v0.8h-0.8z"/>
<path fill="#6d8fd8" opacity="0.75" d="M316.9 555.5h0.9v0.9h-0.9zM311.6 560.0h1.0v1.0h-1.0zM314.2 548.2h0.8v0.8h-0.8zM313.9 557.3h1.0v1.0h-1.0zM308.2 556.5h1.2v1.2h-1.2zM312.2 542.4h0.9v0.9h-0.9zM302.5 538.5h1.0v1.0h-1.0zM314.1 537.1h0.8v0.8h-0.8zM306.3 554.1h1.1v1.1h-1.1zM315.3 555.5h0.9v0.9h-0.9zM316.1 553.1h0.9v0.9h-0.9zM307.8 541.1h1.0v1.0h-1.0zM306.0 547.5h0.8v0.8h-0.8zM313.2 551.8h0.8v0.8h-0.8zM309.4 554.0h0.8v0.8h-0.8zM299.7 541.6h0.9v0.9h-0.9zM316.6 547.3h1.1v1.1h-1.1z"/>
<path fill="#8aa6e2" opacity="0.75" d="M309.5 549.6h1.1v1.1h-1.1zM300.1 556.4h0.7v0.7h-0.7zM302.7 538.4h0.9v0.9h-0.9zM304.9 545.4h0.7v0.7h-0.7zM304.4 549.4h1.2v1.2h-1.2zM311.6 543.9h0.8v0.8h-0.8zM304.1 544.2h0.8v0.8h-0.8zM315.4 553.0h1.0v1.0h-1.0zM302.9 549.4h0.8v0.8h-0.8zM300.0 535.5h1.0v1.0h-1.0zM310.4 561.8h0.8v0.8h-0.8zM310.0 549.0h1.0v1.0h-1.0zM313.4 548.0h1.3v1.3h-1.3zM310.0 552.6h1.0v1.0h-1.0zM314.0 551.9h0.8v0.8h-0.8zM311.0 551.1h1.3v1.3h-1.3z"/>
<path fill="#5b7fd0" opacity="0.75" d="M310.5 560.1h0.9v0.9h-0.9zM310.7 564.8h0.8v0.8h-0.8zM312.3 555.1h1.2v1.2h-1.2zM315.1 552.8h0.9v0.9h-0.9zM310.4 552.7h0.7v0.7h-0.7zM300.8 546.3h1.1v1.1h-1.1zM303.0 548.7h0.7v0.7h-0.7zM302.6 549.0h1.2v1.2h-1.2zM313.0 549.1h1.2v1.2h-1.2zM305.5 549.3h0.7v0.7h-0.7zM307.5 552.6h1.2v1.2h-1.2zM307.1 552.2h0.7v0.7h-0.7zM319.9 555.4h1.1v1.1h-1.1zM308.2 546.1h1.0v1.0h-1.0zM312.2 559.3h1.2v1.2h-1.2zM320.0 560.8h1.2v1.2h-1.2zM310.9 541.1h0.7v0.7h-0.7zM307.2 549.0h1.0v1.0h-1.0z"/>
<path fill="#a9bdeb" opacity="0.75" d="M306.7 556.5h1.2v1.2h-1.2zM308.1 551.5h0.9v0.9h-0.9zM318.5 550.5h1.0v1.0h-1.0zM307.8 550.2h1.0v1.0h-1.0zM315.3 547.6h0.9v0.9h-0.9zM309.1 549.7h0.9v0.9h-0.9zM303.5 550.5h1.2v1.2h-1.2zM307.2 540.4h1.3v1.3h-1.3zM308.9 532.3h1.1v1.1h-1.1zM319.2 557.7h0.7v0.7h-0.7zM312.2 552.2h1.3v1.3h-1.3zM293.1 536.7h1.1v1.1h-1.1zM306.6 543.7h1.2v1.2h-1.2zM302.0 542.6h0.9v0.9h-0.9zM316.9 564.3h0.9v0.9h-0.9zM312.9 553.2h0.9v0.9h-0.9zM314.5 546.6h1.2v1.2h-1.2zM311.4 548.0h0.9v0.9h-0.9zM303.9 544.4h1.1v1.1h-1.1zM310.4 556.4h1.3v1.3h-1.3zM310.1 555.9h1.2v1.2h-1.2zM311.5 554.6h0.9v0.9h-0.9zM308.2 538.3h1.2v1.2h-1.2zM309.3 559.0h1.3v1.3h-1.3zM301.9 542.8h1.0v1.0h-1.0zM313.0 556.6h1.2v1.2h-1.2zM309.0 565.0h1.3v1.3h-1.3zM308.7 554.0h1.0v1.0h-1.0zM321.7 558.3h1.3v1.3h-1.3z"/>
<path fill="#7f9be0" opacity="0.75" d="M307.4 545.5h1.3v1.3h-1.3zM315.6 551.3h0.9v0.9h-0.9zM307.9 542.1h0.9v0.9h-0.9zM298.9 549.4h1.0v1.0h-1.0zM309.9 555.6h1.0v1.0h-1.0zM315.6 559.4h0.8v0.8h-0.8zM306.8 553.9h1.2v1.2h-1.2zM305.3 547.2h0.8v0.8h-0.8zM318.9 562.6h1.2v1.2h-1.2zM303.8 539.0h1.1v1.1h-1.1zM312.8 555.3h0.9v0.9h-0.9zM307.4 549.3h0.9v0.9h-0.9zM304.1 551.0h0.8v0.8h-0.8zM314.9 550.0h0.9v0.9h-0.9zM308.4 548.1h1.2v1.2h-1.2zM300.9 543.2h1.1v1.1h-1.1zM309.4 545.3h1.3v1.3h-1.3zM316.8 555.2h1.1v1.1h-1.1z"/>
<path fill="#c3cff0" opacity="0.75" d="M310.1 546.4h0.7v0.7h-0.7zM302.7 551.4h1.2v1.2h-1.2zM309.8 544.5h0.7v0.7h-0.7zM315.6 559.8h1.0v1.0h-1.0zM312.2 547.6h1.2v1.2h-1.2zM302.9 546.2h1.3v1.3h-1.3zM305.4 564.8h1.1v1.1h-1.1zM310.4 549.3h1.2v1.2h-1.2zM315.7 557.9h1.2v1.2h-1.2zM303.6 544.2h0.8v0.8h-0.8zM312.0 545.8h1.0v1.0h-1.0zM315.1 558.5h0.8v0.8h-0.8zM310.3 547.5h1.0v1.0h-1.0zM301.1 536.4h1.0v1.0h-1.0zM315.6 545.6h0.8v0.8h-0.8zM316.1 542.3h1.2v1.2h-1.2zM311.5 546.8h1.2v1.2h-1.2zM303.6 554.6h0.8v0.8h-0.8zM306.8 555.5h1.1v1.1h-1.1zM308.6 544.2h1.0v1.0h-1.0zM305.9 549.1h0.8v0.8h-0.8zM310.8 557.0h0.8v0.8h-0.8z"/>
<path d="M315.2 545.1 C 315.5 551.1, 313.5 557.1, 310.5 560.1 C 307 561.1, 304 558.1, 303.2 554.1 C 302.8 550.1, 304 547.1, 306 545.1 Z" fill="#4d7ccd" opacity="0.85" filter="url(#bl1)"/>
<path d="M314.6 538.9 C 316.8 539.7, 316.6 544.1, 315.6 548.1 C 315 552.1, 313 554.6, 310.5 555.1 C 307 554.6, 304.5 552.1, 303.8 549.1 C 303.4 547.1, 303.6 545.6, 304.8 544.5 C 307.5 542.1, 311.5 538.7, 314.6 538.9 Z" fill="#2556b2" opacity="1.0" filter="url(#bl1)"/>
<ellipse cx="310.00" cy="544.50" rx="5.4" ry="3.8" fill="#36a2bc" opacity="1.0" filter="url(#bl1)" transform="rotate(-25 310.00 544.50)"/>
<ellipse cx="310.20" cy="544.10" rx="4.2" ry="2.8" fill="#6cc23e" opacity="1.0" filter="url(#bl1)" transform="rotate(-25 310.20 544.10)"/>
<ellipse cx="310.50" cy="543.90" rx="1.4" ry="1.0" fill="#b8dc30" opacity="1.0" filter="url(#bl1)"/>
<ellipse cx="297.00" cy="562.60" rx="1.8" ry="5.0" fill="#2556b2" opacity="1.0" filter="url(#bl1)" transform="rotate(25 297.00 562.60)"/>
<ellipse cx="296.00" cy="566.10" rx="3.0" ry="3.2" fill="#2f86c0" opacity="1.0" filter="url(#bl1)"/>
<ellipse cx="295.80" cy="566.30" rx="2.1" ry="2.2" fill="#8cce3e" opacity="1.0" filter="url(#bl1)"/>
<ellipse cx="295.60" cy="566.50" rx="1.1" ry="1.1" fill="#ec9820" opacity="1.0" filter="url(#bl1)"/>
<line x1="301.50" y1="523.10" x2="301.50" y2="575.50" stroke="#555" stroke-width="0.8" />
<line x1="287.40" y1="557.50" x2="340.40" y2="557.50" stroke="#555" stroke-width="0.8" />
<text x="325.60" y="530.70" font-size="4.9" text-anchor="middle" fill="#4a4a4a" >Myeloid cells</text>
<text x="325.60" y="535.40" font-size="4.9" text-anchor="middle" fill="#4a4a4a" >46.1</text>
<line x1="290.40" y1="574.30" x2="290.40" y2="575.50" stroke="#333" stroke-width="0.5" />
<line x1="302.15" y1="574.30" x2="302.15" y2="575.50" stroke="#333" stroke-width="0.5" />
<line x1="313.90" y1="574.30" x2="313.90" y2="575.50" stroke="#333" stroke-width="0.5" />
<line x1="325.65" y1="574.30" x2="325.65" y2="575.50" stroke="#333" stroke-width="0.5" />
<line x1="337.40" y1="574.30" x2="337.40" y2="575.50" stroke="#333" stroke-width="0.5" />
<rect x="287.40" y="578.90" width="53.00" height="52.40" fill="#fff" stroke="#bdbdbd" stroke-width="0.7"/>
<path fill="#6d8fd8" opacity="0.75" d="M301.6 607.1h0.8v0.8h-0.8zM298.5 618.7h1.1v1.1h-1.1zM305.4 609.4h0.8v0.8h-0.8zM312.4 603.0h0.8v0.8h-0.8zM313.7 604.2h0.7v0.7h-0.7zM293.2 628.7h0.9v0.9h-0.9zM307.1 614.0h1.1v1.1h-1.1zM294.0 621.7h1.1v1.1h-1.1zM296.8 605.0h1.3v1.3h-1.3zM308.0 615.4h0.8v0.8h-0.8zM295.1 626.1h0.7v0.7h-0.7zM299.6 617.2h0.7v0.7h-0.7zM302.7 610.6h1.0v1.0h-1.0zM306.0 610.4h1.2v1.2h-1.2zM301.0 614.8h1.2v1.2h-1.2zM304.6 603.6h0.8v0.8h-0.8zM305.7 604.4h0.8v0.8h-0.8zM293.0 625.8h0.9v0.9h-0.9zM308.9 602.8h1.2v1.2h-1.2zM305.2 610.9h1.3v1.3h-1.3zM299.7 612.8h1.3v1.3h-1.3zM292.5 620.4h0.8v0.8h-0.8zM303.4 616.9h0.8v0.8h-0.8zM305.2 609.7h1.3v1.3h-1.3zM299.9 608.7h0.8v0.8h-0.8zM312.4 599.0h0.7v0.7h-0.7zM303.9 610.2h0.7v0.7h-0.7zM305.0 605.0h0.8v0.8h-0.8zM305.2 602.7h0.8v0.8h-0.8zM301.7 616.8h1.3v1.3h-1.3zM302.9 607.1h1.1v1.1h-1.1zM300.9 617.8h0.9v0.9h-0.9zM309.5 606.1h1.0v1.0h-1.0zM307.1 620.1h1.0v1.0h-1.0zM313.1 599.2h0.8v0.8h-0.8zM295.0 619.6h1.0v1.0h-1.0zM305.2 615.6h1.1v1.1h-1.1zM308.9 599.2h1.2v1.2h-1.2zM301.6 608.4h1.1v1.1h-1.1zM297.1 624.1h0.9v0.9h-0.9zM316.4 597.4h1.0v1.0h-1.0zM299.3 615.4h0.8v0.8h-0.8zM304.7 610.3h0.8v0.8h-0.8zM309.0 605.8h1.2v1.2h-1.2zM304.3 608.0h1.0v1.0h-1.0zM299.3 609.8h1.0v1.0h-1.0zM308.0 607.5h1.1v1.1h-1.1zM312.4 602.9h1.1v1.1h-1.1zM298.5 608.1h0.8v0.8h-0.8zM294.9 616.0h0.9v0.9h-0.9zM302.9 604.2h0.9v0.9h-0.9zM299.6 615.1h1.1v1.1h-1.1z"/>
<path fill="#8aa6e2" opacity="0.75" d="M311.0 605.0h1.1v1.1h-1.1zM305.1 608.1h1.3v1.3h-1.3zM306.4 606.4h1.0v1.0h-1.0zM305.4 613.4h1.0v1.0h-1.0zM301.6 614.4h1.2v1.2h-1.2zM317.5 594.5h1.2v1.2h-1.2zM309.7 599.8h1.2v1.2h-1.2zM297.8 621.5h0.7v0.7h-0.7zM304.8 611.3h0.9v0.9h-0.9zM304.9 616.8h1.1v1.1h-1.1zM309.0 607.2h1.2v1.2h-1.2zM303.9 618.7h1.0v1.0h-1.0zM304.3 612.1h1.0v1.0h-1.0zM298.7 622.0h1.2v1.2h-1.2zM314.4 607.3h0.8v0.8h-0.8zM299.4 615.3h1.3v1.3h-1.3zM300.4 616.5h0.7v0.7h-0.7zM297.4 622.2h1.1v1.1h-1.1zM310.0 607.2h1.2v1.2h-1.2zM297.9 625.0h1.1v1.1h-1.1zM309.1 604.0h1.2v1.2h-1.2zM297.9 615.5h0.9v0.9h-0.9zM305.2 617.3h0.9v0.9h-0.9zM304.5 607.7h0.8v0.8h-0.8zM300.1 616.0h0.8v0.8h-0.8zM307.4 611.1h0.9v0.9h-0.9zM301.1 608.2h0.9v0.9h-0.9zM308.1 603.7h1.3v1.3h-1.3zM307.5 604.9h0.7v0.7h-0.7zM302.4 608.0h1.1v1.1h-1.1zM306.6 610.3h1.3v1.3h-1.3zM304.3 621.1h1.3v1.3h-1.3zM293.8 623.0h1.1v1.1h-1.1zM302.1 626.7h0.7v0.7h-0.7zM302.7 616.0h1.3v1.3h-1.3zM306.9 608.0h1.1v1.1h-1.1zM295.3 625.3h1.0v1.0h-1.0zM295.8 625.0h1.0v1.0h-1.0zM300.2 614.0h1.1v1.1h-1.1zM304.5 615.4h0.8v0.8h-0.8zM301.7 615.5h1.2v1.2h-1.2zM296.4 615.6h0.8v0.8h-0.8zM298.2 609.7h0.8v0.8h-0.8zM303.0 610.2h1.2v1.2h-1.2zM308.6 611.5h1.3v1.3h-1.3z"/>
<path fill="#5b7fd0" opacity="0.75" d="M302.1 609.9h0.8v0.8h-0.8zM300.2 615.2h1.1v1.1h-1.1zM309.6 608.7h0.8v0.8h-0.8zM305.2 603.3h1.1v1.1h-1.1zM305.4 607.2h0.9v0.9h-0.9zM308.8 610.2h1.0v1.0h-1.0zM308.5 602.4h0.9v0.9h-0.9zM306.7 613.8h1.3v1.3h-1.3zM310.0 602.6h1.0v1.0h-1.0zM304.1 608.9h1.2v1.2h-1.2zM302.3 611.3h0.7v0.7h-0.7zM301.7 616.5h1.1v1.1h-1.1zM310.0 602.4h1.3v1.3h-1.3zM300.7 609.6h1.0v1.0h-1.0zM310.0 603.5h1.0v1.0h-1.0zM312.0 597.8h0.8v0.8h-0.8zM303.6 604.3h1.2v1.2h-1.2zM304.5 610.3h1.2v1.2h-1.2zM295.4 622.0h1.3v1.3h-1.3zM310.6 603.4h1.3v1.3h-1.3zM295.4 614.0h0.7v0.7h-0.7zM303.4 616.2h0.9v0.9h-0.9zM303.0 609.5h1.1v1.1h-1.1zM306.1 608.2h0.8v0.8h-0.8zM296.4 622.8h0.9v0.9h-0.9zM304.9 611.5h1.2v1.2h-1.2zM296.8 609.9h1.2v1.2h-1.2zM294.8 622.7h1.0v1.0h-1.0zM298.7 621.2h1.2v1.2h-1.2zM299.5 619.9h0.7v0.7h-0.7zM294.3 622.4h0.8v0.8h-0.8zM305.3 606.2h1.2v1.2h-1.2zM305.7 608.0h0.7v0.7h-0.7zM300.0 616.7h0.8v0.8h-0.8zM298.5 616.4h0.8v0.8h-0.8zM313.8 598.9h1.1v1.1h-1.1zM312.6 603.7h1.3v1.3h-1.3zM301.9 612.8h1.3v1.3h-1.3zM311.6 604.1h0.8v0.8h-0.8zM290.6 623.8h1.2v1.2h-1.2zM308.1 607.6h0.8v0.8h-0.8z"/>
<path fill="#a9bdeb" opacity="0.75" d="M299.2 619.1h1.2v1.2h-1.2zM306.9 606.4h1.2v1.2h-1.2zM299.5 612.6h1.1v1.1h-1.1zM303.9 612.9h0.8v0.8h-0.8zM309.3 606.7h0.8v0.8h-0.8zM305.3 614.1h1.2v1.2h-1.2zM303.2 606.5h0.9v0.9h-0.9zM300.8 611.8h0.9v0.9h-0.9zM297.0 614.2h0.7v0.7h-0.7zM300.7 614.1h1.2v1.2h-1.2zM308.0 604.2h1.2v1.2h-1.2zM309.2 596.9h1.2v1.2h-1.2zM303.6 614.3h1.1v1.1h-1.1zM296.3 613.5h1.1v1.1h-1.1zM302.0 621.4h1.3v1.3h-1.3zM300.5 613.6h1.2v1.2h-1.2zM300.5 607.2h0.7v0.7h-0.7zM306.0 598.9h1.2v1.2h-1.2zM301.4 613.7h0.8v0.8h-0.8zM303.4 605.9h1.0v1.0h-1.0zM295.3 627.5h0.9v0.9h-0.9zM299.6 609.8h1.3v1.3h-1.3zM296.0 622.2h1.2v1.2h-1.2zM299.6 620.5h1.1v1.1h-1.1zM306.4 610.6h0.9v0.9h-0.9zM305.5 607.4h0.7v0.7h-0.7zM304.4 617.4h0.8v0.8h-0.8zM306.4 598.8h1.3v1.3h-1.3zM311.5 614.4h1.2v1.2h-1.2zM298.6 614.9h1.0v1.0h-1.0zM304.5 613.6h1.2v1.2h-1.2zM309.9 609.5h0.8v0.8h-0.8zM292.0 607.8h1.0v1.0h-1.0zM307.5 617.9h0.7v0.7h-0.7zM293.0 615.6h1.2v1.2h-1.2zM302.7 609.7h1.1v1.1h-1.1zM296.4 619.3h1.2v1.2h-1.2zM301.4 613.1h1.3v1.3h-1.3zM301.4 610.9h0.9v0.9h-0.9zM299.5 613.7h1.1v1.1h-1.1zM312.1 598.5h0.7v0.7h-0.7zM304.4 601.2h1.1v1.1h-1.1zM304.3 606.9h1.1v1.1h-1.1zM294.1 622.0h0.9v0.9h-0.9zM296.6 621.7h1.1v1.1h-1.1zM297.1 609.7h1.1v1.1h-1.1zM301.3 605.7h0.9v0.9h-0.9z"/>
<path fill="#7f9be0" opacity="0.75" d="M304.9 610.9h1.2v1.2h-1.2zM305.5 613.5h1.0v1.0h-1.0zM306.4 604.2h0.9v0.9h-0.9zM301.8 617.9h0.9v0.9h-0.9zM295.8 610.2h0.7v0.7h-0.7zM294.3 621.5h0.9v0.9h-0.9zM304.5 601.0h1.3v1.3h-1.3zM300.9 620.9h0.8v0.8h-0.8zM302.2 603.0h0.8v0.8h-0.8zM296.7 618.8h1.3v1.3h-1.3zM309.3 607.5h0.9v0.9h-0.9zM300.5 617.5h1.2v1.2h-1.2zM307.1 606.8h0.8v0.8h-0.8zM298.5 618.2h1.0v1.0h-1.0zM299.1 611.1h0.9v0.9h-0.9zM303.0 617.8h1.2v1.2h-1.2zM307.3 608.5h0.7v0.7h-0.7zM303.0 614.5h1.2v1.2h-1.2zM303.1 614.5h0.8v0.8h-0.8zM304.9 602.0h1.1v1.1h-1.1zM304.4 613.9h0.9v0.9h-0.9zM300.5 612.1h0.9v0.9h-0.9zM290.7 621.4h1.1v1.1h-1.1zM303.7 610.0h1.1v1.1h-1.1zM310.5 595.9h1.2v1.2h-1.2zM308.2 609.5h0.8v0.8h-0.8zM304.5 606.4h0.9v0.9h-0.9zM306.1 613.7h1.1v1.1h-1.1zM306.4 608.1h0.9v0.9h-0.9zM307.1 605.7h0.9v0.9h-0.9zM295.4 619.0h1.0v1.0h-1.0zM304.5 606.6h1.1v1.1h-1.1zM310.2 606.2h0.8v0.8h-0.8zM300.2 610.4h0.7v0.7h-0.7zM302.1 615.2h1.1v1.1h-1.1zM299.6 614.8h1.0v1.0h-1.0zM304.0 606.5h1.0v1.0h-1.0zM305.7 604.3h1.1v1.1h-1.1zM300.9 613.5h1.1v1.1h-1.1zM306.0 604.0h1.0v1.0h-1.0z"/>
<path fill="#c3cff0" opacity="0.75" d="M304.6 613.4h1.1v1.1h-1.1zM302.4 615.7h1.2v1.2h-1.2zM298.7 620.7h1.2v1.2h-1.2zM304.2 608.9h0.8v0.8h-0.8zM297.9 608.9h0.8v0.8h-0.8zM310.2 607.6h0.8v0.8h-0.8zM303.3 609.4h1.1v1.1h-1.1zM303.1 608.9h0.7v0.7h-0.7zM305.6 608.0h1.3v1.3h-1.3zM293.8 620.4h1.0v1.0h-1.0zM300.6 611.5h0.9v0.9h-0.9zM295.8 621.0h1.0v1.0h-1.0zM306.3 610.4h1.2v1.2h-1.2zM308.8 602.2h1.2v1.2h-1.2zM301.3 618.8h0.8v0.8h-0.8zM314.3 605.8h1.0v1.0h-1.0zM304.9 612.8h0.7v0.7h-0.7zM304.9 615.3h1.0v1.0h-1.0zM300.6 611.3h1.1v1.1h-1.1zM304.0 616.2h0.9v0.9h-0.9zM290.0 625.5h0.8v0.8h-0.8zM305.4 605.3h1.3v1.3h-1.3zM296.4 623.0h0.7v0.7h-0.7zM306.1 604.7h1.2v1.2h-1.2zM309.3 603.4h1.2v1.2h-1.2zM306.8 610.9h1.2v1.2h-1.2zM297.5 617.9h0.9v0.9h-0.9zM303.1 606.7h1.3v1.3h-1.3zM297.7 619.1h1.3v1.3h-1.3zM300.4 612.2h1.1v1.1h-1.1zM302.0 615.7h1.1v1.1h-1.1zM314.4 606.6h0.7v0.7h-0.7zM311.3 608.4h1.3v1.3h-1.3z"/>
<path fill="#6d8fd8" opacity="0.75" d="M312.7 621.8h0.9v0.9h-0.9zM307.4 622.5h1.0v1.0h-1.0zM313.8 617.4h0.8v0.8h-0.8zM310.0 621.9h1.0v1.0h-1.0zM306.5 619.9h1.2v1.2h-1.2zM314.7 614.0h0.9v0.9h-0.9zM309.7 609.3h1.0v1.0h-1.0zM318.0 611.9h0.8v0.8h-0.8zM306.1 618.1h1.1v1.1h-1.1zM311.6 621.3h0.9v0.9h-0.9zM313.1 620.4h0.9v0.9h-0.9zM312.2 612.1h1.0v1.0h-1.0zM308.5 614.8h0.8v0.8h-0.8z"/>
<path fill="#8aa6e2" opacity="0.75" d="M310.0 616.8h1.1v1.1h-1.1zM301.1 617.5h0.7v0.7h-0.7zM309.8 609.3h0.9v0.9h-0.9zM308.6 613.4h0.7v0.7h-0.7zM306.7 615.2h1.2v1.2h-1.2zM313.6 614.6h0.8v0.8h-0.8zM308.5 612.6h0.8v0.8h-0.8zM312.7 620.2h1.0v1.0h-1.0zM305.7 614.8h0.8v0.8h-0.8zM309.1 607.1h1.0v1.0h-1.0zM305.9 623.1h0.8v0.8h-0.8z"/>
<path fill="#5b7fd0" opacity="0.75" d="M306.6 622.2h0.9v0.9h-0.9zM304.9 624.7h0.8v0.8h-0.8zM309.8 620.3h1.2v1.2h-1.2zM312.6 620.0h0.9v0.9h-0.9zM309.4 618.6h0.7v0.7h-0.7zM305.5 612.7h1.1v1.1h-1.1zM306.0 614.5h0.7v0.7h-0.7zM305.6 614.5h1.2v1.2h-1.2zM312.6 617.5h1.2v1.2h-1.2zM307.4 615.5h0.7v0.7h-0.7zM307.6 617.7h1.2v1.2h-1.2zM307.4 617.4h0.7v0.7h-0.7zM314.8 622.6h1.1v1.1h-1.1zM310.5 614.7h1.0v1.0h-1.0zM308.1 622.4h1.2v1.2h-1.2z"/>
<path fill="#a9bdeb" opacity="0.75" d="M305.5 619.4h1.2v1.2h-1.2zM308.3 617.3h0.9v0.9h-0.9zM315.7 619.8h1.0v1.0h-1.0zM308.7 616.6h1.0v1.0h-1.0zM314.7 617.5h0.9v0.9h-0.9zM309.7 616.7h0.9v0.9h-0.9zM305.7 615.5h1.2v1.2h-1.2zM312.1 611.6h1.3v1.3h-1.3zM316.4 608.1h1.1v1.1h-1.1zM313.4 623.6h0.7v0.7h-0.7zM310.8 618.9h1.3v1.3h-1.3zM304.0 605.7h1.1v1.1h-1.1zM310.3 613.0h1.2v1.2h-1.2zM307.7 611.2h0.9v0.9h-0.9zM309.3 626.2h0.9v0.9h-0.9zM310.9 619.6h0.9v0.9h-0.9zM314.6 616.7h1.2v1.2h-1.2zM312.0 616.6h0.9v0.9h-0.9zM308.3 612.6h1.1v1.1h-1.1zM308.0 620.4h1.3v1.3h-1.3zM308.0 620.1h1.2v1.2h-1.2zM309.4 619.9h0.9v0.9h-0.9zM313.5 610.8h1.2v1.2h-1.2zM306.2 621.4h1.3v1.3h-1.3z"/>
<path fill="#7f9be0" opacity="0.75" d="M310.2 614.2h1.3v1.3h-1.3zM313.5 619.4h0.9v0.9h-0.9zM311.9 612.6h0.9v0.9h-0.9zM303.0 613.7h1.0v1.0h-1.0zM307.9 619.9h1.0v1.0h-1.0zM310.4 623.4h0.8v0.8h-0.8zM306.5 618.1h1.2v1.2h-1.2zM308.1 614.4h0.8v0.8h-0.8zM311.3 625.9h1.2v1.2h-1.2zM310.3 609.9h1.1v1.1h-1.1zM310.1 620.6h0.9v0.9h-0.9zM308.8 616.0h0.9v0.9h-0.9zM305.9 615.9h0.8v0.8h-0.8z"/>
<path fill="#c3cff0" opacity="0.75" d="M311.7 615.4h0.7v0.7h-0.7zM304.8 615.7h1.2v1.2h-1.2zM312.2 614.4h0.7v0.7h-0.7zM310.2 623.6h1.0v1.0h-1.0zM312.6 616.6h1.2v1.2h-1.2zM306.9 613.2h1.3v1.3h-1.3zM301.4 623.2h1.1v1.1h-1.1zM310.7 616.9h1.2v1.2h-1.2zM311.0 622.7h1.2v1.2h-1.2zM308.1 612.4h0.8v0.8h-0.8zM313.2 615.6h1.0v1.0h-1.0zM310.3 622.8h0.8v0.8h-0.8zM311.4 616.0h1.0v1.0h-1.0zM309.5 607.9h1.0v1.0h-1.0z"/>
<path fill="#6d8fd8" opacity="0.75" d="M296.7 595.7h1.1v1.1h-1.1zM304.8 605.2h0.8v0.8h-0.8zM317.0 602.6h1.1v1.1h-1.1zM305.2 611.2h1.0v1.0h-1.0zM299.6 599.0h0.8v0.8h-0.8zM308.3 598.7h1.0v1.0h-1.0zM310.8 604.7h1.1v1.1h-1.1zM303.6 612.4h1.1v1.1h-1.1zM295.4 586.1h1.2v1.2h-1.2zM306.6 602.6h0.8v0.8h-0.8zM308.1 601.5h0.9v0.9h-0.9zM310.0 613.5h0.9v0.9h-0.9zM316.3 598.3h0.9v0.9h-0.9zM302.1 594.7h1.3v1.3h-1.3zM311.3 608.4h1.0v1.0h-1.0zM312.2 597.9h1.1v1.1h-1.1zM312.5 609.7h0.7v0.7h-0.7zM311.3 598.5h0.7v0.7h-0.7zM297.9 601.1h1.1v1.1h-1.1z"/>
<path fill="#8aa6e2" opacity="0.75" d="M316.9 601.9h1.1v1.1h-1.1zM302.9 589.8h0.9v0.9h-0.9zM305.6 602.3h1.0v1.0h-1.0zM299.1 608.7h0.8v0.8h-0.8zM321.7 611.8h0.8v0.8h-0.8zM305.4 600.1h0.7v0.7h-0.7zM303.7 602.1h1.3v1.3h-1.3zM308.3 599.1h1.3v1.3h-1.3zM309.0 605.9h1.1v1.1h-1.1zM302.0 602.9h0.9v0.9h-0.9zM299.1 607.8h1.2v1.2h-1.2zM314.8 618.6h0.9v0.9h-0.9zM311.7 599.5h0.9v0.9h-0.9zM310.8 604.0h1.1v1.1h-1.1zM311.8 610.3h0.8v0.8h-0.8zM306.5 612.8h1.1v1.1h-1.1zM311.8 615.8h1.2v1.2h-1.2zM314.5 624.0h1.2v1.2h-1.2zM298.5 603.1h1.0v1.0h-1.0zM304.1 598.4h1.2v1.2h-1.2z"/>
<path fill="#5b7fd0" opacity="0.75" d="M308.3 605.5h0.9v0.9h-0.9zM300.9 603.3h1.3v1.3h-1.3zM306.4 612.8h1.3v1.3h-1.3zM305.8 606.9h0.8v0.8h-0.8zM313.9 600.6h1.3v1.3h-1.3zM303.9 608.0h0.8v0.8h-0.8zM309.7 606.8h0.7v0.7h-0.7zM309.6 603.4h0.7v0.7h-0.7zM313.5 614.4h1.1v1.1h-1.1zM310.0 609.8h1.0v1.0h-1.0zM311.0 605.2h1.1v1.1h-1.1zM305.9 603.4h1.1v1.1h-1.1zM298.3 594.0h1.2v1.2h-1.2zM314.7 605.1h0.8v0.8h-0.8zM315.8 605.6h0.8v0.8h-0.8zM313.5 606.0h0.7v0.7h-0.7z"/>
<path fill="#a9bdeb" opacity="0.75" d="M309.2 612.9h1.0v1.0h-1.0zM306.2 596.3h0.7v0.7h-0.7zM309.2 612.2h0.8v0.8h-0.8zM310.8 613.0h0.8v0.8h-0.8zM308.4 605.0h1.2v1.2h-1.2zM303.5 599.3h0.8v0.8h-0.8zM311.6 606.9h1.0v1.0h-1.0zM316.9 618.1h1.2v1.2h-1.2zM305.1 608.1h0.9v0.9h-0.9zM306.4 593.2h0.8v0.8h-0.8zM307.8 611.2h0.8v0.8h-0.8zM306.8 605.7h1.3v1.3h-1.3zM307.3 602.9h1.2v1.2h-1.2zM296.5 602.0h1.0v1.0h-1.0zM308.5 604.6h0.8v0.8h-0.8zM310.5 605.1h0.9v0.9h-0.9zM309.1 600.6h1.1v1.1h-1.1zM309.6 600.7h1.2v1.2h-1.2zM312.0 611.8h1.3v1.3h-1.3zM315.6 600.3h0.8v0.8h-0.8zM312.4 615.1h1.3v1.3h-1.3zM309.6 602.2h0.8v0.8h-0.8zM310.3 611.9h0.8v0.8h-0.8z"/>
<path fill="#7f9be0" opacity="0.75" d="M310.3 605.6h1.1v1.1h-1.1zM315.8 613.4h1.3v1.3h-1.3zM304.2 608.7h1.0v1.0h-1.0zM315.1 604.0h0.8v0.8h-0.8zM310.9 602.6h0.7v0.7h-0.7zM306.4 598.2h0.8v0.8h-0.8zM303.7 604.4h1.1v1.1h-1.1zM304.8 602.5h1.1v1.1h-1.1zM306.2 615.7h0.7v0.7h-0.7zM308.9 605.6h0.8v0.8h-0.8zM311.8 611.2h1.1v1.1h-1.1zM310.9 608.0h1.0v1.0h-1.0zM309.6 612.6h1.0v1.0h-1.0zM301.6 601.1h0.7v0.7h-0.7zM308.4 609.1h0.9v0.9h-0.9zM313.5 606.7h0.9v0.9h-0.9zM299.6 602.3h1.1v1.1h-1.1zM306.8 608.6h0.8v0.8h-0.8z"/>
<path fill="#c3cff0" opacity="0.75" d="M310.8 613.6h1.3v1.3h-1.3zM297.3 599.8h0.8v0.8h-0.8zM318.2 605.2h0.9v0.9h-0.9zM312.1 612.3h0.9v0.9h-0.9zM306.6 608.6h0.7v0.7h-0.7zM307.9 616.3h0.8v0.8h-0.8zM308.0 595.5h1.2v1.2h-1.2zM307.7 608.2h1.0v1.0h-1.0zM307.7 613.6h0.7v0.7h-0.7zM305.7 602.5h1.0v1.0h-1.0zM308.4 596.8h1.1v1.1h-1.1zM307.1 607.5h1.0v1.0h-1.0zM312.3 608.3h1.1v1.1h-1.1zM310.3 606.1h0.8v0.8h-0.8zM307.8 611.0h1.2v1.2h-1.2zM304.6 603.9h0.9v0.9h-0.9zM305.1 612.6h0.7v0.7h-0.7zM309.5 607.0h1.1v1.1h-1.1zM309.0 610.1h1.1v1.1h-1.1zM303.6 607.5h0.9v0.9h-0.9zM307.1 612.8h1.0v1.0h-1.0zM309.6 595.1h0.8v0.8h-0.8zM312.2 612.9h1.3v1.3h-1.3zM310.1 608.8h1.3v1.3h-1.3z"/>
<path d="M315.2 600.9 C 315.5 606.9, 313.5 612.9, 310.5 615.9 C 307 616.9, 304 613.9, 303.2 609.9 C 302.8 605.9, 304 602.9, 306 600.9 Z" fill="#4d7ccd" opacity="0.85" filter="url(#bl1)"/>
<path d="M314.6 594.6999999999999 C 316.8 595.5, 316.6 599.9, 315.6 603.9 C 315 607.9, 313 610.4, 310.5 610.9 C 307 610.4, 304.5 607.9, 303.8 604.9 C 303.4 602.9, 303.6 601.4, 304.8 600.3 C 307.5 597.9, 311.5 594.5, 314.6 594.6999999999999 Z" fill="#2556b2" opacity="1.0" filter="url(#bl1)"/>
<ellipse cx="310.00" cy="600.30" rx="5.4" ry="3.8" fill="#36a2bc" opacity="1.0" filter="url(#bl1)" transform="rotate(-25 310.00 600.30)"/>
<ellipse cx="310.20" cy="599.90" rx="4.2" ry="2.8" fill="#6cc23e" opacity="1.0" filter="url(#bl1)" transform="rotate(-25 310.20 599.90)"/>
<ellipse cx="310.50" cy="599.70" rx="1.4" ry="1.0" fill="#b8dc30" opacity="1.0" filter="url(#bl1)"/>
<ellipse cx="297.00" cy="618.40" rx="1.8" ry="5.0" fill="#2556b2" opacity="1.0" filter="url(#bl1)" transform="rotate(25 297.00 618.40)"/>
<ellipse cx="296.00" cy="621.90" rx="3.0" ry="3.2" fill="#2f86c0" opacity="1.0" filter="url(#bl1)"/>
<ellipse cx="295.80" cy="622.10" rx="2.1" ry="2.2" fill="#8cce3e" opacity="1.0" filter="url(#bl1)"/>
<ellipse cx="295.60" cy="622.30" rx="1.1" ry="1.1" fill="#ec9820" opacity="1.0" filter="url(#bl1)"/>
<line x1="301.50" y1="578.90" x2="301.50" y2="631.30" stroke="#555" stroke-width="0.8" />
<line x1="287.40" y1="613.50" x2="340.40" y2="613.50" stroke="#555" stroke-width="0.8" />
<text x="325.60" y="586.50" font-size="4.9" text-anchor="middle" fill="#4a4a4a" >Myeloid cells</text>
<text x="325.60" y="591.20" font-size="4.9" text-anchor="middle" fill="#4a4a4a" >44.7</text>
<line x1="290.40" y1="630.10" x2="290.40" y2="631.30" stroke="#333" stroke-width="0.5" />
<line x1="302.15" y1="630.10" x2="302.15" y2="631.30" stroke="#333" stroke-width="0.5" />
<line x1="313.90" y1="630.10" x2="313.90" y2="631.30" stroke="#333" stroke-width="0.5" />
<line x1="325.65" y1="630.10" x2="325.65" y2="631.30" stroke="#333" stroke-width="0.5" />
<line x1="337.40" y1="630.10" x2="337.40" y2="631.30" stroke="#333" stroke-width="0.5" />
<line x1="212.50" y1="630.60" x2="212.50" y2="527.60" stroke="#1a1a1a" stroke-width="1.1" />
<path d="M210.80 528.60 L212.60 524.60 L214.40 528.60 Z" fill="#111"/>
<line x1="216.60" y1="634.50" x2="265.00" y2="634.50" stroke="#1a1a1a" stroke-width="1.1" />
<path d="M264.00 633.10 L268.00 634.90 L264.00 636.70 Z" fill="#111"/>
<line x1="283.50" y1="630.80" x2="283.50" y2="527.60" stroke="#1a1a1a" stroke-width="1.1" />
<path d="M282.00 528.60 L283.80 524.60 L285.60 528.60 Z" fill="#111"/>
<line x1="287.70" y1="634.50" x2="335.00" y2="634.50" stroke="#1a1a1a" stroke-width="1.1" />
<path d="M334.00 632.80 L338.00 634.60 L334.00 636.40 Z" fill="#111"/>
<text x="236.40" y="647.00" font-size="9.6" fill="#111" stroke="#111" stroke-width="0.3" textLength="14.50" lengthAdjust="spacingAndGlyphs">B220</text>
<text x="307.20" y="646.40" font-size="9.6" fill="#111" stroke="#111" stroke-width="0.3" textLength="11.20" lengthAdjust="spacingAndGlyphs">Gr-1</text>
<text x="0" y="0" font-size="10.0" text-anchor="middle" fill="#111" stroke="#111" stroke-width="0.35" textLength="9.20" lengthAdjust="spacingAndGlyphs" transform="translate(204.20 549.50) rotate(-90)" dy="0.35em">WT</text>
<text x="0" y="0" font-size="10.0" text-anchor="middle" fill="#111" stroke="#111" stroke-width="0.35" transform="translate(204.00 605.50) rotate(-90)" dy="0.35em" textLength="28.5" lengthAdjust="spacingAndGlyphs">MC5R<tspan font-size="6.0" dy="-4.0" stroke-width="0.15">−/−</tspan></text>
<text x="0" y="0" font-size="7.6" text-anchor="middle" fill="#111" stroke="#111" stroke-width="0.35" textLength="11.00" lengthAdjust="spacingAndGlyphs" transform="translate(205.90 570.00) rotate(-90)" dy="0.35em">CD3e</text>
<text x="0" y="0" font-size="10.4" text-anchor="middle" fill="#111" stroke="#111" stroke-width="0.35" textLength="19.20" lengthAdjust="spacingAndGlyphs" transform="translate(278.60 575.50) rotate(-90)" dy="0.35em">CD11b</text>
<line x1="394.50" y1="529.50" x2="394.50" y2="614.80" stroke="#1a1a1a" stroke-width="1.0" />
<line x1="391.80" y1="532.50" x2="394.60" y2="532.50" stroke="#1a1a1a" stroke-width="0.9" />
<text x="389.00" y="535.29" font-size="8.3" text-anchor="end" fill="#333" >60</text>
<line x1="391.80" y1="559.50" x2="394.60" y2="559.50" stroke="#1a1a1a" stroke-width="0.9" />
<text x="389.00" y="562.79" font-size="8.3" text-anchor="end" fill="#333" >40</text>
<line x1="391.80" y1="587.50" x2="394.60" y2="587.50" stroke="#1a1a1a" stroke-width="0.9" />
<text x="389.00" y="590.29" font-size="8.3" text-anchor="end" fill="#333" >20</text>
<line x1="391.80" y1="614.50" x2="394.60" y2="614.50" stroke="#1a1a1a" stroke-width="0.9" />
<text x="389.00" y="617.79" font-size="8.3" text-anchor="end" fill="#333" >0</text>
<line x1="394.10" y1="614.50" x2="507.00" y2="614.50" stroke="#1a1a1a" stroke-width="1.0" />
<rect x="400.00" y="610.00" width="10.00" height="4.80" fill="#c8082e" />
<rect x="415.50" y="611.20" width="10.70" height="3.60" fill="#13508c" />
<rect x="436.20" y="573.80" width="10.80" height="41.00" fill="#c8082e" />
<rect x="452.00" y="571.20" width="10.50" height="43.60" fill="#13508c" />
<rect x="473.00" y="552.80" width="10.90" height="62.00" fill="#c8082e" />
<rect x="488.80" y="553.70" width="10.40" height="61.10" fill="#13508c" />
<circle cx="402.09" cy="616.18" r="1.25" fill="none" stroke="rgba(0,0,0,0.45)" stroke-width="0.55"/>
<circle cx="405.41" cy="612.24" r="1.25" fill="none" stroke="rgba(0,0,0,0.45)" stroke-width="0.55"/>
<circle cx="401.99" cy="618.55" r="1.25" fill="none" stroke="rgba(0,0,0,0.45)" stroke-width="0.55"/>
<circle cx="404.41" cy="613.74" r="1.25" fill="none" stroke="rgba(0,0,0,0.45)" stroke-width="0.55"/>
<line x1="405.00" y1="610.00" x2="405.00" y2="609.20" stroke="#1a1a1a" stroke-width="0.7" />
<line x1="403.80" y1="609.20" x2="406.20" y2="609.20" stroke="#1a1a1a" stroke-width="0.7" />
<circle cx="403.00" cy="609.50" r="1.25" fill="none" stroke="#1a1a1a" stroke-width="0.55"/>
<circle cx="406.00" cy="609.00" r="1.25" fill="none" stroke="#1a1a1a" stroke-width="0.55"/>
<circle cx="408.00" cy="610.00" r="1.25" fill="none" stroke="#1a1a1a" stroke-width="0.55"/>
<path d="M422.32 615.47 L423.62 613.17 L424.92 615.47 Z" fill="none" stroke="rgba(0,0,0,0.45)" stroke-width="0.55"/>
<path d="M419.57 614.71 L420.87 612.41 L422.17 614.71 Z" fill="none" stroke="rgba(0,0,0,0.45)" stroke-width="0.55"/>
<path d="M416.48 614.86 L417.78 612.56 L419.08 614.86 Z" fill="none" stroke="rgba(0,0,0,0.45)" stroke-width="0.55"/>
<path d="M420.38 615.59 L421.68 613.29 L422.98 615.59 Z" fill="none" stroke="rgba(0,0,0,0.45)" stroke-width="0.55"/>
<line x1="420.80" y1="611.20" x2="420.80" y2="610.40" stroke="#1a1a1a" stroke-width="0.7" />
<line x1="419.60" y1="610.40" x2="422.00" y2="610.40" stroke="#1a1a1a" stroke-width="0.7" />
<path d="M417.50 611.70 L418.80 609.40 L420.10 611.70 Z" fill="none" stroke="#1a1a1a" stroke-width="0.55"/>
<path d="M420.50 611.20 L421.80 608.90 L423.10 611.20 Z" fill="none" stroke="#1a1a1a" stroke-width="0.55"/>
<path d="M422.50 612.20 L423.80 609.90 L425.10 612.20 Z" fill="none" stroke="#1a1a1a" stroke-width="0.55"/>
<circle cx="442.15" cy="581.17" r="1.25" fill="none" stroke="rgba(0,0,0,0.45)" stroke-width="0.55"/>
<circle cx="440.14" cy="581.93" r="1.25" fill="none" stroke="rgba(0,0,0,0.45)" stroke-width="0.55"/>
<circle cx="444.09" cy="582.46" r="1.25" fill="none" stroke="rgba(0,0,0,0.45)" stroke-width="0.55"/>
<circle cx="442.44" cy="577.77" r="1.25" fill="none" stroke="rgba(0,0,0,0.45)" stroke-width="0.55"/>
<line x1="441.60" y1="573.80" x2="441.60" y2="569.80" stroke="#1a1a1a" stroke-width="0.7" />
<line x1="440.40" y1="569.80" x2="442.80" y2="569.80" stroke="#1a1a1a" stroke-width="0.7" />
<circle cx="439.60" cy="570.80" r="1.25" fill="none" stroke="#1a1a1a" stroke-width="0.55"/>
<circle cx="441.60" cy="567.80" r="1.25" fill="none" stroke="#1a1a1a" stroke-width="0.55"/>
<circle cx="443.60" cy="570.80" r="1.25" fill="none" stroke="#1a1a1a" stroke-width="0.55"/>
<circle cx="441.60" cy="575.80" r="1.25" fill="none" stroke="#1a1a1a" stroke-width="0.55"/>
<path d="M456.03 575.75 L457.33 573.45 L458.63 575.75 Z" fill="none" stroke="rgba(0,0,0,0.45)" stroke-width="0.55"/>
<path d="M457.44 579.68 L458.74 577.38 L460.04 579.68 Z" fill="none" stroke="rgba(0,0,0,0.45)" stroke-width="0.55"/>
<path d="M456.84 573.86 L458.14 571.56 L459.44 573.86 Z" fill="none" stroke="rgba(0,0,0,0.45)" stroke-width="0.55"/>
<path d="M454.24 576.24 L455.54 573.94 L456.84 576.24 Z" fill="none" stroke="rgba(0,0,0,0.45)" stroke-width="0.55"/>
<line x1="457.20" y1="571.20" x2="457.20" y2="565.20" stroke="#1a1a1a" stroke-width="0.7" />
<line x1="456.00" y1="565.20" x2="458.40" y2="565.20" stroke="#1a1a1a" stroke-width="0.7" />
<path d="M456.90 564.20 L458.20 561.90 L459.50 564.20 Z" fill="none" stroke="#1a1a1a" stroke-width="0.55"/>
<path d="M454.90 567.20 L456.20 564.90 L457.50 567.20 Z" fill="none" stroke="#1a1a1a" stroke-width="0.55"/>
<path d="M457.90 575.20 L459.20 572.90 L460.50 575.20 Z" fill="none" stroke="#1a1a1a" stroke-width="0.55"/>
<circle cx="477.22" cy="560.07" r="1.25" fill="none" stroke="rgba(0,0,0,0.45)" stroke-width="0.55"/>
<circle cx="475.76" cy="556.45" r="1.25" fill="none" stroke="rgba(0,0,0,0.45)" stroke-width="0.55"/>
<circle cx="477.70" cy="561.02" r="1.25" fill="none" stroke="rgba(0,0,0,0.45)" stroke-width="0.55"/>
<circle cx="477.43" cy="558.75" r="1.25" fill="none" stroke="rgba(0,0,0,0.45)" stroke-width="0.55"/>
<line x1="478.40" y1="552.80" x2="478.40" y2="549.80" stroke="#1a1a1a" stroke-width="0.7" />
<line x1="477.20" y1="549.80" x2="479.60" y2="549.80" stroke="#1a1a1a" stroke-width="0.7" />
<circle cx="477.40" cy="547.80" r="1.25" fill="none" stroke="#1a1a1a" stroke-width="0.55"/>
<circle cx="479.90" cy="544.80" r="1.25" fill="none" stroke="#1a1a1a" stroke-width="0.55"/>
<path d="M492.14 559.26 L493.44 556.96 L494.74 559.26 Z" fill="none" stroke="rgba(0,0,0,0.45)" stroke-width="0.55"/>
<path d="M495.25 562.94 L496.55 560.64 L497.85 562.94 Z" fill="none" stroke="rgba(0,0,0,0.45)" stroke-width="0.55"/>
<path d="M491.47 562.56 L492.77 560.26 L494.07 562.56 Z" fill="none" stroke="rgba(0,0,0,0.45)" stroke-width="0.55"/>
<path d="M495.63 562.47 L496.93 560.17 L498.23 562.47 Z" fill="none" stroke="rgba(0,0,0,0.45)" stroke-width="0.55"/>
<line x1="494.00" y1="553.70" x2="494.00" y2="550.20" stroke="#1a1a1a" stroke-width="0.7" />
<line x1="492.80" y1="550.20" x2="495.20" y2="550.20" stroke="#1a1a1a" stroke-width="0.7" />
<path d="M490.70 549.70 L492.00 547.40 L493.30 549.70 Z" fill="none" stroke="#1a1a1a" stroke-width="0.55"/>
<path d="M492.70 549.70 L494.00 547.40 L495.30 549.70 Z" fill="none" stroke="#1a1a1a" stroke-width="0.55"/>
<path d="M494.70 549.70 L496.00 547.40 L497.30 549.70 Z" fill="none" stroke="#1a1a1a" stroke-width="0.55"/>
<line x1="413.50" y1="614.80" x2="413.50" y2="616.80" stroke="#1a1a1a" stroke-width="0.8" />
<line x1="449.50" y1="614.80" x2="449.50" y2="616.80" stroke="#1a1a1a" stroke-width="0.8" />
<line x1="486.50" y1="614.80" x2="486.50" y2="616.80" stroke="#1a1a1a" stroke-width="0.8" />
<text x="401.20" y="628.60" font-size="9.4" text-anchor="start" textLength="22.60" lengthAdjust="spacingAndGlyphs" >T cells</text>
<text x="437.50" y="628.60" font-size="9.4" text-anchor="start" textLength="23.60" lengthAdjust="spacingAndGlyphs" >B cells</text>
<text x="472.50" y="628.60" font-size="9.4" text-anchor="start" textLength="27.50" lengthAdjust="spacingAndGlyphs" >Myeloid</text>
<text x="477.50" y="638.60" font-size="9.4" text-anchor="start" textLength="16.30" lengthAdjust="spacingAndGlyphs" >cells</text>
<rect x="399.70" y="533.00" width="4.60" height="4.60" fill="#c8082e" />
<text x="407.00" y="537.40" font-size="9.2" text-anchor="start" fill="#222" >WT</text>
<rect x="399.70" y="539.80" width="4.60" height="4.60" fill="#13508c" />
<text x="407.00" y="544.20" font-size="9.2" text-anchor="start" fill="#222" >MC5R<tspan font-size="5.5" dy="-3.6">−/−</tspan></text>
<text x="0" y="0" font-size="8.8" text-anchor="middle" fill="#111" stroke="#111" stroke-width="0.35" textLength="44.50" lengthAdjust="spacingAndGlyphs" transform="translate(370.30 572.30) rotate(-90)" dy="0.35em">Frequency (%)</text>
<line x1="0" y1="0.5" x2="520" y2="0.5" stroke="#4a4a4a" stroke-width="1.2"/>
<line x1="0.5" y1="0" x2="0.5" y2="656" stroke="#555" stroke-width="1.2"/>
<line x1="0" y1="655.5" x2="520" y2="655.5" stroke="#4a4a4a" stroke-width="1.2"/>
<line x1="519.4" y1="0" x2="519.4" y2="656" stroke="#777" stroke-width="1.0"/>
</svg>
</body></html>
